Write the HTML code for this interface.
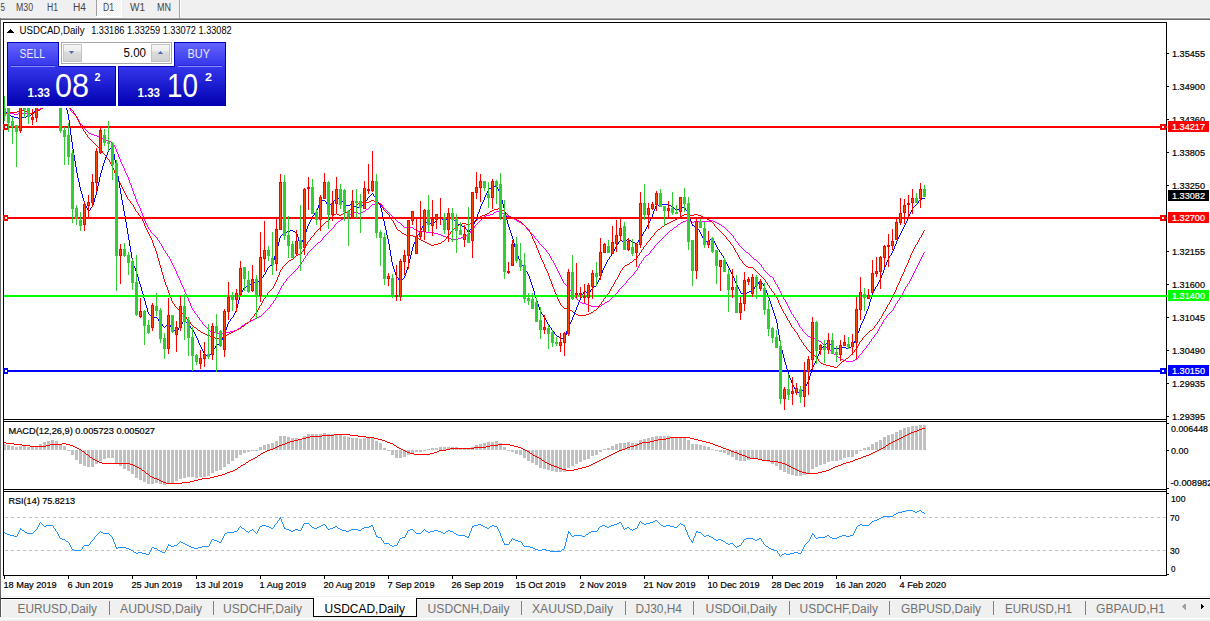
<!DOCTYPE html>
<html><head><meta charset="utf-8"><style>
html,body{margin:0;padding:0}
body{width:1210px;height:621px;overflow:hidden;background:#fff;position:relative;font-family:"Liberation Sans",sans-serif}
svg{position:absolute;left:0;top:0}
svg text{font-family:"Liberation Sans",sans-serif}
.btn{position:absolute;background:linear-gradient(#5a5aff,#2828e6);box-sizing:border-box;border:1px solid #1a1ad0}
.pbox{position:absolute;background:linear-gradient(#2a2ae6,#0000b4);box-sizing:border-box;border:1px solid #0000a8}
.spin{position:absolute;background:linear-gradient(#f4f4f4 0%,#ececec 45%,#dcdcdc 55%,#d4d4d4 100%);box-sizing:border-box;border:1px solid #c4c4c4}
</style></head><body>
<svg width="1210" height="621" shape-rendering="crispEdges">
<defs>
<pattern id="chk" x="0" y="0" width="2" height="2" patternUnits="userSpaceOnUse"><rect width="2" height="2" fill="#f0f0f0"/><rect width="1" height="1" fill="#fff"/><rect x="1" y="1" width="1" height="1" fill="#fff"/></pattern>
<clipPath id="cmain"><rect x="4" y="23" width="1163" height="396"/></clipPath>
<clipPath id="cmacd"><rect x="4" y="422" width="1162" height="67"/></clipPath>
<clipPath id="crsi"><rect x="4" y="492" width="1162" height="83"/></clipPath>
</defs>
<rect x="0" y="0" width="1210" height="17" fill="#f0f0f0"/>
<rect x="0" y="17" width="1210" height="1" fill="#f7f7f7"/>
<rect x="0" y="18" width="1210" height="1" fill="#a0a0a0"/>
<rect x="0" y="19" width="1210" height="1" fill="#696969"/>
<rect x="97" y="0" width="24" height="16" fill="url(#chk)"/>
<rect x="96" y="0" width="1" height="16" fill="#a0a0a0"/>
<rect x="121" y="0" width="1" height="17" fill="#ffffff"/>
<rect x="96" y="16" width="26" height="1" fill="#ffffff"/>
<rect x="179" y="0" width="1" height="18" fill="#a0a0a0"/>
<rect x="180" y="0" width="1" height="17" fill="#ffffff"/>
<text x="0.5" y="10.5" font-size="10" fill="#444" textLength="4.5" lengthAdjust="spacingAndGlyphs" >5</text>
<text x="16" y="10.5" font-size="10" fill="#444" textLength="17" lengthAdjust="spacingAndGlyphs" >M30</text>
<text x="47" y="10.5" font-size="10" fill="#444" textLength="11" lengthAdjust="spacingAndGlyphs" >H1</text>
<text x="73" y="10.5" font-size="10" fill="#444" textLength="13" lengthAdjust="spacingAndGlyphs" >H4</text>
<text x="103" y="10.5" font-size="10" fill="#444" textLength="11" lengthAdjust="spacingAndGlyphs" >D1</text>
<text x="130" y="10.5" font-size="10" fill="#444" textLength="15" lengthAdjust="spacingAndGlyphs" >W1</text>
<text x="157" y="10.5" font-size="10" fill="#444" textLength="14" lengthAdjust="spacingAndGlyphs" >MN</text>
<rect x="0" y="18" width="1" height="578" fill="#696969"/>
<rect x="3" y="22" width="1164" height="1" fill="#000"/>
<rect x="3" y="22" width="1" height="554" fill="#000"/>
<rect x="1166" y="22" width="1" height="554" fill="#000"/>
<rect x="3" y="419" width="1164" height="1" fill="#000"/>
<rect x="3" y="421" width="1164" height="1" fill="#000"/>
<rect x="3" y="489" width="1164" height="1" fill="#000"/>
<rect x="3" y="491" width="1164" height="1" fill="#000"/>
<rect x="3" y="575" width="1164" height="1" fill="#000"/>
<g clip-path="url(#cmain)">
<path d="M0 112h1v1h-1zM1 112h1v1h-1zM2 111h1v1h-1zM3 111h1v1h-1zM4 111h1v1h-1zM5 111h1v1h-1zM6 112h1v1h-1zM7 112h1v1h-1zM8 112h1v1h-1zM9 112h1v1h-1zM10 113h1v1h-1zM11 113h1v1h-1zM12 113h1v1h-1zM13 113h1v1h-1zM14 114h1v1h-1zM15 114h1v1h-1zM16 114h1v1h-1zM17 114h1v1h-1zM18 113h1v1h-1zM19 113h1v1h-1zM20 113h1v1h-1zM21 113h1v1h-1zM22 113h1v1h-1zM23 113h1v1h-1zM24 113h1v1h-1zM25 113h1v1h-1zM26 113h1v1h-1zM27 113h1v1h-1zM28 113h1v1h-1zM29 113h1v1h-1zM30 113h1v1h-1zM31 113h1v1h-1zM32 113h1v1h-1zM33 112h1v1h-1zM34 112h1v1h-1zM35 111h1v1h-1zM36 111h1v1h-1zM37 110h1v1h-1zM38 109h1v1h-1zM39 109h1v1h-1zM40 108h1v1h-1zM41 107h1v1h-1zM42 107h1v1h-1zM43 106h1v1h-1zM44 106h1v1h-1zM45 106h1v1h-1zM46 105h1v1h-1zM47 105h1v1h-1zM48 105h1v1h-1zM49 104h1v1h-1zM50 104h1v1h-1zM51 103h1v1h-1zM52 103h1v1h-1zM53 103h1v1h-1zM54 102h1v1h-1zM55 102h1v1h-1zM56 102h1v1h-1zM57 103h1v1h-1zM58 103h1v1h-1zM59 104h1v1h-1zM60 104h1v1h-1zM61 104h1v1h-1zM62 105h1v1h-1zM63 105h1v1h-1zM64 105h1v1h-1zM65 106h1v1h-1zM66 106h1v1h-1zM67 107h1v1h-1zM68 107h1v1h-1zM69 108h1v1h-1zM70 109h1v2h-1zM71 111h1v1h-1zM72 112h1v1h-1zM73 113h1v1h-1zM74 114h1v1h-1zM75 115h1v1h-1zM76 116h1v1h-1zM77 117h1v2h-1zM78 119h1v2h-1zM79 121h1v2h-1zM80 123h1v1h-1zM81 124h1v1h-1zM82 125h1v2h-1zM83 127h1v1h-1zM84 128h1v1h-1zM85 129h1v1h-1zM86 130h1v1h-1zM87 131h1v1h-1zM88 132h1v1h-1zM89 133h1v1h-1zM90 133h1v1h-1zM91 134h1v1h-1zM92 134h1v1h-1zM93 134h1v1h-1zM94 135h1v1h-1zM95 135h1v1h-1zM96 135h1v1h-1zM97 136h1v1h-1zM98 136h1v1h-1zM99 137h1v1h-1zM100 137h1v1h-1zM101 138h1v1h-1zM102 138h1v1h-1zM103 139h1v1h-1zM104 139h1v1h-1zM105 139h1v1h-1zM106 140h1v1h-1zM107 140h1v1h-1zM108 140h1v1h-1zM109 141h1v1h-1zM110 141h1v1h-1zM111 142h1v1h-1zM112 142h1v1h-1zM113 143h1v2h-1zM114 145h1v2h-1zM115 147h1v2h-1zM116 149h1v3h-1zM117 152h1v2h-1zM118 154h1v3h-1zM119 157h1v2h-1zM120 159h1v3h-1zM121 162h1v2h-1zM122 164h1v2h-1zM123 166h1v2h-1zM124 168h1v3h-1zM125 171h1v2h-1zM126 173h1v2h-1zM127 175h1v2h-1zM128 177h1v3h-1zM129 180h1v3h-1zM130 183h1v2h-1zM131 185h1v3h-1zM132 188h1v3h-1zM133 191h1v3h-1zM134 194h1v2h-1zM135 196h1v3h-1zM136 199h1v3h-1zM137 202h1v2h-1zM138 204h1v2h-1zM139 206h1v2h-1zM140 208h1v3h-1zM141 211h1v2h-1zM142 213h1v3h-1zM143 216h1v2h-1zM144 218h1v3h-1zM145 221h1v2h-1zM146 223h1v2h-1zM147 225h1v2h-1zM148 227h1v2h-1zM149 229h1v1h-1zM150 230h1v2h-1zM151 232h1v1h-1zM152 233h1v1h-1zM153 234h1v1h-1zM154 235h1v1h-1zM155 236h1v1h-1zM156 237h1v1h-1zM157 238h1v2h-1zM158 240h1v1h-1zM159 241h1v2h-1zM160 243h1v1h-1zM161 244h1v2h-1zM162 246h1v2h-1zM163 248h1v2h-1zM164 250h1v1h-1zM165 251h1v2h-1zM166 253h1v1h-1zM167 254h1v2h-1zM168 256h1v1h-1zM169 257h1v2h-1zM170 259h1v2h-1zM171 261h1v2h-1zM172 263h1v2h-1zM173 265h1v2h-1zM174 267h1v2h-1zM175 269h1v2h-1zM176 271h1v3h-1zM177 274h1v2h-1zM178 276h1v2h-1zM179 278h1v2h-1zM180 280h1v3h-1zM181 283h1v2h-1zM182 285h1v2h-1zM183 287h1v2h-1zM184 289h1v3h-1zM185 292h1v2h-1zM186 294h1v2h-1zM187 296h1v2h-1zM188 298h1v3h-1zM189 301h1v2h-1zM190 303h1v3h-1zM191 306h1v2h-1zM192 308h1v2h-1zM193 310h1v1h-1zM194 311h1v2h-1zM195 313h1v1h-1zM196 314h1v1h-1zM197 315h1v2h-1zM198 317h1v1h-1zM199 318h1v2h-1zM200 320h1v1h-1zM201 321h1v1h-1zM202 322h1v2h-1zM203 324h1v1h-1zM204 325h1v1h-1zM205 326h1v1h-1zM206 327h1v1h-1zM207 328h1v1h-1zM208 329h1v1h-1zM209 330h1v1h-1zM210 331h1v1h-1zM211 331h1v1h-1zM212 332h1v1h-1zM213 332h1v1h-1zM214 332h1v1h-1zM215 332h1v1h-1zM216 332h1v1h-1zM217 333h1v1h-1zM218 333h1v1h-1zM219 334h1v1h-1zM220 334h1v1h-1zM221 334h1v1h-1zM222 333h1v1h-1zM223 333h1v1h-1zM224 333h1v1h-1zM225 333h1v1h-1zM226 332h1v1h-1zM227 332h1v1h-1zM228 332h1v1h-1zM229 332h1v1h-1zM230 331h1v1h-1zM231 331h1v1h-1zM232 331h1v1h-1zM233 331h1v1h-1zM234 330h1v1h-1zM235 330h1v1h-1zM236 330h1v1h-1zM237 329h1v1h-1zM238 328h1v1h-1zM239 328h1v1h-1zM240 327h1v1h-1zM241 326h1v1h-1zM242 325h1v1h-1zM243 325h1v1h-1zM244 324h1v1h-1zM245 323h1v1h-1zM246 323h1v1h-1zM247 322h1v1h-1zM248 322h1v1h-1zM249 321h1v1h-1zM250 321h1v1h-1zM251 320h1v1h-1zM252 320h1v1h-1zM253 319h1v1h-1zM254 319h1v1h-1zM255 318h1v1h-1zM256 318h1v1h-1zM257 317h1v1h-1zM258 317h1v1h-1zM259 316h1v1h-1zM260 316h1v1h-1zM261 315h1v1h-1zM262 314h1v1h-1zM263 313h1v1h-1zM264 312h1v1h-1zM265 311h1v1h-1zM266 310h1v1h-1zM267 309h1v1h-1zM268 308h1v1h-1zM269 307h1v1h-1zM270 305h1v2h-1zM271 304h1v1h-1zM272 303h1v1h-1zM273 301h1v2h-1zM274 300h1v1h-1zM275 298h1v2h-1zM276 296h1v2h-1zM277 294h1v2h-1zM278 292h1v2h-1zM279 290h1v2h-1zM280 288h1v2h-1zM281 286h1v2h-1zM282 285h1v1h-1zM283 283h1v2h-1zM284 282h1v1h-1zM285 281h1v1h-1zM286 279h1v2h-1zM287 278h1v1h-1zM288 277h1v1h-1zM289 276h1v1h-1zM290 275h1v1h-1zM291 274h1v1h-1zM292 273h1v1h-1zM293 272h1v1h-1zM294 271h1v1h-1zM295 270h1v1h-1zM296 269h1v1h-1zM297 268h1v1h-1zM298 266h1v2h-1zM299 265h1v1h-1zM300 264h1v1h-1zM301 262h1v2h-1zM302 261h1v1h-1zM303 259h1v2h-1zM304 258h1v1h-1zM305 256h1v2h-1zM306 255h1v1h-1zM307 253h1v2h-1zM308 252h1v1h-1zM309 251h1v1h-1zM310 250h1v1h-1zM311 249h1v1h-1zM312 248h1v1h-1zM313 247h1v1h-1zM314 246h1v1h-1zM315 245h1v1h-1zM316 244h1v1h-1zM317 243h1v1h-1zM318 242h1v1h-1zM319 242h1v1h-1zM320 241h1v1h-1zM321 240h1v1h-1zM322 238h1v2h-1zM323 237h1v1h-1zM324 236h1v1h-1zM325 235h1v1h-1zM326 234h1v1h-1zM327 233h1v1h-1zM328 232h1v1h-1zM329 231h1v1h-1zM330 230h1v1h-1zM331 229h1v1h-1zM332 228h1v1h-1zM333 227h1v1h-1zM334 225h1v2h-1zM335 224h1v1h-1zM336 223h1v1h-1zM337 222h1v1h-1zM338 221h1v1h-1zM339 221h1v1h-1zM340 220h1v1h-1zM341 219h1v1h-1zM342 219h1v1h-1zM343 218h1v1h-1zM344 218h1v1h-1zM345 217h1v1h-1zM346 217h1v1h-1zM347 216h1v1h-1zM348 216h1v1h-1zM349 215h1v1h-1zM350 214h1v1h-1zM351 214h1v1h-1zM352 213h1v1h-1zM353 213h1v1h-1zM354 212h1v1h-1zM355 212h1v1h-1zM356 212h1v1h-1zM357 212h1v1h-1zM358 213h1v1h-1zM359 213h1v1h-1zM360 213h1v1h-1zM361 212h1v1h-1zM362 212h1v1h-1zM363 211h1v1h-1zM364 211h1v1h-1zM365 210h1v1h-1zM366 209h1v1h-1zM367 209h1v1h-1zM368 208h1v1h-1zM369 207h1v1h-1zM370 206h1v1h-1zM371 205h1v1h-1zM372 204h1v1h-1zM373 204h1v1h-1zM374 204h1v1h-1zM375 204h1v1h-1zM376 204h1v1h-1zM377 204h1v1h-1zM378 203h1v1h-1zM379 203h1v1h-1zM380 203h1v1h-1zM381 204h1v1h-1zM382 205h1v2h-1zM383 207h1v1h-1zM384 208h1v1h-1zM385 209h1v1h-1zM386 210h1v1h-1zM387 211h1v1h-1zM388 212h1v1h-1zM389 213h1v1h-1zM390 214h1v1h-1zM391 215h1v1h-1zM392 216h1v1h-1zM393 217h1v1h-1zM394 218h1v1h-1zM395 219h1v1h-1zM396 220h1v1h-1zM397 221h1v1h-1zM398 222h1v1h-1zM399 222h1v1h-1zM400 223h1v1h-1zM401 224h1v1h-1zM402 225h1v1h-1zM403 226h1v1h-1zM404 227h1v1h-1zM405 227h1v1h-1zM406 227h1v1h-1zM407 227h1v1h-1zM408 227h1v1h-1zM409 227h1v1h-1zM410 227h1v1h-1zM411 227h1v1h-1zM412 227h1v1h-1zM413 228h1v1h-1zM414 229h1v1h-1zM415 229h1v1h-1zM416 230h1v1h-1zM417 230h1v1h-1zM418 231h1v1h-1zM419 231h1v1h-1zM420 231h1v1h-1zM421 231h1v1h-1zM422 231h1v1h-1zM423 231h1v1h-1zM424 231h1v1h-1zM425 231h1v1h-1zM426 232h1v1h-1zM427 232h1v1h-1zM428 232h1v1h-1zM429 232h1v1h-1zM430 232h1v1h-1zM431 232h1v1h-1zM432 232h1v1h-1zM433 232h1v1h-1zM434 233h1v1h-1zM435 233h1v1h-1zM436 233h1v1h-1zM437 233h1v1h-1zM438 234h1v1h-1zM439 234h1v1h-1zM440 234h1v1h-1zM441 235h1v1h-1zM442 235h1v1h-1zM443 236h1v1h-1zM444 236h1v1h-1zM445 236h1v1h-1zM446 237h1v1h-1zM447 237h1v1h-1zM448 237h1v1h-1zM449 238h1v1h-1zM450 238h1v1h-1zM451 239h1v1h-1zM452 239h1v1h-1zM453 239h1v1h-1zM454 239h1v1h-1zM455 239h1v1h-1zM456 239h1v1h-1zM457 239h1v1h-1zM458 238h1v1h-1zM459 238h1v1h-1zM460 238h1v1h-1zM461 237h1v1h-1zM462 237h1v1h-1zM463 236h1v1h-1zM464 236h1v1h-1zM465 235h1v1h-1zM466 235h1v1h-1zM467 234h1v1h-1zM468 234h1v1h-1zM469 233h1v1h-1zM470 231h1v2h-1zM471 230h1v1h-1zM472 229h1v1h-1zM473 228h1v1h-1zM474 226h1v2h-1zM475 225h1v1h-1zM476 224h1v1h-1zM477 223h1v1h-1zM478 222h1v1h-1zM479 221h1v1h-1zM480 220h1v1h-1zM481 219h1v1h-1zM482 218h1v1h-1zM483 217h1v1h-1zM484 216h1v1h-1zM485 216h1v1h-1zM486 215h1v1h-1zM487 215h1v1h-1zM488 215h1v1h-1zM489 215h1v1h-1zM490 214h1v1h-1zM491 214h1v1h-1zM492 214h1v1h-1zM493 213h1v1h-1zM494 212h1v1h-1zM495 212h1v1h-1zM496 211h1v1h-1zM497 211h1v1h-1zM498 211h1v1h-1zM499 211h1v1h-1zM500 211h1v1h-1zM501 212h1v1h-1zM502 213h1v1h-1zM503 213h1v1h-1zM504 214h1v1h-1zM505 215h1v1h-1zM506 215h1v1h-1zM507 216h1v1h-1zM508 216h1v1h-1zM509 216h1v1h-1zM510 217h1v1h-1zM511 217h1v1h-1zM512 217h1v1h-1zM513 218h1v1h-1zM514 219h1v1h-1zM515 219h1v1h-1zM516 220h1v1h-1zM517 221h1v1h-1zM518 221h1v1h-1zM519 222h1v1h-1zM520 222h1v1h-1zM521 223h1v1h-1zM522 224h1v1h-1zM523 224h1v1h-1zM524 225h1v1h-1zM525 226h1v1h-1zM526 227h1v2h-1zM527 229h1v1h-1zM528 230h1v1h-1zM529 231h1v1h-1zM530 232h1v1h-1zM531 233h1v1h-1zM532 234h1v1h-1zM533 235h1v1h-1zM534 236h1v2h-1zM535 238h1v1h-1zM536 239h1v1h-1zM537 240h1v1h-1zM538 241h1v2h-1zM539 243h1v1h-1zM540 244h1v1h-1zM541 245h1v1h-1zM542 246h1v1h-1zM543 247h1v1h-1zM544 248h1v1h-1zM545 249h1v1h-1zM546 250h1v2h-1zM547 252h1v1h-1zM548 253h1v1h-1zM549 254h1v2h-1zM550 256h1v2h-1zM551 258h1v2h-1zM552 260h1v1h-1zM553 261h1v2h-1zM554 263h1v2h-1zM555 265h1v2h-1zM556 267h1v2h-1zM557 269h1v2h-1zM558 271h1v2h-1zM559 273h1v2h-1zM560 275h1v2h-1zM561 277h1v2h-1zM562 279h1v2h-1zM563 281h1v2h-1zM564 283h1v1h-1zM565 284h1v1h-1zM566 285h1v1h-1zM567 286h1v1h-1zM568 287h1v1h-1zM569 288h1v2h-1zM570 290h1v1h-1zM571 291h1v2h-1zM572 293h1v1h-1zM573 294h1v1h-1zM574 295h1v2h-1zM575 297h1v1h-1zM576 298h1v1h-1zM577 299h1v1h-1zM578 300h1v1h-1zM579 301h1v1h-1zM580 302h1v1h-1zM581 302h1v1h-1zM582 303h1v1h-1zM583 303h1v1h-1zM584 303h1v1h-1zM585 303h1v1h-1zM586 304h1v1h-1zM587 304h1v1h-1zM588 304h1v1h-1zM589 305h1v1h-1zM590 305h1v1h-1zM591 306h1v1h-1zM592 306h1v1h-1zM593 306h1v1h-1zM594 306h1v1h-1zM595 306h1v1h-1zM596 306h1v1h-1zM597 306h1v1h-1zM598 306h1v1h-1zM599 306h1v1h-1zM600 306h1v1h-1zM601 305h1v1h-1zM602 304h1v1h-1zM603 304h1v1h-1zM604 303h1v1h-1zM605 302h1v1h-1zM606 302h1v1h-1zM607 301h1v1h-1zM608 301h1v1h-1zM609 300h1v1h-1zM610 299h1v1h-1zM611 298h1v1h-1zM612 297h1v1h-1zM613 296h1v1h-1zM614 295h1v1h-1zM615 294h1v1h-1zM616 293h1v1h-1zM617 292h1v1h-1zM618 290h1v2h-1zM619 289h1v1h-1zM620 288h1v1h-1zM621 287h1v1h-1zM622 286h1v1h-1zM623 285h1v1h-1zM624 284h1v1h-1zM625 283h1v1h-1zM626 281h1v2h-1zM627 280h1v1h-1zM628 279h1v1h-1zM629 278h1v1h-1zM630 277h1v1h-1zM631 276h1v1h-1zM632 275h1v1h-1zM633 274h1v1h-1zM634 272h1v2h-1zM635 271h1v1h-1zM636 270h1v1h-1zM637 268h1v2h-1zM638 266h1v2h-1zM639 264h1v2h-1zM640 263h1v1h-1zM641 261h1v2h-1zM642 260h1v1h-1zM643 258h1v2h-1zM644 257h1v1h-1zM645 256h1v1h-1zM646 255h1v1h-1zM647 255h1v1h-1zM648 254h1v1h-1zM649 253h1v1h-1zM650 251h1v2h-1zM651 250h1v1h-1zM652 249h1v1h-1zM653 248h1v1h-1zM654 246h1v2h-1zM655 245h1v1h-1zM656 244h1v1h-1zM657 243h1v1h-1zM658 242h1v1h-1zM659 241h1v1h-1zM660 240h1v1h-1zM661 239h1v1h-1zM662 238h1v1h-1zM663 237h1v1h-1zM664 236h1v1h-1zM665 235h1v1h-1zM666 234h1v1h-1zM667 233h1v1h-1zM668 232h1v1h-1zM669 231h1v1h-1zM670 230h1v1h-1zM671 230h1v1h-1zM672 229h1v1h-1zM673 228h1v1h-1zM674 227h1v1h-1zM675 227h1v1h-1zM676 226h1v1h-1zM677 225h1v1h-1zM678 224h1v1h-1zM679 224h1v1h-1zM680 223h1v1h-1zM681 222h1v1h-1zM682 222h1v1h-1zM683 221h1v1h-1zM684 221h1v1h-1zM685 221h1v1h-1zM686 220h1v1h-1zM687 220h1v1h-1zM688 220h1v1h-1zM689 221h1v1h-1zM690 221h1v1h-1zM691 222h1v1h-1zM692 222h1v1h-1zM693 222h1v1h-1zM694 221h1v1h-1zM695 221h1v1h-1zM696 221h1v1h-1zM697 221h1v1h-1zM698 221h1v1h-1zM699 221h1v1h-1zM700 221h1v1h-1zM701 221h1v1h-1zM702 221h1v1h-1zM703 221h1v1h-1zM704 221h1v1h-1zM705 221h1v1h-1zM706 221h1v1h-1zM707 221h1v1h-1zM708 221h1v1h-1zM709 221h1v1h-1zM710 220h1v1h-1zM711 220h1v1h-1zM712 220h1v1h-1zM713 221h1v1h-1zM714 221h1v1h-1zM715 222h1v1h-1zM716 222h1v1h-1zM717 223h1v1h-1zM718 223h1v1h-1zM719 224h1v1h-1zM720 224h1v1h-1zM721 225h1v1h-1zM722 226h1v1h-1zM723 226h1v1h-1zM724 227h1v1h-1zM725 228h1v1h-1zM726 229h1v1h-1zM727 230h1v1h-1zM728 231h1v1h-1zM729 232h1v1h-1zM730 233h1v1h-1zM731 234h1v1h-1zM732 235h1v1h-1zM733 236h1v2h-1zM734 238h1v1h-1zM735 239h1v2h-1zM736 241h1v1h-1zM737 242h1v1h-1zM738 243h1v2h-1zM739 245h1v1h-1zM740 246h1v1h-1zM741 247h1v1h-1zM742 248h1v1h-1zM743 249h1v1h-1zM744 250h1v1h-1zM745 251h1v1h-1zM746 252h1v1h-1zM747 252h1v1h-1zM748 253h1v1h-1zM749 254h1v1h-1zM750 255h1v1h-1zM751 256h1v1h-1zM752 257h1v1h-1zM753 258h1v1h-1zM754 259h1v1h-1zM755 259h1v1h-1zM756 260h1v1h-1zM757 261h1v1h-1zM758 262h1v1h-1zM759 263h1v1h-1zM760 264h1v1h-1zM761 265h1v2h-1zM762 267h1v1h-1zM763 268h1v2h-1zM764 270h1v1h-1zM765 271h1v1h-1zM766 272h1v1h-1zM767 273h1v1h-1zM768 274h1v1h-1zM769 275h1v1h-1zM770 276h1v1h-1zM771 276h1v1h-1zM772 277h1v1h-1zM773 278h1v2h-1zM774 280h1v2h-1zM775 282h1v2h-1zM776 284h1v1h-1zM777 285h1v2h-1zM778 287h1v2h-1zM779 289h1v2h-1zM780 291h1v2h-1zM781 293h1v2h-1zM782 295h1v2h-1zM783 297h1v2h-1zM784 299h1v1h-1zM785 300h1v2h-1zM786 302h1v2h-1zM787 304h1v2h-1zM788 306h1v2h-1zM789 308h1v2h-1zM790 310h1v2h-1zM791 312h1v2h-1zM792 314h1v1h-1zM793 315h1v2h-1zM794 317h1v1h-1zM795 318h1v2h-1zM796 320h1v1h-1zM797 321h1v2h-1zM798 323h1v2h-1zM799 325h1v2h-1zM800 327h1v1h-1zM801 328h1v1h-1zM802 329h1v2h-1zM803 331h1v1h-1zM804 332h1v1h-1zM805 333h1v1h-1zM806 334h1v1h-1zM807 335h1v1h-1zM808 336h1v1h-1zM809 336h1v1h-1zM810 337h1v1h-1zM811 337h1v1h-1zM812 337h1v1h-1zM813 338h1v1h-1zM814 338h1v1h-1zM815 339h1v1h-1zM816 339h1v1h-1zM817 340h1v1h-1zM818 340h1v1h-1zM819 341h1v1h-1zM820 341h1v1h-1zM821 342h1v1h-1zM822 343h1v1h-1zM823 344h1v1h-1zM824 345h1v1h-1zM825 346h1v1h-1zM826 347h1v1h-1zM827 347h1v1h-1zM828 348h1v1h-1zM829 349h1v1h-1zM830 350h1v1h-1zM831 351h1v1h-1zM832 352h1v1h-1zM833 353h1v1h-1zM834 354h1v1h-1zM835 354h1v1h-1zM836 355h1v1h-1zM837 356h1v1h-1zM838 357h1v1h-1zM839 357h1v1h-1zM840 358h1v1h-1zM841 359h1v1h-1zM842 359h1v1h-1zM843 360h1v1h-1zM844 360h1v1h-1zM845 360h1v1h-1zM846 361h1v1h-1zM847 361h1v1h-1zM848 361h1v1h-1zM849 361h1v1h-1zM850 361h1v1h-1zM851 361h1v1h-1zM852 361h1v1h-1zM853 360h1v1h-1zM854 360h1v1h-1zM855 359h1v1h-1zM856 359h1v1h-1zM857 358h1v1h-1zM858 356h1v2h-1zM859 355h1v1h-1zM860 354h1v1h-1zM861 353h1v1h-1zM862 351h1v2h-1zM863 350h1v1h-1zM864 349h1v1h-1zM865 348h1v1h-1zM866 346h1v2h-1zM867 345h1v1h-1zM868 344h1v1h-1zM869 342h1v2h-1zM870 341h1v1h-1zM871 339h1v2h-1zM872 338h1v1h-1zM873 337h1v1h-1zM874 335h1v2h-1zM875 334h1v1h-1zM876 333h1v1h-1zM877 331h1v2h-1zM878 329h1v2h-1zM879 327h1v2h-1zM880 326h1v1h-1zM881 324h1v2h-1zM882 322h1v2h-1zM883 320h1v2h-1zM884 319h1v1h-1zM885 318h1v1h-1zM886 316h1v2h-1zM887 315h1v1h-1zM888 314h1v1h-1zM889 313h1v1h-1zM890 312h1v1h-1zM891 311h1v1h-1zM892 310h1v1h-1zM893 308h1v2h-1zM894 306h1v2h-1zM895 304h1v2h-1zM896 303h1v1h-1zM897 301h1v2h-1zM898 300h1v1h-1zM899 298h1v2h-1zM900 297h1v1h-1zM901 295h1v2h-1zM902 293h1v2h-1zM903 291h1v2h-1zM904 289h1v2h-1zM905 287h1v2h-1zM906 286h1v1h-1zM907 284h1v2h-1zM908 283h1v1h-1zM909 281h1v2h-1zM910 279h1v2h-1zM911 277h1v2h-1zM912 275h1v2h-1zM913 273h1v2h-1zM914 271h1v2h-1zM915 269h1v2h-1zM916 267h1v2h-1zM917 265h1v2h-1zM918 263h1v2h-1zM919 261h1v2h-1zM920 259h1v2h-1zM921 257h1v2h-1zM922 255h1v2h-1zM923 253h1v2h-1zM924 252h1v1h-1z" fill="#ff00ff"/>
<path d="M0 112h1v1h-1zM1 112h1v1h-1zM2 112h1v1h-1zM3 112h1v1h-1zM4 112h1v1h-1zM5 112h1v1h-1zM6 113h1v1h-1zM7 113h1v1h-1zM8 113h1v1h-1zM9 113h1v1h-1zM10 112h1v1h-1zM11 112h1v1h-1zM12 112h1v1h-1zM13 112h1v1h-1zM14 112h1v1h-1zM15 112h1v1h-1zM16 112h1v1h-1zM17 111h1v1h-1zM18 111h1v1h-1zM19 110h1v1h-1zM20 110h1v1h-1zM21 110h1v1h-1zM22 110h1v1h-1zM23 110h1v1h-1zM24 110h1v1h-1zM25 111h1v1h-1zM26 111h1v1h-1zM27 112h1v1h-1zM28 112h1v1h-1zM29 112h1v1h-1zM30 113h1v1h-1zM31 113h1v1h-1zM32 113h1v1h-1zM33 113h1v1h-1zM34 112h1v1h-1zM35 112h1v1h-1zM36 112h1v1h-1zM37 111h1v1h-1zM38 110h1v1h-1zM39 110h1v1h-1zM40 109h1v1h-1zM41 108h1v1h-1zM42 108h1v1h-1zM43 107h1v1h-1zM44 107h1v1h-1zM45 106h1v1h-1zM46 105h1v1h-1zM47 105h1v1h-1zM48 104h1v1h-1zM49 103h1v1h-1zM50 102h1v1h-1zM51 102h1v1h-1zM52 101h1v1h-1zM53 100h1v1h-1zM54 100h1v1h-1zM55 99h1v1h-1zM56 99h1v1h-1zM57 100h1v1h-1zM58 100h1v1h-1zM59 101h1v1h-1zM60 101h1v1h-1zM61 102h1v1h-1zM62 102h1v1h-1zM63 103h1v1h-1zM64 103h1v1h-1zM65 104h1v1h-1zM66 104h1v1h-1zM67 105h1v1h-1zM68 105h1v1h-1zM69 106h1v1h-1zM70 107h1v2h-1zM71 109h1v1h-1zM72 110h1v1h-1zM73 111h1v2h-1zM74 113h1v1h-1zM75 114h1v2h-1zM76 116h1v2h-1zM77 118h1v2h-1zM78 120h1v2h-1zM79 122h1v2h-1zM80 124h1v2h-1zM81 126h1v2h-1zM82 128h1v1h-1zM83 129h1v2h-1zM84 131h1v1h-1zM85 132h1v2h-1zM86 134h1v1h-1zM87 135h1v2h-1zM88 137h1v1h-1zM89 138h1v1h-1zM90 139h1v1h-1zM91 140h1v1h-1zM92 141h1v1h-1zM93 142h1v1h-1zM94 143h1v1h-1zM95 144h1v1h-1zM96 145h1v1h-1zM97 146h1v1h-1zM98 147h1v1h-1zM99 148h1v1h-1zM100 149h1v1h-1zM101 150h1v1h-1zM102 151h1v2h-1zM103 153h1v1h-1zM104 154h1v1h-1zM105 155h1v1h-1zM106 156h1v2h-1zM107 158h1v1h-1zM108 159h1v1h-1zM109 160h1v2h-1zM110 162h1v2h-1zM111 164h1v2h-1zM112 166h1v2h-1zM113 168h1v2h-1zM114 170h1v3h-1zM115 173h1v2h-1zM116 175h1v2h-1zM117 177h1v2h-1zM118 179h1v2h-1zM119 181h1v2h-1zM120 183h1v2h-1zM121 185h1v2h-1zM122 187h1v2h-1zM123 189h1v2h-1zM124 191h1v2h-1zM125 193h1v2h-1zM126 195h1v2h-1zM127 197h1v2h-1zM128 199h1v1h-1zM129 200h1v1h-1zM130 201h1v2h-1zM131 203h1v1h-1zM132 204h1v1h-1zM133 205h1v2h-1zM134 207h1v2h-1zM135 209h1v2h-1zM136 211h1v1h-1zM137 212h1v1h-1zM138 213h1v2h-1zM139 215h1v1h-1zM140 216h1v1h-1zM141 217h1v2h-1zM142 219h1v2h-1zM143 221h1v2h-1zM144 223h1v3h-1zM145 226h1v2h-1zM146 228h1v2h-1zM147 230h1v2h-1zM148 232h1v2h-1zM149 234h1v2h-1zM150 236h1v2h-1zM151 238h1v2h-1zM152 240h1v3h-1zM153 243h1v3h-1zM154 246h1v2h-1zM155 248h1v3h-1zM156 251h1v3h-1zM157 254h1v4h-1zM158 258h1v3h-1zM159 261h1v4h-1zM160 265h1v3h-1zM161 268h1v4h-1zM162 272h1v3h-1zM163 275h1v4h-1zM164 279h1v3h-1zM165 282h1v3h-1zM166 285h1v2h-1zM167 287h1v3h-1zM168 290h1v3h-1zM169 293h1v3h-1zM170 296h1v2h-1zM171 298h1v3h-1zM172 301h1v2h-1zM173 303h1v1h-1zM174 304h1v2h-1zM175 306h1v1h-1zM176 307h1v1h-1zM177 308h1v1h-1zM178 309h1v1h-1zM179 310h1v1h-1zM180 311h1v1h-1zM181 312h1v1h-1zM182 313h1v1h-1zM183 314h1v1h-1zM184 315h1v1h-1zM185 316h1v1h-1zM186 317h1v2h-1zM187 319h1v1h-1zM188 320h1v1h-1zM189 321h1v1h-1zM190 322h1v2h-1zM191 324h1v1h-1zM192 325h1v1h-1zM193 326h1v1h-1zM194 327h1v1h-1zM195 327h1v1h-1zM196 328h1v1h-1zM197 329h1v1h-1zM198 330h1v1h-1zM199 330h1v1h-1zM200 331h1v1h-1zM201 332h1v1h-1zM202 332h1v1h-1zM203 333h1v1h-1zM204 333h1v1h-1zM205 334h1v1h-1zM206 334h1v1h-1zM207 335h1v1h-1zM208 335h1v1h-1zM209 335h1v1h-1zM210 336h1v1h-1zM211 336h1v1h-1zM212 336h1v1h-1zM213 337h1v1h-1zM214 337h1v1h-1zM215 338h1v1h-1zM216 338h1v1h-1zM217 338h1v1h-1zM218 338h1v1h-1zM219 338h1v1h-1zM220 338h1v1h-1zM221 337h1v1h-1zM222 337h1v1h-1zM223 336h1v1h-1zM224 336h1v1h-1zM225 335h1v1h-1zM226 335h1v1h-1zM227 334h1v1h-1zM228 334h1v1h-1zM229 333h1v1h-1zM230 333h1v1h-1zM231 332h1v1h-1zM232 332h1v1h-1zM233 331h1v1h-1zM234 331h1v1h-1zM235 330h1v1h-1zM236 330h1v1h-1zM237 329h1v1h-1zM238 329h1v1h-1zM239 328h1v1h-1zM240 328h1v1h-1zM241 327h1v1h-1zM242 326h1v1h-1zM243 326h1v1h-1zM244 325h1v1h-1zM245 324h1v1h-1zM246 323h1v1h-1zM247 323h1v1h-1zM248 322h1v1h-1zM249 321h1v1h-1zM250 319h1v2h-1zM251 318h1v1h-1zM252 317h1v1h-1zM253 316h1v1h-1zM254 314h1v2h-1zM255 313h1v1h-1zM256 312h1v1h-1zM257 310h1v2h-1zM258 308h1v2h-1zM259 306h1v2h-1zM260 305h1v1h-1zM261 303h1v2h-1zM262 301h1v2h-1zM263 299h1v2h-1zM264 298h1v1h-1zM265 296h1v2h-1zM266 295h1v1h-1zM267 293h1v2h-1zM268 292h1v1h-1zM269 291h1v1h-1zM270 290h1v1h-1zM271 289h1v1h-1zM272 288h1v1h-1zM273 286h1v2h-1zM274 284h1v2h-1zM275 282h1v2h-1zM276 280h1v2h-1zM277 277h1v3h-1zM278 275h1v2h-1zM279 272h1v3h-1zM280 270h1v2h-1zM281 269h1v1h-1zM282 267h1v2h-1zM283 266h1v1h-1zM284 265h1v1h-1zM285 264h1v1h-1zM286 263h1v1h-1zM287 262h1v1h-1zM288 261h1v1h-1zM289 260h1v1h-1zM290 260h1v1h-1zM291 259h1v1h-1zM292 259h1v1h-1zM293 258h1v1h-1zM294 257h1v1h-1zM295 256h1v1h-1zM296 255h1v1h-1zM297 255h1v1h-1zM298 254h1v1h-1zM299 254h1v1h-1zM300 254h1v1h-1zM301 252h1v2h-1zM302 251h1v1h-1zM303 249h1v2h-1zM304 248h1v1h-1zM305 246h1v2h-1zM306 244h1v2h-1zM307 242h1v2h-1zM308 241h1v1h-1zM309 240h1v1h-1zM310 238h1v2h-1zM311 237h1v1h-1zM312 236h1v1h-1zM313 235h1v1h-1zM314 233h1v2h-1zM315 232h1v1h-1zM316 231h1v1h-1zM317 230h1v1h-1zM318 229h1v1h-1zM319 228h1v1h-1zM320 227h1v1h-1zM321 226h1v1h-1zM322 225h1v1h-1zM323 224h1v1h-1zM324 223h1v1h-1zM325 222h1v1h-1zM326 221h1v1h-1zM327 221h1v1h-1zM328 220h1v1h-1zM329 219h1v1h-1zM330 218h1v1h-1zM331 217h1v1h-1zM332 216h1v1h-1zM333 215h1v1h-1zM334 214h1v1h-1zM335 214h1v1h-1zM336 213h1v1h-1zM337 214h1v1h-1zM338 214h1v1h-1zM339 215h1v1h-1zM340 215h1v1h-1zM341 214h1v1h-1zM342 214h1v1h-1zM343 213h1v1h-1zM344 213h1v1h-1zM345 212h1v1h-1zM346 212h1v1h-1zM347 211h1v1h-1zM348 211h1v1h-1zM349 210h1v1h-1zM350 209h1v1h-1zM351 209h1v1h-1zM352 208h1v1h-1zM353 207h1v1h-1zM354 206h1v1h-1zM355 206h1v1h-1zM356 205h1v1h-1zM357 204h1v1h-1zM358 203h1v1h-1zM359 203h1v1h-1zM360 202h1v1h-1zM361 202h1v1h-1zM362 202h1v1h-1zM363 202h1v1h-1zM364 202h1v1h-1zM365 202h1v1h-1zM366 202h1v1h-1zM367 202h1v1h-1zM368 202h1v1h-1zM369 201h1v1h-1zM370 201h1v1h-1zM371 200h1v1h-1zM372 200h1v1h-1zM373 200h1v1h-1zM374 201h1v1h-1zM375 201h1v1h-1zM376 201h1v1h-1zM377 202h1v1h-1zM378 203h1v1h-1zM379 203h1v1h-1zM380 204h1v1h-1zM381 205h1v2h-1zM382 207h1v1h-1zM383 208h1v2h-1zM384 210h1v1h-1zM385 211h1v1h-1zM386 212h1v1h-1zM387 213h1v1h-1zM388 214h1v1h-1zM389 215h1v2h-1zM390 217h1v1h-1zM391 218h1v2h-1zM392 220h1v1h-1zM393 221h1v2h-1zM394 223h1v2h-1zM395 225h1v2h-1zM396 227h1v2h-1zM397 229h1v1h-1zM398 230h1v1h-1zM399 230h1v1h-1zM400 231h1v1h-1zM401 232h1v1h-1zM402 233h1v1h-1zM403 233h1v1h-1zM404 234h1v1h-1zM405 234h1v1h-1zM406 235h1v1h-1zM407 235h1v1h-1zM408 235h1v1h-1zM409 235h1v1h-1zM410 235h1v1h-1zM411 235h1v1h-1zM412 235h1v1h-1zM413 236h1v1h-1zM414 236h1v1h-1zM415 237h1v1h-1zM416 237h1v1h-1zM417 238h1v1h-1zM418 238h1v1h-1zM419 239h1v1h-1zM420 239h1v1h-1zM421 240h1v1h-1zM422 240h1v1h-1zM423 241h1v1h-1zM424 241h1v1h-1zM425 242h1v1h-1zM426 242h1v1h-1zM427 243h1v1h-1zM428 243h1v1h-1zM429 244h1v1h-1zM430 244h1v1h-1zM431 245h1v1h-1zM432 245h1v1h-1zM433 245h1v1h-1zM434 244h1v1h-1zM435 244h1v1h-1zM436 244h1v1h-1zM437 244h1v1h-1zM438 243h1v1h-1zM439 243h1v1h-1zM440 243h1v1h-1zM441 242h1v1h-1zM442 241h1v1h-1zM443 241h1v1h-1zM444 240h1v1h-1zM445 239h1v1h-1zM446 237h1v2h-1zM447 236h1v1h-1zM448 235h1v1h-1zM449 234h1v1h-1zM450 232h1v2h-1zM451 231h1v1h-1zM452 230h1v1h-1zM453 229h1v1h-1zM454 228h1v1h-1zM455 227h1v1h-1zM456 226h1v1h-1zM457 225h1v1h-1zM458 225h1v1h-1zM459 224h1v1h-1zM460 224h1v1h-1zM461 224h1v1h-1zM462 223h1v1h-1zM463 223h1v1h-1zM464 223h1v1h-1zM465 223h1v1h-1zM466 224h1v1h-1zM467 224h1v1h-1zM468 224h1v1h-1zM469 224h1v1h-1zM470 223h1v1h-1zM471 223h1v1h-1zM472 223h1v1h-1zM473 222h1v1h-1zM474 221h1v1h-1zM475 221h1v1h-1zM476 220h1v1h-1zM477 219h1v1h-1zM478 218h1v1h-1zM479 217h1v1h-1zM480 216h1v1h-1zM481 216h1v1h-1zM482 215h1v1h-1zM483 215h1v1h-1zM484 215h1v1h-1zM485 214h1v1h-1zM486 214h1v1h-1zM487 213h1v1h-1zM488 213h1v1h-1zM489 212h1v1h-1zM490 211h1v1h-1zM491 211h1v1h-1zM492 210h1v1h-1zM493 210h1v1h-1zM494 209h1v1h-1zM495 209h1v1h-1zM496 209h1v1h-1zM497 209h1v1h-1zM498 208h1v1h-1zM499 208h1v1h-1zM500 208h1v1h-1zM501 209h1v1h-1zM502 210h1v1h-1zM503 210h1v1h-1zM504 211h1v1h-1zM505 212h1v1h-1zM506 213h1v1h-1zM507 214h1v1h-1zM508 215h1v1h-1zM509 216h1v1h-1zM510 216h1v1h-1zM511 217h1v1h-1zM512 217h1v1h-1zM513 218h1v1h-1zM514 218h1v1h-1zM515 219h1v1h-1zM516 219h1v1h-1zM517 220h1v1h-1zM518 220h1v1h-1zM519 221h1v1h-1zM520 221h1v1h-1zM521 222h1v1h-1zM522 223h1v1h-1zM523 224h1v1h-1zM524 225h1v1h-1zM525 226h1v1h-1zM526 227h1v1h-1zM527 228h1v1h-1zM528 229h1v1h-1zM529 230h1v2h-1zM530 232h1v2h-1zM531 234h1v2h-1zM532 236h1v3h-1zM533 239h1v2h-1zM534 241h1v2h-1zM535 243h1v2h-1zM536 245h1v3h-1zM537 248h1v2h-1zM538 250h1v3h-1zM539 253h1v2h-1zM540 255h1v3h-1zM541 258h1v2h-1zM542 260h1v2h-1zM543 262h1v2h-1zM544 264h1v3h-1zM545 267h1v2h-1zM546 269h1v2h-1zM547 271h1v2h-1zM548 273h1v3h-1zM549 276h1v3h-1zM550 279h1v2h-1zM551 281h1v3h-1zM552 284h1v3h-1zM553 287h1v2h-1zM554 289h1v3h-1zM555 292h1v2h-1zM556 294h1v3h-1zM557 297h1v2h-1zM558 299h1v2h-1zM559 301h1v2h-1zM560 303h1v2h-1zM561 305h1v1h-1zM562 306h1v1h-1zM563 307h1v1h-1zM564 308h1v1h-1zM565 308h1v1h-1zM566 308h1v1h-1zM567 308h1v1h-1zM568 308h1v1h-1zM569 309h1v1h-1zM570 310h1v1h-1zM571 310h1v1h-1zM572 311h1v1h-1zM573 312h1v1h-1zM574 313h1v1h-1zM575 313h1v1h-1zM576 314h1v1h-1zM577 314h1v1h-1zM578 315h1v1h-1zM579 315h1v1h-1zM580 315h1v1h-1zM581 315h1v1h-1zM582 315h1v1h-1zM583 315h1v1h-1zM584 315h1v1h-1zM585 315h1v1h-1zM586 314h1v1h-1zM587 314h1v1h-1zM588 314h1v1h-1zM589 313h1v1h-1zM590 313h1v1h-1zM591 312h1v1h-1zM592 312h1v1h-1zM593 311h1v1h-1zM594 310h1v1h-1zM595 310h1v1h-1zM596 309h1v1h-1zM597 308h1v1h-1zM598 306h1v2h-1zM599 305h1v1h-1zM600 304h1v1h-1zM601 302h1v2h-1zM602 301h1v1h-1zM603 299h1v2h-1zM604 298h1v1h-1zM605 297h1v1h-1zM606 295h1v2h-1zM607 294h1v1h-1zM608 293h1v1h-1zM609 291h1v2h-1zM610 289h1v2h-1zM611 287h1v2h-1zM612 286h1v1h-1zM613 284h1v2h-1zM614 282h1v2h-1zM615 280h1v2h-1zM616 279h1v1h-1zM617 277h1v2h-1zM618 275h1v2h-1zM619 273h1v2h-1zM620 271h1v2h-1zM621 270h1v1h-1zM622 268h1v2h-1zM623 267h1v1h-1zM624 266h1v1h-1zM625 265h1v1h-1zM626 265h1v1h-1zM627 264h1v1h-1zM628 264h1v1h-1zM629 263h1v1h-1zM630 262h1v1h-1zM631 262h1v1h-1zM632 261h1v1h-1zM633 260h1v1h-1zM634 259h1v1h-1zM635 259h1v1h-1zM636 258h1v1h-1zM637 256h1v2h-1zM638 255h1v1h-1zM639 253h1v2h-1zM640 252h1v1h-1zM641 250h1v2h-1zM642 249h1v1h-1zM643 247h1v2h-1zM644 246h1v1h-1zM645 245h1v1h-1zM646 243h1v2h-1zM647 242h1v1h-1zM648 241h1v1h-1zM649 240h1v1h-1zM650 238h1v2h-1zM651 237h1v1h-1zM652 236h1v1h-1zM653 235h1v1h-1zM654 233h1v2h-1zM655 232h1v1h-1zM656 231h1v1h-1zM657 230h1v1h-1zM658 229h1v1h-1zM659 229h1v1h-1zM660 228h1v1h-1zM661 227h1v1h-1zM662 226h1v1h-1zM663 226h1v1h-1zM664 225h1v1h-1zM665 224h1v1h-1zM666 224h1v1h-1zM667 223h1v1h-1zM668 223h1v1h-1zM669 222h1v1h-1zM670 222h1v1h-1zM671 221h1v1h-1zM672 221h1v1h-1zM673 220h1v1h-1zM674 220h1v1h-1zM675 219h1v1h-1zM676 219h1v1h-1zM677 218h1v1h-1zM678 218h1v1h-1zM679 217h1v1h-1zM680 217h1v1h-1zM681 216h1v1h-1zM682 215h1v1h-1zM683 215h1v1h-1zM684 214h1v1h-1zM685 214h1v1h-1zM686 214h1v1h-1zM687 214h1v1h-1zM688 214h1v1h-1zM689 214h1v1h-1zM690 215h1v1h-1zM691 215h1v1h-1zM692 215h1v1h-1zM693 215h1v1h-1zM694 214h1v1h-1zM695 214h1v1h-1zM696 214h1v1h-1zM697 214h1v1h-1zM698 215h1v1h-1zM699 215h1v1h-1zM700 215h1v1h-1zM701 216h1v1h-1zM702 216h1v1h-1zM703 217h1v1h-1zM704 217h1v1h-1zM705 218h1v1h-1zM706 218h1v1h-1zM707 219h1v1h-1zM708 219h1v1h-1zM709 220h1v1h-1zM710 221h1v1h-1zM711 221h1v1h-1zM712 222h1v1h-1zM713 223h1v1h-1zM714 224h1v2h-1zM715 226h1v1h-1zM716 227h1v1h-1zM717 228h1v1h-1zM718 229h1v1h-1zM719 230h1v1h-1zM720 231h1v1h-1zM721 232h1v1h-1zM722 233h1v1h-1zM723 234h1v1h-1zM724 235h1v1h-1zM725 236h1v1h-1zM726 237h1v2h-1zM727 239h1v1h-1zM728 240h1v1h-1zM729 241h1v1h-1zM730 242h1v2h-1zM731 244h1v1h-1zM732 245h1v1h-1zM733 246h1v2h-1zM734 248h1v2h-1zM735 250h1v2h-1zM736 252h1v1h-1zM737 253h1v2h-1zM738 255h1v2h-1zM739 257h1v2h-1zM740 259h1v1h-1zM741 260h1v1h-1zM742 261h1v2h-1zM743 263h1v1h-1zM744 264h1v1h-1zM745 265h1v1h-1zM746 266h1v1h-1zM747 266h1v1h-1zM748 267h1v1h-1zM749 267h1v1h-1zM750 267h1v1h-1zM751 267h1v1h-1zM752 267h1v1h-1zM753 268h1v1h-1zM754 269h1v1h-1zM755 270h1v1h-1zM756 271h1v1h-1zM757 272h1v1h-1zM758 273h1v1h-1zM759 274h1v1h-1zM760 275h1v1h-1zM761 276h1v1h-1zM762 277h1v1h-1zM763 278h1v1h-1zM764 279h1v1h-1zM765 280h1v2h-1zM766 282h1v1h-1zM767 283h1v2h-1zM768 285h1v1h-1zM769 286h1v2h-1zM770 288h1v1h-1zM771 289h1v2h-1zM772 291h1v1h-1zM773 292h1v1h-1zM774 293h1v2h-1zM775 295h1v1h-1zM776 296h1v2h-1zM777 298h1v2h-1zM778 300h1v3h-1zM779 303h1v2h-1zM780 305h1v2h-1zM781 307h1v2h-1zM782 309h1v2h-1zM783 311h1v2h-1zM784 313h1v1h-1zM785 314h1v2h-1zM786 316h1v2h-1zM787 318h1v2h-1zM788 320h1v1h-1zM789 321h1v2h-1zM790 323h1v2h-1zM791 325h1v2h-1zM792 327h1v1h-1zM793 328h1v1h-1zM794 329h1v2h-1zM795 331h1v1h-1zM796 332h1v1h-1zM797 333h1v2h-1zM798 335h1v2h-1zM799 337h1v2h-1zM800 339h1v1h-1zM801 340h1v2h-1zM802 342h1v1h-1zM803 343h1v2h-1zM804 345h1v1h-1zM805 346h1v1h-1zM806 347h1v2h-1zM807 349h1v1h-1zM808 350h1v1h-1zM809 351h1v1h-1zM810 352h1v1h-1zM811 352h1v1h-1zM812 353h1v1h-1zM813 354h1v1h-1zM814 355h1v1h-1zM815 356h1v1h-1zM816 357h1v1h-1zM817 358h1v1h-1zM818 359h1v2h-1zM819 361h1v1h-1zM820 362h1v1h-1zM821 363h1v1h-1zM822 363h1v1h-1zM823 364h1v1h-1zM824 364h1v1h-1zM825 364h1v1h-1zM826 365h1v1h-1zM827 365h1v1h-1zM828 365h1v1h-1zM829 365h1v1h-1zM830 366h1v1h-1zM831 366h1v1h-1zM832 366h1v1h-1zM833 366h1v1h-1zM834 367h1v1h-1zM835 367h1v1h-1zM836 367h1v1h-1zM837 366h1v1h-1zM838 365h1v1h-1zM839 364h1v1h-1zM840 363h1v1h-1zM841 362h1v1h-1zM842 361h1v1h-1zM843 361h1v1h-1zM844 360h1v1h-1zM845 359h1v1h-1zM846 358h1v1h-1zM847 358h1v1h-1zM848 357h1v1h-1zM849 356h1v1h-1zM850 355h1v1h-1zM851 354h1v1h-1zM852 353h1v1h-1zM853 352h1v1h-1zM854 350h1v2h-1zM855 349h1v1h-1zM856 348h1v1h-1zM857 346h1v2h-1zM858 344h1v2h-1zM859 342h1v2h-1zM860 341h1v1h-1zM861 340h1v1h-1zM862 338h1v2h-1zM863 337h1v1h-1zM864 336h1v1h-1zM865 335h1v1h-1zM866 334h1v1h-1zM867 333h1v1h-1zM868 332h1v1h-1zM869 331h1v1h-1zM870 330h1v1h-1zM871 330h1v1h-1zM872 329h1v1h-1zM873 328h1v1h-1zM874 326h1v2h-1zM875 325h1v1h-1zM876 324h1v1h-1zM877 322h1v2h-1zM878 321h1v1h-1zM879 319h1v2h-1zM880 318h1v1h-1zM881 316h1v2h-1zM882 314h1v2h-1zM883 312h1v2h-1zM884 311h1v1h-1zM885 309h1v2h-1zM886 307h1v2h-1zM887 305h1v2h-1zM888 304h1v1h-1zM889 302h1v2h-1zM890 300h1v2h-1zM891 298h1v2h-1zM892 296h1v2h-1zM893 294h1v2h-1zM894 292h1v2h-1zM895 290h1v2h-1zM896 287h1v3h-1zM897 285h1v2h-1zM898 283h1v2h-1zM899 281h1v2h-1zM900 278h1v3h-1zM901 276h1v2h-1zM902 274h1v2h-1zM903 272h1v2h-1zM904 269h1v3h-1zM905 267h1v2h-1zM906 265h1v2h-1zM907 263h1v2h-1zM908 260h1v3h-1zM909 258h1v2h-1zM910 255h1v3h-1zM911 253h1v2h-1zM912 251h1v2h-1zM913 249h1v2h-1zM914 247h1v2h-1zM915 245h1v2h-1zM916 244h1v1h-1zM917 242h1v2h-1zM918 240h1v2h-1zM919 238h1v2h-1zM920 237h1v1h-1zM921 235h1v2h-1zM922 233h1v2h-1zM923 231h1v2h-1zM924 230h1v1h-1z" fill="#ff0000"/>
<path d="M0 110h1v1h-1zM1 110h1v1h-1zM2 110h1v1h-1zM3 110h1v1h-1zM4 110h1v1h-1zM5 111h1v1h-1zM6 112h1v1h-1zM7 113h1v1h-1zM8 114h1v1h-1zM9 115h1v1h-1zM10 115h1v1h-1zM11 116h1v1h-1zM12 116h1v1h-1zM13 116h1v1h-1zM14 117h1v1h-1zM15 117h1v1h-1zM16 117h1v1h-1zM17 117h1v1h-1zM18 118h1v1h-1zM19 118h1v1h-1zM20 118h1v1h-1zM21 118h1v1h-1zM22 117h1v1h-1zM23 117h1v1h-1zM24 117h1v1h-1zM25 117h1v1h-1zM26 116h1v1h-1zM27 116h1v1h-1zM28 116h1v1h-1zM29 115h1v1h-1zM30 115h1v1h-1zM31 114h1v1h-1zM32 114h1v1h-1zM33 112h1v2h-1zM34 111h1v1h-1zM35 109h1v2h-1zM36 108h1v1h-1zM37 106h1v2h-1zM38 104h1v2h-1zM39 102h1v2h-1zM40 100h1v2h-1zM41 98h1v2h-1zM42 96h1v2h-1zM43 94h1v2h-1zM44 92h1v2h-1zM45 90h1v2h-1zM46 88h1v2h-1zM47 86h1v2h-1zM48 83h1v3h-1zM49 80h1v3h-1zM50 78h1v2h-1zM51 75h1v3h-1zM52 73h1v2h-1zM53 73h1v1h-1zM54 72h1v1h-1zM55 72h1v1h-1zM56 72h1v2h-1zM57 74h1v4h-1zM58 78h1v3h-1zM59 81h1v4h-1zM60 85h1v3h-1zM61 88h1v3h-1zM62 91h1v3h-1zM63 94h1v3h-1zM64 97h1v4h-1zM65 101h1v4h-1zM66 105h1v5h-1zM67 110h1v4h-1zM68 114h1v6h-1zM69 120h1v7h-1zM70 127h1v8h-1zM71 135h1v7h-1zM72 142h1v7h-1zM73 149h1v6h-1zM74 155h1v6h-1zM75 161h1v6h-1zM76 167h1v6h-1zM77 173h1v5h-1zM78 178h1v4h-1zM79 182h1v5h-1zM80 187h1v4h-1zM81 191h1v3h-1zM82 194h1v4h-1zM83 198h1v3h-1zM84 201h1v3h-1zM85 204h1v2h-1zM86 206h1v2h-1zM87 208h1v2h-1zM88 210h1v2h-1zM89 210h1v1h-1zM90 208h1v2h-1zM91 207h1v1h-1zM92 205h1v2h-1zM93 202h1v3h-1zM94 198h1v4h-1zM95 195h1v3h-1zM96 191h1v4h-1zM97 186h1v5h-1zM98 182h1v4h-1zM99 177h1v5h-1zM100 173h1v4h-1zM101 170h1v3h-1zM102 166h1v4h-1zM103 163h1v3h-1zM104 160h1v3h-1zM105 157h1v3h-1zM106 155h1v2h-1zM107 152h1v3h-1zM108 150h1v2h-1zM109 149h1v1h-1zM110 148h1v1h-1zM111 147h1v1h-1zM112 146h1v3h-1zM113 149h1v5h-1zM114 154h1v6h-1zM115 160h1v5h-1zM116 165h1v5h-1zM117 170h1v6h-1zM118 176h1v6h-1zM119 182h1v6h-1zM120 188h1v6h-1zM121 194h1v6h-1zM122 200h1v5h-1zM123 205h1v6h-1zM124 211h1v5h-1zM125 216h1v6h-1zM126 222h1v6h-1zM127 228h1v6h-1zM128 234h1v6h-1zM129 240h1v6h-1zM130 246h1v6h-1zM131 252h1v6h-1zM132 258h1v5h-1zM133 263h1v3h-1zM134 266h1v2h-1zM135 268h1v3h-1zM136 271h1v3h-1zM137 274h1v3h-1zM138 277h1v4h-1zM139 281h1v3h-1zM140 284h1v3h-1zM141 287h1v4h-1zM142 291h1v3h-1zM143 294h1v4h-1zM144 298h1v3h-1zM145 301h1v4h-1zM146 305h1v3h-1zM147 308h1v4h-1zM148 312h1v2h-1zM149 314h1v1h-1zM150 315h1v1h-1zM151 316h1v1h-1zM152 317h1v1h-1zM153 317h1v1h-1zM154 317h1v1h-1zM155 317h1v1h-1zM156 317h1v1h-1zM157 318h1v1h-1zM158 319h1v2h-1zM159 321h1v1h-1zM160 322h1v1h-1zM161 323h1v1h-1zM162 324h1v2h-1zM163 326h1v1h-1zM164 327h1v1h-1zM165 326h1v1h-1zM166 325h1v1h-1zM167 324h1v1h-1zM168 323h1v1h-1zM169 324h1v1h-1zM170 325h1v2h-1zM171 327h1v1h-1zM172 328h1v1h-1zM173 329h1v1h-1zM174 330h1v1h-1zM175 331h1v1h-1zM176 332h1v1h-1zM177 330h1v2h-1zM178 328h1v2h-1zM179 326h1v2h-1zM180 325h1v1h-1zM181 324h1v1h-1zM182 322h1v2h-1zM183 321h1v1h-1zM184 320h1v1h-1zM185 321h1v1h-1zM186 322h1v1h-1zM187 323h1v1h-1zM188 324h1v1h-1zM189 325h1v1h-1zM190 326h1v2h-1zM191 328h1v1h-1zM192 329h1v1h-1zM193 330h1v2h-1zM194 332h1v2h-1zM195 334h1v2h-1zM196 336h1v2h-1zM197 338h1v2h-1zM198 340h1v3h-1zM199 343h1v2h-1zM200 345h1v2h-1zM201 347h1v2h-1zM202 349h1v2h-1zM203 351h1v2h-1zM204 353h1v1h-1zM205 354h1v1h-1zM206 355h1v1h-1zM207 356h1v1h-1zM208 357h1v1h-1zM209 355h1v2h-1zM210 354h1v1h-1zM211 352h1v2h-1zM212 351h1v1h-1zM213 349h1v2h-1zM214 348h1v1h-1zM215 346h1v2h-1zM216 345h1v1h-1zM217 344h1v1h-1zM218 344h1v1h-1zM219 343h1v1h-1zM220 342h1v2h-1zM221 340h1v2h-1zM222 338h1v2h-1zM223 336h1v2h-1zM224 333h1v3h-1zM225 330h1v3h-1zM226 327h1v3h-1zM227 324h1v3h-1zM228 322h1v2h-1zM229 321h1v1h-1zM230 319h1v2h-1zM231 318h1v1h-1zM232 317h1v1h-1zM233 315h1v2h-1zM234 313h1v2h-1zM235 311h1v2h-1zM236 308h1v3h-1zM237 304h1v4h-1zM238 300h1v4h-1zM239 296h1v4h-1zM240 294h1v2h-1zM241 292h1v2h-1zM242 290h1v2h-1zM243 288h1v2h-1zM244 287h1v1h-1zM245 287h1v1h-1zM246 286h1v1h-1zM247 286h1v1h-1zM248 286h1v1h-1zM249 285h1v1h-1zM250 284h1v1h-1zM251 283h1v1h-1zM252 282h1v1h-1zM253 282h1v1h-1zM254 282h1v1h-1zM255 282h1v1h-1zM256 282h1v1h-1zM257 281h1v1h-1zM258 281h1v1h-1zM259 280h1v1h-1zM260 280h1v1h-1zM261 278h1v2h-1zM262 277h1v1h-1zM263 275h1v2h-1zM264 274h1v1h-1zM265 272h1v2h-1zM266 270h1v2h-1zM267 268h1v2h-1zM268 267h1v1h-1zM269 266h1v1h-1zM270 265h1v1h-1zM271 265h1v1h-1zM272 263h1v2h-1zM273 260h1v3h-1zM274 256h1v4h-1zM275 253h1v3h-1zM276 250h1v3h-1zM277 246h1v4h-1zM278 242h1v4h-1zM279 238h1v4h-1zM280 236h1v2h-1zM281 235h1v1h-1zM282 234h1v1h-1zM283 234h1v1h-1zM284 233h1v1h-1zM285 232h1v1h-1zM286 232h1v1h-1zM287 231h1v1h-1zM288 231h1v1h-1zM289 231h1v1h-1zM290 230h1v1h-1zM291 230h1v1h-1zM292 230h1v1h-1zM293 231h1v1h-1zM294 231h1v1h-1zM295 232h1v1h-1zM296 232h1v2h-1zM297 234h1v3h-1zM298 237h1v4h-1zM299 241h1v3h-1zM300 244h1v2h-1zM301 242h1v2h-1zM302 240h1v2h-1zM303 238h1v2h-1zM304 235h1v3h-1zM305 232h1v3h-1zM306 229h1v3h-1zM307 226h1v3h-1zM308 224h1v2h-1zM309 222h1v2h-1zM310 220h1v2h-1zM311 218h1v2h-1zM312 216h1v2h-1zM313 215h1v1h-1zM314 213h1v2h-1zM315 212h1v1h-1zM316 210h1v2h-1zM317 208h1v2h-1zM318 205h1v3h-1zM319 203h1v2h-1zM320 201h1v2h-1zM321 201h1v1h-1zM322 200h1v1h-1zM323 200h1v1h-1zM324 200h1v1h-1zM325 201h1v1h-1zM326 202h1v2h-1zM327 204h1v1h-1zM328 205h1v1h-1zM329 204h1v1h-1zM330 204h1v1h-1zM331 203h1v1h-1zM332 203h1v1h-1zM333 201h1v2h-1zM334 200h1v1h-1zM335 198h1v2h-1zM336 197h1v1h-1zM337 197h1v1h-1zM338 198h1v1h-1zM339 198h1v1h-1zM340 198h1v1h-1zM341 199h1v2h-1zM342 201h1v1h-1zM343 202h1v2h-1zM344 204h1v1h-1zM345 204h1v1h-1zM346 205h1v1h-1zM347 205h1v1h-1zM348 205h1v1h-1zM349 205h1v1h-1zM350 204h1v1h-1zM351 204h1v1h-1zM352 204h1v1h-1zM353 205h1v1h-1zM354 206h1v1h-1zM355 206h1v1h-1zM356 207h1v1h-1zM357 207h1v1h-1zM358 207h1v1h-1zM359 207h1v1h-1zM360 207h1v1h-1zM361 206h1v1h-1zM362 205h1v1h-1zM363 204h1v1h-1zM364 203h1v1h-1zM365 201h1v2h-1zM366 200h1v1h-1zM367 198h1v2h-1zM368 197h1v1h-1zM369 196h1v1h-1zM370 195h1v1h-1zM371 194h1v1h-1zM372 193h1v1h-1zM373 194h1v2h-1zM374 196h1v1h-1zM375 197h1v2h-1zM376 199h1v1h-1zM377 200h1v2h-1zM378 202h1v1h-1zM379 203h1v2h-1zM380 205h1v3h-1zM381 208h1v4h-1zM382 212h1v5h-1zM383 217h1v4h-1zM384 221h1v5h-1zM385 226h1v4h-1zM386 230h1v5h-1zM387 235h1v4h-1zM388 239h1v5h-1zM389 244h1v6h-1zM390 250h1v6h-1zM391 256h1v6h-1zM392 262h1v4h-1zM393 266h1v3h-1zM394 269h1v3h-1zM395 272h1v3h-1zM396 275h1v2h-1zM397 277h1v1h-1zM398 278h1v2h-1zM399 280h1v1h-1zM400 281h1v1h-1zM401 280h1v1h-1zM402 279h1v1h-1zM403 278h1v1h-1zM404 276h1v2h-1zM405 273h1v3h-1zM406 270h1v3h-1zM407 267h1v3h-1zM408 263h1v4h-1zM409 259h1v4h-1zM410 255h1v4h-1zM411 251h1v4h-1zM412 247h1v4h-1zM413 244h1v3h-1zM414 242h1v2h-1zM415 239h1v3h-1zM416 237h1v2h-1zM417 235h1v2h-1zM418 234h1v1h-1zM419 232h1v2h-1zM420 230h1v2h-1zM421 228h1v2h-1zM422 226h1v2h-1zM423 224h1v2h-1zM424 222h1v2h-1zM425 222h1v1h-1zM426 222h1v1h-1zM427 222h1v1h-1zM428 222h1v1h-1zM429 223h1v1h-1zM430 223h1v1h-1zM431 224h1v1h-1zM432 224h1v1h-1zM433 223h1v1h-1zM434 222h1v1h-1zM435 221h1v1h-1zM436 220h1v1h-1zM437 219h1v1h-1zM438 218h1v1h-1zM439 218h1v1h-1zM440 217h1v1h-1zM441 218h1v1h-1zM442 219h1v1h-1zM443 220h1v1h-1zM444 221h1v1h-1zM445 220h1v1h-1zM446 219h1v1h-1zM447 219h1v1h-1zM448 218h1v1h-1zM449 218h1v1h-1zM450 218h1v1h-1zM451 218h1v1h-1zM452 218h1v1h-1zM453 219h1v1h-1zM454 220h1v1h-1zM455 221h1v1h-1zM456 222h1v1h-1zM457 223h1v1h-1zM458 224h1v1h-1zM459 224h1v1h-1zM460 225h1v1h-1zM461 225h1v1h-1zM462 226h1v1h-1zM463 226h1v1h-1zM464 226h1v1h-1zM465 227h1v2h-1zM466 229h1v1h-1zM467 230h1v2h-1zM468 232h1v1h-1zM469 230h1v2h-1zM470 229h1v1h-1zM471 227h1v2h-1zM472 226h1v1h-1zM473 224h1v2h-1zM474 222h1v2h-1zM475 220h1v2h-1zM476 217h1v3h-1zM477 214h1v3h-1zM478 212h1v2h-1zM479 209h1v3h-1zM480 206h1v3h-1zM481 204h1v2h-1zM482 202h1v2h-1zM483 200h1v2h-1zM484 197h1v3h-1zM485 195h1v2h-1zM486 193h1v2h-1zM487 191h1v2h-1zM488 189h1v2h-1zM489 188h1v1h-1zM490 188h1v1h-1zM491 187h1v1h-1zM492 187h1v1h-1zM493 187h1v1h-1zM494 186h1v1h-1zM495 186h1v1h-1zM496 186h1v1h-1zM497 187h1v2h-1zM498 189h1v2h-1zM499 191h1v2h-1zM500 193h1v3h-1zM501 196h1v4h-1zM502 200h1v4h-1zM503 204h1v4h-1zM504 208h1v4h-1zM505 212h1v4h-1zM506 216h1v4h-1zM507 220h1v4h-1zM508 224h1v3h-1zM509 227h1v3h-1zM510 230h1v3h-1zM511 233h1v3h-1zM512 236h1v3h-1zM513 239h1v4h-1zM514 243h1v4h-1zM515 247h1v4h-1zM516 251h1v3h-1zM517 254h1v2h-1zM518 256h1v3h-1zM519 259h1v2h-1zM520 261h1v2h-1zM521 263h1v2h-1zM522 265h1v1h-1zM523 266h1v2h-1zM524 268h1v1h-1zM525 269h1v2h-1zM526 271h1v1h-1zM527 272h1v2h-1zM528 274h1v2h-1zM529 276h1v3h-1zM530 279h1v3h-1zM531 282h1v3h-1zM532 285h1v3h-1zM533 288h1v3h-1zM534 291h1v4h-1zM535 295h1v3h-1zM536 298h1v3h-1zM537 301h1v3h-1zM538 304h1v3h-1zM539 307h1v3h-1zM540 310h1v2h-1zM541 312h1v2h-1zM542 314h1v1h-1zM543 315h1v2h-1zM544 317h1v1h-1zM545 318h1v2h-1zM546 320h1v2h-1zM547 322h1v2h-1zM548 324h1v1h-1zM549 325h1v2h-1zM550 327h1v1h-1zM551 328h1v2h-1zM552 330h1v1h-1zM553 331h1v1h-1zM554 332h1v2h-1zM555 334h1v1h-1zM556 335h1v1h-1zM557 336h1v1h-1zM558 336h1v1h-1zM559 337h1v1h-1zM560 337h1v1h-1zM561 338h1v1h-1zM562 338h1v1h-1zM563 339h1v1h-1zM564 338h1v2h-1zM565 335h1v3h-1zM566 331h1v4h-1zM567 328h1v3h-1zM568 326h1v2h-1zM569 324h1v2h-1zM570 322h1v2h-1zM571 320h1v2h-1zM572 317h1v3h-1zM573 315h1v2h-1zM574 312h1v3h-1zM575 310h1v2h-1zM576 307h1v3h-1zM577 305h1v2h-1zM578 302h1v3h-1zM579 300h1v2h-1zM580 298h1v2h-1zM581 296h1v2h-1zM582 294h1v2h-1zM583 292h1v2h-1zM584 290h1v2h-1zM585 291h1v1h-1zM586 292h1v1h-1zM587 292h1v1h-1zM588 293h1v1h-1zM589 292h1v1h-1zM590 290h1v2h-1zM591 289h1v1h-1zM592 288h1v1h-1zM593 287h1v1h-1zM594 286h1v1h-1zM595 286h1v1h-1zM596 284h1v2h-1zM597 282h1v2h-1zM598 280h1v2h-1zM599 278h1v2h-1zM600 275h1v3h-1zM601 273h1v2h-1zM602 270h1v3h-1zM603 268h1v2h-1zM604 266h1v2h-1zM605 264h1v2h-1zM606 262h1v2h-1zM607 260h1v2h-1zM608 259h1v1h-1zM609 257h1v2h-1zM610 256h1v1h-1zM611 254h1v2h-1zM612 253h1v1h-1zM613 251h1v2h-1zM614 249h1v2h-1zM615 247h1v2h-1zM616 245h1v2h-1zM617 244h1v1h-1zM618 242h1v2h-1zM619 241h1v1h-1zM620 240h1v1h-1zM621 240h1v1h-1zM622 241h1v1h-1zM623 241h1v1h-1zM624 241h1v1h-1zM625 240h1v1h-1zM626 240h1v1h-1zM627 239h1v1h-1zM628 239h1v1h-1zM629 240h1v1h-1zM630 240h1v1h-1zM631 241h1v1h-1zM632 241h1v1h-1zM633 242h1v1h-1zM634 242h1v1h-1zM635 243h1v1h-1zM636 243h1v1h-1zM637 242h1v1h-1zM638 240h1v2h-1zM639 239h1v1h-1zM640 238h1v1h-1zM641 236h1v2h-1zM642 234h1v2h-1zM643 232h1v2h-1zM644 231h1v1h-1zM645 229h1v2h-1zM646 227h1v2h-1zM647 225h1v2h-1zM648 223h1v2h-1zM649 221h1v2h-1zM650 219h1v2h-1zM651 217h1v2h-1zM652 214h1v3h-1zM653 211h1v3h-1zM654 209h1v2h-1zM655 206h1v3h-1zM656 204h1v2h-1zM657 204h1v1h-1zM658 205h1v1h-1zM659 205h1v1h-1zM660 205h1v1h-1zM661 205h1v1h-1zM662 204h1v1h-1zM663 204h1v1h-1zM664 204h1v1h-1zM665 204h1v1h-1zM666 204h1v1h-1zM667 204h1v1h-1zM668 204h1v1h-1zM669 205h1v1h-1zM670 205h1v1h-1zM671 206h1v1h-1zM672 206h1v1h-1zM673 207h1v1h-1zM674 208h1v1h-1zM675 209h1v1h-1zM676 210h1v1h-1zM677 209h1v1h-1zM678 209h1v1h-1zM679 208h1v1h-1zM680 208h1v1h-1zM681 208h1v1h-1zM682 207h1v1h-1zM683 207h1v1h-1zM684 207h1v1h-1zM685 208h1v2h-1zM686 210h1v1h-1zM687 211h1v2h-1zM688 213h1v2h-1zM689 215h1v3h-1zM690 218h1v3h-1zM691 221h1v3h-1zM692 224h1v2h-1zM693 225h1v1h-1zM694 226h1v1h-1zM695 226h1v1h-1zM696 226h1v1h-1zM697 227h1v2h-1zM698 229h1v1h-1zM699 230h1v2h-1zM700 232h1v2h-1zM701 234h1v2h-1zM702 236h1v2h-1zM703 238h1v2h-1zM704 240h1v2h-1zM705 241h1v1h-1zM706 241h1v1h-1zM707 241h1v1h-1zM708 241h1v1h-1zM709 240h1v1h-1zM710 239h1v1h-1zM711 238h1v1h-1zM712 237h1v2h-1zM713 239h1v2h-1zM714 241h1v2h-1zM715 243h1v2h-1zM716 245h1v2h-1zM717 247h1v2h-1zM718 249h1v1h-1zM719 250h1v2h-1zM720 252h1v1h-1zM721 253h1v2h-1zM722 255h1v1h-1zM723 256h1v2h-1zM724 258h1v2h-1zM725 260h1v2h-1zM726 262h1v2h-1zM727 264h1v2h-1zM728 266h1v2h-1zM729 268h1v2h-1zM730 270h1v2h-1zM731 272h1v2h-1zM732 274h1v2h-1zM733 276h1v2h-1zM734 278h1v3h-1zM735 281h1v2h-1zM736 283h1v2h-1zM737 285h1v2h-1zM738 287h1v2h-1zM739 289h1v2h-1zM740 291h1v2h-1zM741 293h1v1h-1zM742 293h1v1h-1zM743 294h1v1h-1zM744 294h1v1h-1zM745 293h1v1h-1zM746 293h1v1h-1zM747 292h1v1h-1zM748 292h1v1h-1zM749 291h1v1h-1zM750 291h1v1h-1zM751 290h1v1h-1zM752 290h1v1h-1zM753 289h1v1h-1zM754 287h1v2h-1zM755 286h1v1h-1zM756 285h1v1h-1zM757 284h1v1h-1zM758 282h1v2h-1zM759 281h1v1h-1zM760 280h1v1h-1zM761 281h1v2h-1zM762 283h1v1h-1zM763 284h1v2h-1zM764 286h1v2h-1zM765 288h1v2h-1zM766 290h1v3h-1zM767 293h1v2h-1zM768 295h1v3h-1zM769 298h1v3h-1zM770 301h1v3h-1zM771 304h1v3h-1zM772 307h1v3h-1zM773 310h1v3h-1zM774 313h1v3h-1zM775 316h1v3h-1zM776 319h1v4h-1zM777 323h1v6h-1zM778 329h1v6h-1zM779 335h1v6h-1zM780 341h1v5h-1zM781 346h1v4h-1zM782 350h1v4h-1zM783 354h1v4h-1zM784 358h1v4h-1zM785 362h1v3h-1zM786 365h1v4h-1zM787 369h1v3h-1zM788 372h1v3h-1zM789 375h1v3h-1zM790 378h1v2h-1zM791 380h1v3h-1zM792 383h1v2h-1zM793 385h1v2h-1zM794 387h1v2h-1zM795 389h1v2h-1zM796 391h1v2h-1zM797 392h1v1h-1zM798 392h1v1h-1zM799 392h1v1h-1zM800 392h1v1h-1zM801 391h1v1h-1zM802 390h1v1h-1zM803 389h1v1h-1zM804 388h1v1h-1zM805 386h1v2h-1zM806 384h1v2h-1zM807 382h1v2h-1zM808 380h1v2h-1zM809 376h1v4h-1zM810 373h1v3h-1zM811 369h1v4h-1zM812 367h1v2h-1zM813 365h1v2h-1zM814 363h1v2h-1zM815 361h1v2h-1zM816 359h1v2h-1zM817 356h1v3h-1zM818 354h1v2h-1zM819 351h1v3h-1zM820 349h1v2h-1zM821 348h1v1h-1zM822 347h1v1h-1zM823 346h1v1h-1zM824 345h1v1h-1zM825 344h1v1h-1zM826 343h1v1h-1zM827 342h1v1h-1zM828 341h1v1h-1zM829 342h1v2h-1zM830 344h1v1h-1zM831 345h1v2h-1zM832 347h1v1h-1zM833 347h1v1h-1zM834 348h1v1h-1zM835 348h1v1h-1zM836 348h1v1h-1zM837 348h1v1h-1zM838 348h1v1h-1zM839 348h1v1h-1zM840 348h1v1h-1zM841 348h1v1h-1zM842 347h1v1h-1zM843 347h1v1h-1zM844 347h1v1h-1zM845 347h1v1h-1zM846 348h1v1h-1zM847 348h1v1h-1zM848 348h1v1h-1zM849 347h1v1h-1zM850 347h1v1h-1zM851 346h1v1h-1zM852 345h1v2h-1zM853 343h1v2h-1zM854 341h1v2h-1zM855 339h1v2h-1zM856 336h1v3h-1zM857 333h1v3h-1zM858 331h1v2h-1zM859 328h1v3h-1zM860 325h1v3h-1zM861 323h1v2h-1zM862 321h1v2h-1zM863 319h1v2h-1zM864 316h1v3h-1zM865 314h1v2h-1zM866 311h1v3h-1zM867 309h1v2h-1zM868 306h1v3h-1zM869 302h1v4h-1zM870 299h1v3h-1zM871 295h1v4h-1zM872 293h1v2h-1zM873 291h1v2h-1zM874 289h1v2h-1zM875 287h1v2h-1zM876 286h1v1h-1zM877 284h1v2h-1zM878 282h1v2h-1zM879 280h1v2h-1zM880 278h1v2h-1zM881 275h1v3h-1zM882 273h1v2h-1zM883 270h1v3h-1zM884 267h1v3h-1zM885 265h1v2h-1zM886 262h1v3h-1zM887 260h1v2h-1zM888 258h1v2h-1zM889 256h1v2h-1zM890 255h1v1h-1zM891 253h1v2h-1zM892 251h1v2h-1zM893 249h1v2h-1zM894 246h1v3h-1zM895 244h1v2h-1zM896 241h1v3h-1zM897 239h1v2h-1zM898 237h1v2h-1zM899 235h1v2h-1zM900 233h1v2h-1zM901 231h1v2h-1zM902 229h1v2h-1zM903 227h1v2h-1zM904 225h1v2h-1zM905 223h1v2h-1zM906 221h1v2h-1zM907 219h1v2h-1zM908 216h1v3h-1zM909 214h1v2h-1zM910 212h1v2h-1zM911 210h1v2h-1zM912 208h1v2h-1zM913 207h1v1h-1zM914 206h1v1h-1zM915 205h1v1h-1zM916 204h1v1h-1zM917 203h1v1h-1zM918 201h1v2h-1zM919 200h1v1h-1zM920 199h1v1h-1zM921 199h1v1h-1zM922 198h1v1h-1zM923 198h1v1h-1zM924 198h1v1h-1z" fill="#0000ff"/>
<rect x="4" y="126" width="1163" height="2" fill="#ff0000"/>
<rect x="4" y="217" width="1163" height="2" fill="#ff0000"/>
<rect x="4" y="295" width="1163" height="2" fill="#00ff00"/>
<rect x="4" y="370" width="1163" height="2" fill="#0000ff"/>
<rect x="4" y="96" width="1" height="25" fill="#32cd32"/>
<rect x="3" y="100" width="3" height="16" fill="#32cd32"/>
<rect x="8" y="98" width="1" height="34" fill="#32cd32"/>
<rect x="7" y="102" width="3" height="21" fill="#32cd32"/>
<rect x="12" y="117" width="1" height="27" fill="#32cd32"/>
<rect x="11" y="121" width="3" height="6" fill="#32cd32"/>
<rect x="16" y="125" width="1" height="42" fill="#32cd32"/>
<rect x="15" y="125" width="3" height="7" fill="#32cd32"/>
<rect x="20" y="100" width="1" height="33" fill="#ff0000"/>
<rect x="19" y="104" width="3" height="27" fill="#ff0000"/>
<rect x="20" y="105" width="1" height="25" fill="#ff4500"/>
<rect x="24" y="100" width="1" height="18" fill="#32cd32"/>
<rect x="23" y="104" width="3" height="6" fill="#32cd32"/>
<rect x="28" y="100" width="1" height="24" fill="#32cd32"/>
<rect x="27" y="104" width="3" height="13" fill="#32cd32"/>
<rect x="32" y="109" width="1" height="16" fill="#ff0000"/>
<rect x="31" y="117" width="3" height="3" fill="#ff0000"/>
<rect x="32" y="118" width="1" height="1" fill="#ff4500"/>
<rect x="36" y="100" width="1" height="22" fill="#ff0000"/>
<rect x="35" y="104" width="3" height="14" fill="#ff0000"/>
<rect x="36" y="105" width="1" height="12" fill="#ff4500"/>
<rect x="40" y="50" width="1" height="55" fill="#ff0000"/>
<rect x="39" y="55" width="3" height="41" fill="#ff0000"/>
<rect x="40" y="56" width="1" height="39" fill="#ff4500"/>
<rect x="44" y="76" width="1" height="25" fill="#ff0000"/>
<rect x="43" y="80" width="3" height="13" fill="#ff0000"/>
<rect x="44" y="81" width="1" height="11" fill="#ff4500"/>
<rect x="48" y="70" width="1" height="21" fill="#ff0000"/>
<rect x="47" y="74" width="3" height="11" fill="#ff0000"/>
<rect x="48" y="75" width="1" height="9" fill="#ff4500"/>
<rect x="52" y="72" width="1" height="23" fill="#32cd32"/>
<rect x="51" y="76" width="3" height="13" fill="#32cd32"/>
<rect x="56" y="80" width="1" height="25" fill="#32cd32"/>
<rect x="55" y="86" width="3" height="13" fill="#32cd32"/>
<rect x="60" y="92" width="1" height="41" fill="#32cd32"/>
<rect x="59" y="98" width="3" height="33" fill="#32cd32"/>
<rect x="64" y="127" width="1" height="38" fill="#32cd32"/>
<rect x="63" y="130" width="3" height="7" fill="#32cd32"/>
<rect x="68" y="123" width="1" height="42" fill="#32cd32"/>
<rect x="67" y="135" width="3" height="22" fill="#32cd32"/>
<rect x="72" y="150" width="1" height="73" fill="#32cd32"/>
<rect x="71" y="153" width="3" height="56" fill="#32cd32"/>
<rect x="76" y="205" width="1" height="20" fill="#32cd32"/>
<rect x="75" y="208" width="3" height="11" fill="#32cd32"/>
<rect x="80" y="212" width="1" height="19" fill="#32cd32"/>
<rect x="79" y="220" width="3" height="6" fill="#32cd32"/>
<rect x="84" y="202" width="1" height="29" fill="#ff0000"/>
<rect x="83" y="204" width="3" height="21" fill="#ff0000"/>
<rect x="84" y="205" width="1" height="19" fill="#ff4500"/>
<rect x="88" y="195" width="1" height="23" fill="#ff0000"/>
<rect x="87" y="202" width="3" height="4" fill="#ff0000"/>
<rect x="88" y="203" width="1" height="2" fill="#ff4500"/>
<rect x="92" y="174" width="1" height="33" fill="#ff0000"/>
<rect x="91" y="182" width="3" height="21" fill="#ff0000"/>
<rect x="92" y="183" width="1" height="19" fill="#ff4500"/>
<rect x="96" y="148" width="1" height="44" fill="#ff0000"/>
<rect x="95" y="151" width="3" height="32" fill="#ff0000"/>
<rect x="96" y="152" width="1" height="30" fill="#ff4500"/>
<rect x="100" y="127" width="1" height="27" fill="#ff0000"/>
<rect x="99" y="130" width="3" height="23" fill="#ff0000"/>
<rect x="100" y="131" width="1" height="21" fill="#ff4500"/>
<rect x="104" y="129" width="1" height="17" fill="#32cd32"/>
<rect x="103" y="135" width="3" height="8" fill="#32cd32"/>
<rect x="108" y="121" width="1" height="30" fill="#32cd32"/>
<rect x="107" y="142" width="3" height="2" fill="#32cd32"/>
<rect x="112" y="142" width="1" height="38" fill="#32cd32"/>
<rect x="111" y="143" width="3" height="22" fill="#32cd32"/>
<rect x="116" y="160" width="1" height="131" fill="#32cd32"/>
<rect x="115" y="163" width="3" height="93" fill="#32cd32"/>
<rect x="120" y="244" width="1" height="40" fill="#ff0000"/>
<rect x="119" y="249" width="3" height="7" fill="#ff0000"/>
<rect x="120" y="250" width="1" height="5" fill="#ff4500"/>
<rect x="124" y="243" width="1" height="14" fill="#32cd32"/>
<rect x="123" y="249" width="3" height="7" fill="#32cd32"/>
<rect x="128" y="252" width="1" height="23" fill="#32cd32"/>
<rect x="127" y="255" width="3" height="8" fill="#32cd32"/>
<rect x="132" y="259" width="1" height="31" fill="#32cd32"/>
<rect x="131" y="261" width="3" height="22" fill="#32cd32"/>
<rect x="136" y="255" width="1" height="61" fill="#32cd32"/>
<rect x="135" y="282" width="3" height="33" fill="#32cd32"/>
<rect x="140" y="298" width="1" height="20" fill="#ff0000"/>
<rect x="139" y="311" width="3" height="6" fill="#ff0000"/>
<rect x="140" y="312" width="1" height="4" fill="#ff4500"/>
<rect x="144" y="310" width="1" height="35" fill="#32cd32"/>
<rect x="143" y="311" width="3" height="15" fill="#32cd32"/>
<rect x="148" y="320" width="1" height="14" fill="#32cd32"/>
<rect x="147" y="325" width="3" height="8" fill="#32cd32"/>
<rect x="152" y="303" width="1" height="28" fill="#ff0000"/>
<rect x="151" y="305" width="3" height="23" fill="#ff0000"/>
<rect x="152" y="306" width="1" height="21" fill="#ff4500"/>
<rect x="156" y="293" width="1" height="23" fill="#32cd32"/>
<rect x="155" y="306" width="3" height="5" fill="#32cd32"/>
<rect x="160" y="308" width="1" height="35" fill="#32cd32"/>
<rect x="159" y="310" width="3" height="29" fill="#32cd32"/>
<rect x="164" y="333" width="1" height="26" fill="#32cd32"/>
<rect x="163" y="338" width="3" height="11" fill="#32cd32"/>
<rect x="168" y="298" width="1" height="56" fill="#ff0000"/>
<rect x="167" y="315" width="3" height="34" fill="#ff0000"/>
<rect x="168" y="316" width="1" height="32" fill="#ff4500"/>
<rect x="172" y="315" width="1" height="18" fill="#32cd32"/>
<rect x="171" y="315" width="3" height="17" fill="#32cd32"/>
<rect x="176" y="321" width="1" height="31" fill="#ff0000"/>
<rect x="175" y="327" width="3" height="8" fill="#ff0000"/>
<rect x="176" y="328" width="1" height="6" fill="#ff4500"/>
<rect x="180" y="296" width="1" height="35" fill="#ff0000"/>
<rect x="179" y="306" width="3" height="22" fill="#ff0000"/>
<rect x="180" y="307" width="1" height="20" fill="#ff4500"/>
<rect x="184" y="294" width="1" height="46" fill="#32cd32"/>
<rect x="183" y="306" width="3" height="16" fill="#32cd32"/>
<rect x="188" y="317" width="1" height="39" fill="#32cd32"/>
<rect x="187" y="320" width="3" height="18" fill="#32cd32"/>
<rect x="192" y="327" width="1" height="44" fill="#32cd32"/>
<rect x="191" y="337" width="3" height="19" fill="#32cd32"/>
<rect x="196" y="354" width="1" height="11" fill="#32cd32"/>
<rect x="195" y="355" width="3" height="7" fill="#32cd32"/>
<rect x="200" y="350" width="1" height="19" fill="#ff0000"/>
<rect x="199" y="358" width="3" height="6" fill="#ff0000"/>
<rect x="200" y="359" width="1" height="4" fill="#ff4500"/>
<rect x="204" y="342" width="1" height="25" fill="#ff0000"/>
<rect x="203" y="354" width="3" height="5" fill="#ff0000"/>
<rect x="204" y="355" width="1" height="3" fill="#ff4500"/>
<rect x="208" y="324" width="1" height="35" fill="#32cd32"/>
<rect x="207" y="354" width="3" height="3" fill="#32cd32"/>
<rect x="212" y="323" width="1" height="37" fill="#ff0000"/>
<rect x="211" y="326" width="3" height="29" fill="#ff0000"/>
<rect x="212" y="327" width="1" height="27" fill="#ff4500"/>
<rect x="216" y="314" width="1" height="58" fill="#32cd32"/>
<rect x="215" y="326" width="3" height="7" fill="#32cd32"/>
<rect x="220" y="330" width="1" height="17" fill="#32cd32"/>
<rect x="219" y="331" width="3" height="15" fill="#32cd32"/>
<rect x="224" y="309" width="1" height="48" fill="#ff0000"/>
<rect x="223" y="311" width="3" height="39" fill="#ff0000"/>
<rect x="224" y="312" width="1" height="37" fill="#ff4500"/>
<rect x="228" y="282" width="1" height="38" fill="#ff0000"/>
<rect x="227" y="297" width="3" height="15" fill="#ff0000"/>
<rect x="228" y="298" width="1" height="13" fill="#ff4500"/>
<rect x="232" y="292" width="1" height="19" fill="#32cd32"/>
<rect x="231" y="295" width="3" height="5" fill="#32cd32"/>
<rect x="236" y="289" width="1" height="23" fill="#ff0000"/>
<rect x="235" y="293" width="3" height="7" fill="#ff0000"/>
<rect x="236" y="294" width="1" height="5" fill="#ff4500"/>
<rect x="240" y="261" width="1" height="35" fill="#ff0000"/>
<rect x="239" y="268" width="3" height="27" fill="#ff0000"/>
<rect x="240" y="269" width="1" height="25" fill="#ff4500"/>
<rect x="244" y="267" width="1" height="24" fill="#32cd32"/>
<rect x="243" y="267" width="3" height="12" fill="#32cd32"/>
<rect x="248" y="271" width="1" height="22" fill="#32cd32"/>
<rect x="247" y="280" width="3" height="12" fill="#32cd32"/>
<rect x="252" y="265" width="1" height="27" fill="#ff0000"/>
<rect x="251" y="279" width="3" height="12" fill="#ff0000"/>
<rect x="252" y="280" width="1" height="10" fill="#ff4500"/>
<rect x="256" y="275" width="1" height="44" fill="#32cd32"/>
<rect x="255" y="279" width="3" height="17" fill="#32cd32"/>
<rect x="260" y="232" width="1" height="70" fill="#ff0000"/>
<rect x="259" y="257" width="3" height="39" fill="#ff0000"/>
<rect x="260" y="258" width="1" height="37" fill="#ff4500"/>
<rect x="264" y="221" width="1" height="51" fill="#ff0000"/>
<rect x="263" y="250" width="3" height="9" fill="#ff0000"/>
<rect x="264" y="251" width="1" height="7" fill="#ff4500"/>
<rect x="268" y="246" width="1" height="15" fill="#32cd32"/>
<rect x="267" y="250" width="3" height="6" fill="#32cd32"/>
<rect x="272" y="232" width="1" height="43" fill="#32cd32"/>
<rect x="271" y="258" width="3" height="7" fill="#32cd32"/>
<rect x="276" y="219" width="1" height="52" fill="#ff0000"/>
<rect x="275" y="229" width="3" height="35" fill="#ff0000"/>
<rect x="276" y="230" width="1" height="33" fill="#ff4500"/>
<rect x="280" y="174" width="1" height="56" fill="#ff0000"/>
<rect x="279" y="182" width="3" height="48" fill="#ff0000"/>
<rect x="280" y="183" width="1" height="46" fill="#ff4500"/>
<rect x="284" y="175" width="1" height="65" fill="#32cd32"/>
<rect x="283" y="182" width="3" height="54" fill="#32cd32"/>
<rect x="288" y="216" width="1" height="42" fill="#32cd32"/>
<rect x="287" y="235" width="3" height="11" fill="#32cd32"/>
<rect x="292" y="241" width="1" height="17" fill="#32cd32"/>
<rect x="291" y="244" width="3" height="14" fill="#32cd32"/>
<rect x="296" y="230" width="1" height="25" fill="#ff0000"/>
<rect x="295" y="241" width="3" height="13" fill="#ff0000"/>
<rect x="296" y="242" width="1" height="11" fill="#ff4500"/>
<rect x="300" y="205" width="1" height="66" fill="#32cd32"/>
<rect x="299" y="240" width="3" height="9" fill="#32cd32"/>
<rect x="304" y="188" width="1" height="67" fill="#ff0000"/>
<rect x="303" y="189" width="3" height="59" fill="#ff0000"/>
<rect x="304" y="190" width="1" height="57" fill="#ff4500"/>
<rect x="308" y="177" width="1" height="33" fill="#ff0000"/>
<rect x="307" y="187" width="3" height="2" fill="#ff0000"/>
<rect x="312" y="179" width="1" height="35" fill="#32cd32"/>
<rect x="311" y="187" width="3" height="27" fill="#32cd32"/>
<rect x="316" y="209" width="1" height="16" fill="#32cd32"/>
<rect x="315" y="212" width="3" height="8" fill="#32cd32"/>
<rect x="320" y="195" width="1" height="36" fill="#ff0000"/>
<rect x="319" y="197" width="3" height="23" fill="#ff0000"/>
<rect x="320" y="198" width="1" height="21" fill="#ff4500"/>
<rect x="324" y="173" width="1" height="26" fill="#ff0000"/>
<rect x="323" y="182" width="3" height="17" fill="#ff0000"/>
<rect x="324" y="183" width="1" height="15" fill="#ff4500"/>
<rect x="328" y="181" width="1" height="48" fill="#32cd32"/>
<rect x="327" y="182" width="3" height="33" fill="#32cd32"/>
<rect x="332" y="191" width="1" height="30" fill="#ff0000"/>
<rect x="331" y="203" width="3" height="12" fill="#ff0000"/>
<rect x="332" y="204" width="1" height="10" fill="#ff4500"/>
<rect x="336" y="177" width="1" height="37" fill="#ff0000"/>
<rect x="335" y="189" width="3" height="15" fill="#ff0000"/>
<rect x="336" y="190" width="1" height="13" fill="#ff4500"/>
<rect x="340" y="184" width="1" height="25" fill="#32cd32"/>
<rect x="339" y="189" width="3" height="16" fill="#32cd32"/>
<rect x="344" y="189" width="1" height="32" fill="#32cd32"/>
<rect x="343" y="190" width="3" height="22" fill="#32cd32"/>
<rect x="348" y="210" width="1" height="36" fill="#32cd32"/>
<rect x="347" y="211" width="3" height="6" fill="#32cd32"/>
<rect x="352" y="190" width="1" height="28" fill="#ff0000"/>
<rect x="351" y="201" width="3" height="17" fill="#ff0000"/>
<rect x="352" y="202" width="1" height="15" fill="#ff4500"/>
<rect x="356" y="189" width="1" height="29" fill="#32cd32"/>
<rect x="355" y="201" width="3" height="2" fill="#32cd32"/>
<rect x="360" y="194" width="1" height="39" fill="#32cd32"/>
<rect x="359" y="201" width="3" height="7" fill="#32cd32"/>
<rect x="364" y="181" width="1" height="28" fill="#ff0000"/>
<rect x="363" y="188" width="3" height="21" fill="#ff0000"/>
<rect x="364" y="189" width="1" height="19" fill="#ff4500"/>
<rect x="368" y="164" width="1" height="30" fill="#ff0000"/>
<rect x="367" y="189" width="3" height="2" fill="#ff0000"/>
<rect x="372" y="151" width="1" height="41" fill="#ff0000"/>
<rect x="371" y="181" width="3" height="10" fill="#ff0000"/>
<rect x="372" y="182" width="1" height="8" fill="#ff4500"/>
<rect x="376" y="174" width="1" height="64" fill="#32cd32"/>
<rect x="375" y="181" width="3" height="52" fill="#32cd32"/>
<rect x="380" y="230" width="1" height="36" fill="#32cd32"/>
<rect x="379" y="232" width="3" height="6" fill="#32cd32"/>
<rect x="384" y="233" width="1" height="52" fill="#32cd32"/>
<rect x="383" y="237" width="3" height="42" fill="#32cd32"/>
<rect x="388" y="273" width="1" height="13" fill="#ff0000"/>
<rect x="387" y="276" width="3" height="3" fill="#ff0000"/>
<rect x="388" y="277" width="1" height="1" fill="#ff4500"/>
<rect x="392" y="274" width="1" height="24" fill="#32cd32"/>
<rect x="391" y="278" width="3" height="19" fill="#32cd32"/>
<rect x="396" y="265" width="1" height="36" fill="#ff0000"/>
<rect x="395" y="295" width="3" height="2" fill="#ff0000"/>
<rect x="400" y="259" width="1" height="42" fill="#ff0000"/>
<rect x="399" y="261" width="3" height="36" fill="#ff0000"/>
<rect x="400" y="262" width="1" height="34" fill="#ff4500"/>
<rect x="404" y="250" width="1" height="25" fill="#ff0000"/>
<rect x="403" y="255" width="3" height="7" fill="#ff0000"/>
<rect x="404" y="256" width="1" height="5" fill="#ff4500"/>
<rect x="408" y="220" width="1" height="49" fill="#ff0000"/>
<rect x="407" y="220" width="3" height="36" fill="#ff0000"/>
<rect x="408" y="221" width="1" height="34" fill="#ff4500"/>
<rect x="412" y="211" width="1" height="14" fill="#ff0000"/>
<rect x="411" y="211" width="3" height="10" fill="#ff0000"/>
<rect x="412" y="212" width="1" height="8" fill="#ff4500"/>
<rect x="416" y="219" width="1" height="35" fill="#ff0000"/>
<rect x="415" y="236" width="3" height="18" fill="#ff0000"/>
<rect x="416" y="237" width="1" height="16" fill="#ff4500"/>
<rect x="420" y="201" width="1" height="39" fill="#ff0000"/>
<rect x="419" y="231" width="3" height="6" fill="#ff0000"/>
<rect x="420" y="232" width="1" height="4" fill="#ff4500"/>
<rect x="424" y="209" width="1" height="31" fill="#ff0000"/>
<rect x="423" y="210" width="3" height="22" fill="#ff0000"/>
<rect x="424" y="211" width="1" height="20" fill="#ff4500"/>
<rect x="428" y="195" width="1" height="37" fill="#32cd32"/>
<rect x="427" y="210" width="3" height="15" fill="#32cd32"/>
<rect x="432" y="200" width="1" height="36" fill="#ff0000"/>
<rect x="431" y="219" width="3" height="7" fill="#ff0000"/>
<rect x="432" y="220" width="1" height="5" fill="#ff4500"/>
<rect x="436" y="214" width="1" height="15" fill="#ff0000"/>
<rect x="435" y="214" width="3" height="6" fill="#ff0000"/>
<rect x="436" y="215" width="1" height="4" fill="#ff4500"/>
<rect x="440" y="198" width="1" height="27" fill="#ff0000"/>
<rect x="439" y="217" width="3" height="2" fill="#ff0000"/>
<rect x="444" y="213" width="1" height="21" fill="#32cd32"/>
<rect x="443" y="217" width="3" height="13" fill="#32cd32"/>
<rect x="448" y="208" width="1" height="34" fill="#ff0000"/>
<rect x="447" y="213" width="3" height="17" fill="#ff0000"/>
<rect x="448" y="214" width="1" height="15" fill="#ff4500"/>
<rect x="452" y="208" width="1" height="34" fill="#32cd32"/>
<rect x="451" y="213" width="3" height="7" fill="#32cd32"/>
<rect x="456" y="214" width="1" height="39" fill="#32cd32"/>
<rect x="455" y="218" width="3" height="13" fill="#32cd32"/>
<rect x="460" y="222" width="1" height="13" fill="#32cd32"/>
<rect x="459" y="230" width="3" height="5" fill="#32cd32"/>
<rect x="464" y="225" width="1" height="22" fill="#ff0000"/>
<rect x="463" y="234" width="3" height="6" fill="#ff0000"/>
<rect x="464" y="235" width="1" height="4" fill="#ff4500"/>
<rect x="468" y="207" width="1" height="36" fill="#32cd32"/>
<rect x="467" y="234" width="3" height="9" fill="#32cd32"/>
<rect x="472" y="192" width="1" height="66" fill="#ff0000"/>
<rect x="471" y="192" width="3" height="49" fill="#ff0000"/>
<rect x="472" y="193" width="1" height="47" fill="#ff4500"/>
<rect x="476" y="172" width="1" height="27" fill="#ff0000"/>
<rect x="475" y="187" width="3" height="6" fill="#ff0000"/>
<rect x="476" y="188" width="1" height="4" fill="#ff4500"/>
<rect x="480" y="174" width="1" height="28" fill="#ff0000"/>
<rect x="479" y="181" width="3" height="7" fill="#ff0000"/>
<rect x="480" y="182" width="1" height="5" fill="#ff4500"/>
<rect x="484" y="181" width="1" height="10" fill="#32cd32"/>
<rect x="483" y="181" width="3" height="7" fill="#32cd32"/>
<rect x="488" y="182" width="1" height="26" fill="#32cd32"/>
<rect x="487" y="194" width="3" height="4" fill="#32cd32"/>
<rect x="492" y="179" width="1" height="30" fill="#ff0000"/>
<rect x="491" y="181" width="3" height="17" fill="#ff0000"/>
<rect x="492" y="182" width="1" height="15" fill="#ff4500"/>
<rect x="496" y="180" width="1" height="24" fill="#32cd32"/>
<rect x="495" y="181" width="3" height="5" fill="#32cd32"/>
<rect x="500" y="173" width="1" height="47" fill="#32cd32"/>
<rect x="499" y="184" width="3" height="33" fill="#32cd32"/>
<rect x="504" y="200" width="1" height="79" fill="#32cd32"/>
<rect x="503" y="215" width="3" height="57" fill="#32cd32"/>
<rect x="508" y="262" width="1" height="12" fill="#ff0000"/>
<rect x="507" y="271" width="3" height="2" fill="#ff0000"/>
<rect x="512" y="240" width="1" height="26" fill="#ff0000"/>
<rect x="511" y="244" width="3" height="22" fill="#ff0000"/>
<rect x="512" y="245" width="1" height="20" fill="#ff4500"/>
<rect x="516" y="237" width="1" height="26" fill="#32cd32"/>
<rect x="515" y="244" width="3" height="17" fill="#32cd32"/>
<rect x="520" y="243" width="1" height="28" fill="#32cd32"/>
<rect x="519" y="260" width="3" height="7" fill="#32cd32"/>
<rect x="524" y="253" width="1" height="50" fill="#32cd32"/>
<rect x="523" y="265" width="3" height="34" fill="#32cd32"/>
<rect x="528" y="293" width="1" height="12" fill="#32cd32"/>
<rect x="527" y="298" width="3" height="3" fill="#32cd32"/>
<rect x="532" y="293" width="1" height="16" fill="#32cd32"/>
<rect x="531" y="299" width="3" height="10" fill="#32cd32"/>
<rect x="536" y="298" width="1" height="24" fill="#32cd32"/>
<rect x="535" y="302" width="3" height="20" fill="#32cd32"/>
<rect x="540" y="307" width="1" height="32" fill="#32cd32"/>
<rect x="539" y="320" width="3" height="10" fill="#32cd32"/>
<rect x="544" y="315" width="1" height="19" fill="#ff0000"/>
<rect x="543" y="327" width="3" height="3" fill="#ff0000"/>
<rect x="544" y="328" width="1" height="1" fill="#ff4500"/>
<rect x="548" y="325" width="1" height="24" fill="#32cd32"/>
<rect x="547" y="328" width="3" height="6" fill="#32cd32"/>
<rect x="552" y="330" width="1" height="17" fill="#32cd32"/>
<rect x="551" y="332" width="3" height="11" fill="#32cd32"/>
<rect x="556" y="337" width="1" height="9" fill="#32cd32"/>
<rect x="555" y="342" width="3" height="2" fill="#32cd32"/>
<rect x="560" y="333" width="1" height="19" fill="#ff0000"/>
<rect x="559" y="342" width="3" height="4" fill="#ff0000"/>
<rect x="560" y="343" width="1" height="2" fill="#ff4500"/>
<rect x="564" y="332" width="1" height="24" fill="#ff0000"/>
<rect x="563" y="333" width="3" height="10" fill="#ff0000"/>
<rect x="564" y="334" width="1" height="8" fill="#ff4500"/>
<rect x="568" y="269" width="1" height="67" fill="#ff0000"/>
<rect x="567" y="272" width="3" height="62" fill="#ff0000"/>
<rect x="568" y="273" width="1" height="60" fill="#ff4500"/>
<rect x="572" y="255" width="1" height="45" fill="#32cd32"/>
<rect x="571" y="272" width="3" height="27" fill="#32cd32"/>
<rect x="576" y="263" width="1" height="35" fill="#ff0000"/>
<rect x="575" y="293" width="3" height="2" fill="#ff0000"/>
<rect x="580" y="287" width="1" height="11" fill="#ff0000"/>
<rect x="579" y="293" width="3" height="2" fill="#ff0000"/>
<rect x="584" y="284" width="1" height="19" fill="#ff0000"/>
<rect x="583" y="296" width="3" height="2" fill="#ff0000"/>
<rect x="588" y="283" width="1" height="29" fill="#ff0000"/>
<rect x="587" y="285" width="3" height="13" fill="#ff0000"/>
<rect x="588" y="286" width="1" height="11" fill="#ff4500"/>
<rect x="592" y="270" width="1" height="29" fill="#ff0000"/>
<rect x="591" y="273" width="3" height="14" fill="#ff0000"/>
<rect x="592" y="274" width="1" height="12" fill="#ff4500"/>
<rect x="596" y="262" width="1" height="24" fill="#32cd32"/>
<rect x="595" y="273" width="3" height="4" fill="#32cd32"/>
<rect x="600" y="238" width="1" height="42" fill="#ff0000"/>
<rect x="599" y="252" width="3" height="24" fill="#ff0000"/>
<rect x="600" y="253" width="1" height="22" fill="#ff4500"/>
<rect x="604" y="243" width="1" height="10" fill="#ff0000"/>
<rect x="603" y="244" width="3" height="9" fill="#ff0000"/>
<rect x="604" y="245" width="1" height="7" fill="#ff4500"/>
<rect x="608" y="240" width="1" height="13" fill="#32cd32"/>
<rect x="607" y="246" width="3" height="7" fill="#32cd32"/>
<rect x="612" y="226" width="1" height="28" fill="#ff0000"/>
<rect x="611" y="242" width="3" height="12" fill="#ff0000"/>
<rect x="612" y="243" width="1" height="10" fill="#ff4500"/>
<rect x="616" y="220" width="1" height="32" fill="#ff0000"/>
<rect x="615" y="235" width="3" height="9" fill="#ff0000"/>
<rect x="616" y="236" width="1" height="7" fill="#ff4500"/>
<rect x="620" y="219" width="1" height="22" fill="#ff0000"/>
<rect x="619" y="228" width="3" height="8" fill="#ff0000"/>
<rect x="620" y="229" width="1" height="6" fill="#ff4500"/>
<rect x="624" y="222" width="1" height="28" fill="#32cd32"/>
<rect x="623" y="226" width="3" height="24" fill="#32cd32"/>
<rect x="628" y="238" width="1" height="13" fill="#ff0000"/>
<rect x="627" y="241" width="3" height="9" fill="#ff0000"/>
<rect x="628" y="242" width="1" height="7" fill="#ff4500"/>
<rect x="632" y="239" width="1" height="17" fill="#32cd32"/>
<rect x="631" y="247" width="3" height="7" fill="#32cd32"/>
<rect x="636" y="243" width="1" height="24" fill="#ff0000"/>
<rect x="635" y="244" width="3" height="9" fill="#ff0000"/>
<rect x="636" y="245" width="1" height="7" fill="#ff4500"/>
<rect x="640" y="192" width="1" height="56" fill="#ff0000"/>
<rect x="639" y="203" width="3" height="42" fill="#ff0000"/>
<rect x="640" y="204" width="1" height="40" fill="#ff4500"/>
<rect x="644" y="184" width="1" height="36" fill="#32cd32"/>
<rect x="643" y="203" width="3" height="12" fill="#32cd32"/>
<rect x="648" y="203" width="1" height="26" fill="#ff0000"/>
<rect x="647" y="208" width="3" height="7" fill="#ff0000"/>
<rect x="648" y="209" width="1" height="5" fill="#ff4500"/>
<rect x="652" y="202" width="1" height="8" fill="#ff0000"/>
<rect x="651" y="204" width="3" height="5" fill="#ff0000"/>
<rect x="652" y="205" width="1" height="3" fill="#ff4500"/>
<rect x="656" y="191" width="1" height="20" fill="#ff0000"/>
<rect x="655" y="193" width="3" height="12" fill="#ff0000"/>
<rect x="656" y="194" width="1" height="10" fill="#ff4500"/>
<rect x="660" y="189" width="1" height="18" fill="#32cd32"/>
<rect x="659" y="193" width="3" height="14" fill="#32cd32"/>
<rect x="664" y="206" width="1" height="20" fill="#32cd32"/>
<rect x="663" y="206" width="3" height="5" fill="#32cd32"/>
<rect x="668" y="201" width="1" height="17" fill="#ff0000"/>
<rect x="667" y="208" width="3" height="3" fill="#ff0000"/>
<rect x="668" y="209" width="1" height="1" fill="#ff4500"/>
<rect x="672" y="192" width="1" height="23" fill="#32cd32"/>
<rect x="671" y="208" width="3" height="5" fill="#32cd32"/>
<rect x="676" y="205" width="1" height="9" fill="#32cd32"/>
<rect x="675" y="212" width="3" height="2" fill="#32cd32"/>
<rect x="680" y="197" width="1" height="20" fill="#ff0000"/>
<rect x="679" y="197" width="3" height="15" fill="#ff0000"/>
<rect x="680" y="198" width="1" height="13" fill="#ff4500"/>
<rect x="684" y="188" width="1" height="24" fill="#32cd32"/>
<rect x="683" y="197" width="3" height="7" fill="#32cd32"/>
<rect x="688" y="197" width="1" height="53" fill="#32cd32"/>
<rect x="687" y="203" width="3" height="39" fill="#32cd32"/>
<rect x="692" y="240" width="1" height="46" fill="#32cd32"/>
<rect x="691" y="240" width="3" height="31" fill="#32cd32"/>
<rect x="696" y="219" width="1" height="60" fill="#ff0000"/>
<rect x="695" y="221" width="3" height="50" fill="#ff0000"/>
<rect x="696" y="222" width="1" height="48" fill="#ff4500"/>
<rect x="700" y="219" width="1" height="9" fill="#32cd32"/>
<rect x="699" y="221" width="3" height="7" fill="#32cd32"/>
<rect x="704" y="222" width="1" height="26" fill="#32cd32"/>
<rect x="703" y="228" width="3" height="17" fill="#32cd32"/>
<rect x="708" y="231" width="1" height="17" fill="#ff0000"/>
<rect x="707" y="241" width="3" height="4" fill="#ff0000"/>
<rect x="708" y="242" width="1" height="2" fill="#ff4500"/>
<rect x="712" y="237" width="1" height="16" fill="#32cd32"/>
<rect x="711" y="238" width="3" height="14" fill="#32cd32"/>
<rect x="716" y="250" width="1" height="34" fill="#32cd32"/>
<rect x="715" y="250" width="3" height="16" fill="#32cd32"/>
<rect x="720" y="260" width="1" height="31" fill="#ff0000"/>
<rect x="719" y="260" width="3" height="7" fill="#ff0000"/>
<rect x="720" y="261" width="1" height="5" fill="#ff4500"/>
<rect x="724" y="258" width="1" height="14" fill="#32cd32"/>
<rect x="723" y="260" width="3" height="12" fill="#32cd32"/>
<rect x="728" y="269" width="1" height="43" fill="#32cd32"/>
<rect x="727" y="274" width="3" height="16" fill="#32cd32"/>
<rect x="732" y="269" width="1" height="29" fill="#ff0000"/>
<rect x="731" y="287" width="3" height="3" fill="#ff0000"/>
<rect x="732" y="288" width="1" height="1" fill="#ff4500"/>
<rect x="736" y="275" width="1" height="38" fill="#32cd32"/>
<rect x="735" y="287" width="3" height="26" fill="#32cd32"/>
<rect x="740" y="297" width="1" height="23" fill="#ff0000"/>
<rect x="739" y="303" width="3" height="10" fill="#ff0000"/>
<rect x="740" y="304" width="1" height="8" fill="#ff4500"/>
<rect x="744" y="272" width="1" height="39" fill="#ff0000"/>
<rect x="743" y="280" width="3" height="24" fill="#ff0000"/>
<rect x="744" y="281" width="1" height="22" fill="#ff4500"/>
<rect x="748" y="277" width="1" height="8" fill="#ff0000"/>
<rect x="747" y="279" width="3" height="3" fill="#ff0000"/>
<rect x="748" y="280" width="1" height="1" fill="#ff4500"/>
<rect x="752" y="274" width="1" height="23" fill="#ff0000"/>
<rect x="751" y="277" width="3" height="17" fill="#ff0000"/>
<rect x="752" y="278" width="1" height="15" fill="#ff4500"/>
<rect x="756" y="275" width="1" height="24" fill="#32cd32"/>
<rect x="755" y="277" width="3" height="9" fill="#32cd32"/>
<rect x="760" y="279" width="1" height="12" fill="#ff0000"/>
<rect x="759" y="281" width="3" height="8" fill="#ff0000"/>
<rect x="760" y="282" width="1" height="6" fill="#ff4500"/>
<rect x="764" y="283" width="1" height="32" fill="#32cd32"/>
<rect x="763" y="288" width="3" height="22" fill="#32cd32"/>
<rect x="768" y="300" width="1" height="36" fill="#32cd32"/>
<rect x="767" y="309" width="3" height="20" fill="#32cd32"/>
<rect x="772" y="327" width="1" height="16" fill="#32cd32"/>
<rect x="771" y="328" width="3" height="10" fill="#32cd32"/>
<rect x="776" y="330" width="1" height="18" fill="#32cd32"/>
<rect x="775" y="337" width="3" height="11" fill="#32cd32"/>
<rect x="780" y="340" width="1" height="64" fill="#32cd32"/>
<rect x="779" y="346" width="3" height="53" fill="#32cd32"/>
<rect x="784" y="387" width="1" height="23" fill="#ff0000"/>
<rect x="783" y="389" width="3" height="10" fill="#ff0000"/>
<rect x="784" y="390" width="1" height="8" fill="#ff4500"/>
<rect x="788" y="374" width="1" height="26" fill="#32cd32"/>
<rect x="787" y="389" width="3" height="6" fill="#32cd32"/>
<rect x="792" y="377" width="1" height="28" fill="#ff0000"/>
<rect x="791" y="391" width="3" height="3" fill="#ff0000"/>
<rect x="792" y="392" width="1" height="1" fill="#ff4500"/>
<rect x="796" y="383" width="1" height="12" fill="#ff0000"/>
<rect x="795" y="388" width="3" height="5" fill="#ff0000"/>
<rect x="796" y="389" width="1" height="3" fill="#ff4500"/>
<rect x="800" y="386" width="1" height="17" fill="#32cd32"/>
<rect x="799" y="389" width="3" height="8" fill="#32cd32"/>
<rect x="804" y="362" width="1" height="45" fill="#ff0000"/>
<rect x="803" y="371" width="3" height="26" fill="#ff0000"/>
<rect x="804" y="372" width="1" height="24" fill="#ff4500"/>
<rect x="808" y="356" width="1" height="39" fill="#ff0000"/>
<rect x="807" y="359" width="3" height="13" fill="#ff0000"/>
<rect x="808" y="360" width="1" height="11" fill="#ff4500"/>
<rect x="812" y="317" width="1" height="53" fill="#ff0000"/>
<rect x="811" y="322" width="3" height="38" fill="#ff0000"/>
<rect x="812" y="323" width="1" height="36" fill="#ff4500"/>
<rect x="816" y="321" width="1" height="43" fill="#32cd32"/>
<rect x="815" y="322" width="3" height="29" fill="#32cd32"/>
<rect x="820" y="344" width="1" height="11" fill="#ff0000"/>
<rect x="819" y="345" width="3" height="5" fill="#ff0000"/>
<rect x="820" y="346" width="1" height="3" fill="#ff4500"/>
<rect x="824" y="340" width="1" height="23" fill="#32cd32"/>
<rect x="823" y="347" width="3" height="3" fill="#32cd32"/>
<rect x="828" y="333" width="1" height="21" fill="#ff0000"/>
<rect x="827" y="340" width="3" height="10" fill="#ff0000"/>
<rect x="828" y="341" width="1" height="8" fill="#ff4500"/>
<rect x="832" y="333" width="1" height="21" fill="#32cd32"/>
<rect x="831" y="340" width="3" height="14" fill="#32cd32"/>
<rect x="836" y="346" width="1" height="16" fill="#32cd32"/>
<rect x="835" y="352" width="3" height="3" fill="#32cd32"/>
<rect x="840" y="340" width="1" height="21" fill="#ff0000"/>
<rect x="839" y="345" width="3" height="10" fill="#ff0000"/>
<rect x="840" y="346" width="1" height="8" fill="#ff4500"/>
<rect x="844" y="335" width="1" height="11" fill="#ff0000"/>
<rect x="843" y="342" width="3" height="4" fill="#ff0000"/>
<rect x="844" y="343" width="1" height="2" fill="#ff4500"/>
<rect x="848" y="337" width="1" height="12" fill="#32cd32"/>
<rect x="847" y="344" width="3" height="3" fill="#32cd32"/>
<rect x="852" y="334" width="1" height="21" fill="#ff0000"/>
<rect x="851" y="342" width="3" height="5" fill="#ff0000"/>
<rect x="852" y="343" width="1" height="3" fill="#ff4500"/>
<rect x="856" y="297" width="1" height="62" fill="#ff0000"/>
<rect x="855" y="309" width="3" height="34" fill="#ff0000"/>
<rect x="856" y="310" width="1" height="32" fill="#ff4500"/>
<rect x="860" y="277" width="1" height="43" fill="#ff0000"/>
<rect x="859" y="292" width="3" height="18" fill="#ff0000"/>
<rect x="860" y="293" width="1" height="16" fill="#ff4500"/>
<rect x="864" y="288" width="1" height="23" fill="#32cd32"/>
<rect x="863" y="294" width="3" height="4" fill="#32cd32"/>
<rect x="868" y="289" width="1" height="10" fill="#ff0000"/>
<rect x="867" y="295" width="3" height="4" fill="#ff0000"/>
<rect x="868" y="296" width="1" height="2" fill="#ff4500"/>
<rect x="872" y="260" width="1" height="33" fill="#ff0000"/>
<rect x="871" y="273" width="3" height="20" fill="#ff0000"/>
<rect x="872" y="274" width="1" height="18" fill="#ff4500"/>
<rect x="876" y="257" width="1" height="20" fill="#ff0000"/>
<rect x="875" y="271" width="3" height="3" fill="#ff0000"/>
<rect x="876" y="272" width="1" height="1" fill="#ff4500"/>
<rect x="880" y="256" width="1" height="33" fill="#ff0000"/>
<rect x="879" y="257" width="3" height="15" fill="#ff0000"/>
<rect x="880" y="258" width="1" height="13" fill="#ff4500"/>
<rect x="884" y="245" width="1" height="22" fill="#ff0000"/>
<rect x="883" y="246" width="3" height="12" fill="#ff0000"/>
<rect x="884" y="247" width="1" height="10" fill="#ff4500"/>
<rect x="888" y="234" width="1" height="33" fill="#ff0000"/>
<rect x="887" y="245" width="3" height="2" fill="#ff0000"/>
<rect x="892" y="229" width="1" height="21" fill="#ff0000"/>
<rect x="891" y="241" width="3" height="5" fill="#ff0000"/>
<rect x="892" y="242" width="1" height="3" fill="#ff4500"/>
<rect x="896" y="219" width="1" height="21" fill="#ff0000"/>
<rect x="895" y="222" width="3" height="18" fill="#ff0000"/>
<rect x="896" y="223" width="1" height="16" fill="#ff4500"/>
<rect x="900" y="198" width="1" height="27" fill="#ff0000"/>
<rect x="899" y="213" width="3" height="10" fill="#ff0000"/>
<rect x="900" y="214" width="1" height="8" fill="#ff4500"/>
<rect x="904" y="199" width="1" height="25" fill="#ff0000"/>
<rect x="903" y="205" width="3" height="8" fill="#ff0000"/>
<rect x="904" y="206" width="1" height="6" fill="#ff4500"/>
<rect x="908" y="195" width="1" height="23" fill="#ff0000"/>
<rect x="907" y="203" width="3" height="2" fill="#ff0000"/>
<rect x="912" y="189" width="1" height="25" fill="#ff0000"/>
<rect x="911" y="198" width="3" height="5" fill="#ff0000"/>
<rect x="912" y="199" width="1" height="3" fill="#ff4500"/>
<rect x="916" y="193" width="1" height="10" fill="#32cd32"/>
<rect x="915" y="198" width="3" height="5" fill="#32cd32"/>
<rect x="920" y="183" width="1" height="25" fill="#ff0000"/>
<rect x="919" y="189" width="3" height="10" fill="#ff0000"/>
<rect x="920" y="190" width="1" height="8" fill="#ff4500"/>
<rect x="924" y="185" width="1" height="12" fill="#32cd32"/>
<rect x="923" y="189" width="3" height="8" fill="#32cd32"/>
</g>
<rect x="3" y="124" width="5" height="6" fill="#ff0000"/>
<rect x="5" y="126" width="2" height="2" fill="#fff"/>
<rect x="1160" y="124" width="6" height="6" fill="#ff0000"/>
<rect x="1162" y="126" width="2" height="2" fill="#fff"/>
<rect x="3" y="215" width="5" height="6" fill="#ff0000"/>
<rect x="5" y="217" width="2" height="2" fill="#fff"/>
<rect x="1160" y="215" width="6" height="6" fill="#ff0000"/>
<rect x="1162" y="217" width="2" height="2" fill="#fff"/>
<rect x="3" y="368" width="5" height="6" fill="#0000ff"/>
<rect x="5" y="370" width="2" height="2" fill="#fff"/>
<rect x="1160" y="368" width="6" height="6" fill="#0000ff"/>
<rect x="1162" y="370" width="2" height="2" fill="#fff"/>
<g clip-path="url(#cmacd)">
<rect x="3" y="444" width="3" height="6" fill="#c0c0c0"/>
<rect x="7" y="445" width="3" height="5" fill="#c0c0c0"/>
<rect x="11" y="446" width="3" height="4" fill="#c0c0c0"/>
<rect x="15" y="447" width="3" height="3" fill="#c0c0c0"/>
<rect x="19" y="446" width="3" height="4" fill="#c0c0c0"/>
<rect x="23" y="446" width="3" height="4" fill="#c0c0c0"/>
<rect x="27" y="447" width="3" height="3" fill="#c0c0c0"/>
<rect x="31" y="447" width="3" height="3" fill="#c0c0c0"/>
<rect x="35" y="446" width="3" height="4" fill="#c0c0c0"/>
<rect x="39" y="444" width="3" height="6" fill="#c0c0c0"/>
<rect x="43" y="442" width="3" height="8" fill="#c0c0c0"/>
<rect x="47" y="441" width="3" height="9" fill="#c0c0c0"/>
<rect x="51" y="440" width="3" height="10" fill="#c0c0c0"/>
<rect x="55" y="441" width="3" height="9" fill="#c0c0c0"/>
<rect x="59" y="444" width="3" height="6" fill="#c0c0c0"/>
<rect x="63" y="446" width="3" height="4" fill="#c0c0c0"/>
<rect x="67" y="450" width="3" height="1" fill="#c0c0c0"/>
<rect x="71" y="450" width="3" height="5" fill="#c0c0c0"/>
<rect x="75" y="450" width="3" height="10" fill="#c0c0c0"/>
<rect x="79" y="450" width="3" height="14" fill="#c0c0c0"/>
<rect x="83" y="450" width="3" height="16" fill="#c0c0c0"/>
<rect x="87" y="450" width="3" height="17" fill="#c0c0c0"/>
<rect x="91" y="450" width="3" height="17" fill="#c0c0c0"/>
<rect x="95" y="450" width="3" height="14" fill="#c0c0c0"/>
<rect x="99" y="450" width="3" height="11" fill="#c0c0c0"/>
<rect x="103" y="450" width="3" height="9" fill="#c0c0c0"/>
<rect x="107" y="450" width="3" height="8" fill="#c0c0c0"/>
<rect x="111" y="450" width="3" height="8" fill="#c0c0c0"/>
<rect x="115" y="450" width="3" height="13" fill="#c0c0c0"/>
<rect x="119" y="450" width="3" height="16" fill="#c0c0c0"/>
<rect x="123" y="450" width="3" height="19" fill="#c0c0c0"/>
<rect x="127" y="450" width="3" height="21" fill="#c0c0c0"/>
<rect x="131" y="450" width="3" height="24" fill="#c0c0c0"/>
<rect x="135" y="450" width="3" height="28" fill="#c0c0c0"/>
<rect x="139" y="450" width="3" height="30" fill="#c0c0c0"/>
<rect x="143" y="450" width="3" height="32" fill="#c0c0c0"/>
<rect x="147" y="450" width="3" height="34" fill="#c0c0c0"/>
<rect x="151" y="450" width="3" height="34" fill="#c0c0c0"/>
<rect x="155" y="450" width="3" height="33" fill="#c0c0c0"/>
<rect x="159" y="450" width="3" height="34" fill="#c0c0c0"/>
<rect x="163" y="450" width="3" height="35" fill="#c0c0c0"/>
<rect x="167" y="450" width="3" height="33" fill="#c0c0c0"/>
<rect x="171" y="450" width="3" height="33" fill="#c0c0c0"/>
<rect x="175" y="450" width="3" height="31" fill="#c0c0c0"/>
<rect x="179" y="450" width="3" height="29" fill="#c0c0c0"/>
<rect x="183" y="450" width="3" height="28" fill="#c0c0c0"/>
<rect x="187" y="450" width="3" height="27" fill="#c0c0c0"/>
<rect x="191" y="450" width="3" height="27" fill="#c0c0c0"/>
<rect x="195" y="450" width="3" height="28" fill="#c0c0c0"/>
<rect x="199" y="450" width="3" height="27" fill="#c0c0c0"/>
<rect x="203" y="450" width="3" height="27" fill="#c0c0c0"/>
<rect x="207" y="450" width="3" height="26" fill="#c0c0c0"/>
<rect x="211" y="450" width="3" height="23" fill="#c0c0c0"/>
<rect x="215" y="450" width="3" height="21" fill="#c0c0c0"/>
<rect x="219" y="450" width="3" height="20" fill="#c0c0c0"/>
<rect x="223" y="450" width="3" height="17" fill="#c0c0c0"/>
<rect x="227" y="450" width="3" height="14" fill="#c0c0c0"/>
<rect x="231" y="450" width="3" height="11" fill="#c0c0c0"/>
<rect x="235" y="450" width="3" height="8" fill="#c0c0c0"/>
<rect x="239" y="450" width="3" height="5" fill="#c0c0c0"/>
<rect x="243" y="450" width="3" height="3" fill="#c0c0c0"/>
<rect x="247" y="450" width="3" height="2" fill="#c0c0c0"/>
<rect x="251" y="450" width="3" height="1" fill="#c0c0c0"/>
<rect x="255" y="450" width="3" height="1" fill="#c0c0c0"/>
<rect x="259" y="447" width="3" height="3" fill="#c0c0c0"/>
<rect x="263" y="445" width="3" height="5" fill="#c0c0c0"/>
<rect x="267" y="444" width="3" height="6" fill="#c0c0c0"/>
<rect x="271" y="443" width="3" height="7" fill="#c0c0c0"/>
<rect x="275" y="441" width="3" height="9" fill="#c0c0c0"/>
<rect x="279" y="436" width="3" height="14" fill="#c0c0c0"/>
<rect x="283" y="436" width="3" height="14" fill="#c0c0c0"/>
<rect x="287" y="437" width="3" height="13" fill="#c0c0c0"/>
<rect x="291" y="438" width="3" height="12" fill="#c0c0c0"/>
<rect x="295" y="438" width="3" height="12" fill="#c0c0c0"/>
<rect x="299" y="439" width="3" height="11" fill="#c0c0c0"/>
<rect x="303" y="436" width="3" height="14" fill="#c0c0c0"/>
<rect x="307" y="434" width="3" height="16" fill="#c0c0c0"/>
<rect x="311" y="434" width="3" height="16" fill="#c0c0c0"/>
<rect x="315" y="434" width="3" height="16" fill="#c0c0c0"/>
<rect x="319" y="434" width="3" height="16" fill="#c0c0c0"/>
<rect x="323" y="433" width="3" height="17" fill="#c0c0c0"/>
<rect x="327" y="434" width="3" height="16" fill="#c0c0c0"/>
<rect x="331" y="434" width="3" height="16" fill="#c0c0c0"/>
<rect x="335" y="434" width="3" height="16" fill="#c0c0c0"/>
<rect x="339" y="435" width="3" height="15" fill="#c0c0c0"/>
<rect x="343" y="436" width="3" height="14" fill="#c0c0c0"/>
<rect x="347" y="437" width="3" height="13" fill="#c0c0c0"/>
<rect x="351" y="438" width="3" height="12" fill="#c0c0c0"/>
<rect x="355" y="438" width="3" height="12" fill="#c0c0c0"/>
<rect x="359" y="439" width="3" height="11" fill="#c0c0c0"/>
<rect x="363" y="438" width="3" height="12" fill="#c0c0c0"/>
<rect x="367" y="438" width="3" height="12" fill="#c0c0c0"/>
<rect x="371" y="438" width="3" height="12" fill="#c0c0c0"/>
<rect x="375" y="441" width="3" height="9" fill="#c0c0c0"/>
<rect x="379" y="443" width="3" height="7" fill="#c0c0c0"/>
<rect x="383" y="448" width="3" height="2" fill="#c0c0c0"/>
<rect x="387" y="450" width="3" height="1" fill="#c0c0c0"/>
<rect x="391" y="450" width="3" height="5" fill="#c0c0c0"/>
<rect x="395" y="450" width="3" height="8" fill="#c0c0c0"/>
<rect x="399" y="450" width="3" height="8" fill="#c0c0c0"/>
<rect x="403" y="450" width="3" height="7" fill="#c0c0c0"/>
<rect x="407" y="450" width="3" height="5" fill="#c0c0c0"/>
<rect x="411" y="450" width="3" height="3" fill="#c0c0c0"/>
<rect x="415" y="450" width="3" height="2" fill="#c0c0c0"/>
<rect x="419" y="450" width="3" height="2" fill="#c0c0c0"/>
<rect x="423" y="450" width="3" height="1" fill="#c0c0c0"/>
<rect x="427" y="449" width="3" height="1" fill="#c0c0c0"/>
<rect x="431" y="448" width="3" height="2" fill="#c0c0c0"/>
<rect x="435" y="448" width="3" height="2" fill="#c0c0c0"/>
<rect x="439" y="447" width="3" height="3" fill="#c0c0c0"/>
<rect x="443" y="447" width="3" height="3" fill="#c0c0c0"/>
<rect x="447" y="447" width="3" height="3" fill="#c0c0c0"/>
<rect x="451" y="447" width="3" height="3" fill="#c0c0c0"/>
<rect x="455" y="447" width="3" height="3" fill="#c0c0c0"/>
<rect x="459" y="448" width="3" height="2" fill="#c0c0c0"/>
<rect x="463" y="449" width="3" height="1" fill="#c0c0c0"/>
<rect x="467" y="449" width="3" height="1" fill="#c0c0c0"/>
<rect x="471" y="447" width="3" height="3" fill="#c0c0c0"/>
<rect x="475" y="445" width="3" height="5" fill="#c0c0c0"/>
<rect x="479" y="444" width="3" height="6" fill="#c0c0c0"/>
<rect x="483" y="443" width="3" height="7" fill="#c0c0c0"/>
<rect x="487" y="442" width="3" height="8" fill="#c0c0c0"/>
<rect x="491" y="442" width="3" height="8" fill="#c0c0c0"/>
<rect x="495" y="441" width="3" height="9" fill="#c0c0c0"/>
<rect x="499" y="443" width="3" height="7" fill="#c0c0c0"/>
<rect x="503" y="447" width="3" height="3" fill="#c0c0c0"/>
<rect x="507" y="450" width="3" height="1" fill="#c0c0c0"/>
<rect x="511" y="450" width="3" height="2" fill="#c0c0c0"/>
<rect x="515" y="450" width="3" height="4" fill="#c0c0c0"/>
<rect x="519" y="450" width="3" height="5" fill="#c0c0c0"/>
<rect x="523" y="450" width="3" height="8" fill="#c0c0c0"/>
<rect x="527" y="450" width="3" height="11" fill="#c0c0c0"/>
<rect x="531" y="450" width="3" height="13" fill="#c0c0c0"/>
<rect x="535" y="450" width="3" height="15" fill="#c0c0c0"/>
<rect x="539" y="450" width="3" height="18" fill="#c0c0c0"/>
<rect x="543" y="450" width="3" height="19" fill="#c0c0c0"/>
<rect x="547" y="450" width="3" height="20" fill="#c0c0c0"/>
<rect x="551" y="450" width="3" height="21" fill="#c0c0c0"/>
<rect x="555" y="450" width="3" height="22" fill="#c0c0c0"/>
<rect x="559" y="450" width="3" height="22" fill="#c0c0c0"/>
<rect x="563" y="450" width="3" height="22" fill="#c0c0c0"/>
<rect x="567" y="450" width="3" height="18" fill="#c0c0c0"/>
<rect x="571" y="450" width="3" height="16" fill="#c0c0c0"/>
<rect x="575" y="450" width="3" height="14" fill="#c0c0c0"/>
<rect x="579" y="450" width="3" height="12" fill="#c0c0c0"/>
<rect x="583" y="450" width="3" height="10" fill="#c0c0c0"/>
<rect x="587" y="450" width="3" height="9" fill="#c0c0c0"/>
<rect x="591" y="450" width="3" height="6" fill="#c0c0c0"/>
<rect x="595" y="450" width="3" height="5" fill="#c0c0c0"/>
<rect x="599" y="450" width="3" height="2" fill="#c0c0c0"/>
<rect x="603" y="449" width="3" height="1" fill="#c0c0c0"/>
<rect x="607" y="448" width="3" height="2" fill="#c0c0c0"/>
<rect x="611" y="446" width="3" height="4" fill="#c0c0c0"/>
<rect x="615" y="444" width="3" height="6" fill="#c0c0c0"/>
<rect x="619" y="443" width="3" height="7" fill="#c0c0c0"/>
<rect x="623" y="443" width="3" height="7" fill="#c0c0c0"/>
<rect x="627" y="442" width="3" height="8" fill="#c0c0c0"/>
<rect x="631" y="443" width="3" height="7" fill="#c0c0c0"/>
<rect x="635" y="443" width="3" height="7" fill="#c0c0c0"/>
<rect x="639" y="440" width="3" height="10" fill="#c0c0c0"/>
<rect x="643" y="439" width="3" height="11" fill="#c0c0c0"/>
<rect x="647" y="438" width="3" height="12" fill="#c0c0c0"/>
<rect x="651" y="437" width="3" height="13" fill="#c0c0c0"/>
<rect x="655" y="436" width="3" height="14" fill="#c0c0c0"/>
<rect x="659" y="436" width="3" height="14" fill="#c0c0c0"/>
<rect x="663" y="436" width="3" height="14" fill="#c0c0c0"/>
<rect x="667" y="436" width="3" height="14" fill="#c0c0c0"/>
<rect x="671" y="437" width="3" height="13" fill="#c0c0c0"/>
<rect x="675" y="438" width="3" height="12" fill="#c0c0c0"/>
<rect x="679" y="437" width="3" height="13" fill="#c0c0c0"/>
<rect x="683" y="438" width="3" height="12" fill="#c0c0c0"/>
<rect x="687" y="440" width="3" height="10" fill="#c0c0c0"/>
<rect x="691" y="444" width="3" height="6" fill="#c0c0c0"/>
<rect x="695" y="444" width="3" height="6" fill="#c0c0c0"/>
<rect x="699" y="445" width="3" height="5" fill="#c0c0c0"/>
<rect x="703" y="446" width="3" height="4" fill="#c0c0c0"/>
<rect x="707" y="447" width="3" height="3" fill="#c0c0c0"/>
<rect x="711" y="449" width="3" height="1" fill="#c0c0c0"/>
<rect x="715" y="450" width="3" height="1" fill="#c0c0c0"/>
<rect x="719" y="450" width="3" height="2" fill="#c0c0c0"/>
<rect x="723" y="450" width="3" height="3" fill="#c0c0c0"/>
<rect x="727" y="450" width="3" height="5" fill="#c0c0c0"/>
<rect x="731" y="450" width="3" height="7" fill="#c0c0c0"/>
<rect x="735" y="450" width="3" height="10" fill="#c0c0c0"/>
<rect x="739" y="450" width="3" height="11" fill="#c0c0c0"/>
<rect x="743" y="450" width="3" height="11" fill="#c0c0c0"/>
<rect x="747" y="450" width="3" height="10" fill="#c0c0c0"/>
<rect x="751" y="450" width="3" height="9" fill="#c0c0c0"/>
<rect x="755" y="450" width="3" height="9" fill="#c0c0c0"/>
<rect x="759" y="450" width="3" height="9" fill="#c0c0c0"/>
<rect x="763" y="450" width="3" height="10" fill="#c0c0c0"/>
<rect x="767" y="450" width="3" height="12" fill="#c0c0c0"/>
<rect x="771" y="450" width="3" height="14" fill="#c0c0c0"/>
<rect x="775" y="450" width="3" height="16" fill="#c0c0c0"/>
<rect x="779" y="450" width="3" height="20" fill="#c0c0c0"/>
<rect x="783" y="450" width="3" height="22" fill="#c0c0c0"/>
<rect x="787" y="450" width="3" height="24" fill="#c0c0c0"/>
<rect x="791" y="450" width="3" height="25" fill="#c0c0c0"/>
<rect x="795" y="450" width="3" height="26" fill="#c0c0c0"/>
<rect x="799" y="450" width="3" height="26" fill="#c0c0c0"/>
<rect x="803" y="450" width="3" height="25" fill="#c0c0c0"/>
<rect x="807" y="450" width="3" height="23" fill="#c0c0c0"/>
<rect x="811" y="450" width="3" height="19" fill="#c0c0c0"/>
<rect x="815" y="450" width="3" height="17" fill="#c0c0c0"/>
<rect x="819" y="450" width="3" height="15" fill="#c0c0c0"/>
<rect x="823" y="450" width="3" height="14" fill="#c0c0c0"/>
<rect x="827" y="450" width="3" height="12" fill="#c0c0c0"/>
<rect x="831" y="450" width="3" height="11" fill="#c0c0c0"/>
<rect x="835" y="450" width="3" height="11" fill="#c0c0c0"/>
<rect x="839" y="450" width="3" height="10" fill="#c0c0c0"/>
<rect x="843" y="450" width="3" height="8" fill="#c0c0c0"/>
<rect x="847" y="450" width="3" height="7" fill="#c0c0c0"/>
<rect x="851" y="450" width="3" height="7" fill="#c0c0c0"/>
<rect x="855" y="450" width="3" height="4" fill="#c0c0c0"/>
<rect x="859" y="450" width="3" height="1" fill="#c0c0c0"/>
<rect x="863" y="448" width="3" height="2" fill="#c0c0c0"/>
<rect x="867" y="447" width="3" height="3" fill="#c0c0c0"/>
<rect x="871" y="444" width="3" height="6" fill="#c0c0c0"/>
<rect x="875" y="442" width="3" height="8" fill="#c0c0c0"/>
<rect x="879" y="440" width="3" height="10" fill="#c0c0c0"/>
<rect x="883" y="437" width="3" height="13" fill="#c0c0c0"/>
<rect x="887" y="435" width="3" height="15" fill="#c0c0c0"/>
<rect x="891" y="434" width="3" height="16" fill="#c0c0c0"/>
<rect x="895" y="432" width="3" height="18" fill="#c0c0c0"/>
<rect x="899" y="430" width="3" height="20" fill="#c0c0c0"/>
<rect x="903" y="428" width="3" height="22" fill="#c0c0c0"/>
<rect x="907" y="427" width="3" height="23" fill="#c0c0c0"/>
<rect x="911" y="426" width="3" height="24" fill="#c0c0c0"/>
<rect x="915" y="426" width="3" height="24" fill="#c0c0c0"/>
<rect x="919" y="425" width="3" height="25" fill="#c0c0c0"/>
<rect x="923" y="425" width="3" height="25" fill="#c0c0c0"/>
<path d="M0 442h1v1h-1zM1 442h1v1h-1zM2 442h1v1h-1zM3 442h1v1h-1zM4 442h1v1h-1zM5 442h1v1h-1zM6 443h1v1h-1zM7 443h1v1h-1zM8 443h1v1h-1zM9 443h1v1h-1zM10 443h1v1h-1zM11 443h1v1h-1zM12 443h1v1h-1zM13 443h1v1h-1zM14 444h1v1h-1zM15 444h1v1h-1zM16 444h1v1h-1zM17 444h1v1h-1zM18 444h1v1h-1zM19 444h1v1h-1zM20 444h1v1h-1zM21 444h1v1h-1zM22 445h1v1h-1zM23 445h1v1h-1zM24 445h1v1h-1zM25 445h1v1h-1zM26 445h1v1h-1zM27 445h1v1h-1zM28 445h1v1h-1zM29 445h1v1h-1zM30 446h1v1h-1zM31 446h1v1h-1zM32 446h1v1h-1zM33 446h1v1h-1zM34 446h1v1h-1zM35 446h1v1h-1zM36 446h1v1h-1zM37 446h1v1h-1zM38 446h1v1h-1zM39 446h1v1h-1zM40 446h1v1h-1zM41 446h1v1h-1zM42 446h1v1h-1zM43 446h1v1h-1zM44 446h1v1h-1zM45 446h1v1h-1zM46 445h1v1h-1zM47 445h1v1h-1zM48 445h1v1h-1zM49 445h1v1h-1zM50 444h1v1h-1zM51 444h1v1h-1zM52 444h1v1h-1zM53 444h1v1h-1zM54 444h1v1h-1zM55 444h1v1h-1zM56 444h1v1h-1zM57 444h1v1h-1zM58 444h1v1h-1zM59 444h1v1h-1zM60 444h1v1h-1zM61 444h1v1h-1zM62 443h1v1h-1zM63 443h1v1h-1zM64 443h1v1h-1zM65 443h1v1h-1zM66 444h1v1h-1zM67 444h1v1h-1zM68 444h1v1h-1zM69 444h1v1h-1zM70 445h1v1h-1zM71 445h1v1h-1zM72 445h1v1h-1zM73 446h1v1h-1zM74 446h1v1h-1zM75 447h1v1h-1zM76 447h1v1h-1zM77 448h1v1h-1zM78 448h1v1h-1zM79 449h1v1h-1zM80 449h1v1h-1zM81 450h1v1h-1zM82 451h1v1h-1zM83 451h1v1h-1zM84 452h1v1h-1zM85 453h1v1h-1zM86 454h1v1h-1zM87 454h1v1h-1zM88 455h1v1h-1zM89 456h1v1h-1zM90 457h1v1h-1zM91 457h1v1h-1zM92 458h1v1h-1zM93 459h1v1h-1zM94 459h1v1h-1zM95 460h1v1h-1zM96 460h1v1h-1zM97 461h1v1h-1zM98 461h1v1h-1zM99 462h1v1h-1zM100 462h1v1h-1zM101 462h1v1h-1zM102 463h1v1h-1zM103 463h1v1h-1zM104 463h1v1h-1zM105 463h1v1h-1zM106 463h1v1h-1zM107 463h1v1h-1zM108 463h1v1h-1zM109 463h1v1h-1zM110 463h1v1h-1zM111 463h1v1h-1zM112 463h1v1h-1zM113 463h1v1h-1zM114 463h1v1h-1zM115 463h1v1h-1zM116 463h1v1h-1zM117 463h1v1h-1zM118 463h1v1h-1zM119 463h1v1h-1zM120 463h1v1h-1zM121 463h1v1h-1zM122 463h1v1h-1zM123 463h1v1h-1zM124 463h1v1h-1zM125 463h1v1h-1zM126 463h1v1h-1zM127 463h1v1h-1zM128 463h1v1h-1zM129 463h1v1h-1zM130 464h1v1h-1zM131 464h1v1h-1zM132 464h1v1h-1zM133 465h1v1h-1zM134 465h1v1h-1zM135 466h1v1h-1zM136 466h1v1h-1zM137 467h1v1h-1zM138 467h1v1h-1zM139 468h1v1h-1zM140 468h1v1h-1zM141 469h1v1h-1zM142 470h1v1h-1zM143 470h1v1h-1zM144 471h1v1h-1zM145 472h1v1h-1zM146 473h1v1h-1zM147 473h1v1h-1zM148 474h1v1h-1zM149 475h1v1h-1zM150 476h1v1h-1zM151 476h1v1h-1zM152 477h1v1h-1zM153 477h1v1h-1zM154 478h1v1h-1zM155 478h1v1h-1zM156 478h1v1h-1zM157 479h1v1h-1zM158 479h1v1h-1zM159 480h1v1h-1zM160 480h1v1h-1zM161 481h1v1h-1zM162 481h1v1h-1zM163 482h1v1h-1zM164 482h1v1h-1zM165 482h1v1h-1zM166 483h1v1h-1zM167 483h1v1h-1zM168 483h1v1h-1zM169 483h1v1h-1zM170 483h1v1h-1zM171 483h1v1h-1zM172 483h1v1h-1zM173 483h1v1h-1zM174 483h1v1h-1zM175 483h1v1h-1zM176 483h1v1h-1zM177 483h1v1h-1zM178 483h1v1h-1zM179 483h1v1h-1zM180 483h1v1h-1zM181 483h1v1h-1zM182 482h1v1h-1zM183 482h1v1h-1zM184 482h1v1h-1zM185 482h1v1h-1zM186 482h1v1h-1zM187 482h1v1h-1zM188 482h1v1h-1zM189 482h1v1h-1zM190 481h1v1h-1zM191 481h1v1h-1zM192 481h1v1h-1zM193 481h1v1h-1zM194 480h1v1h-1zM195 480h1v1h-1zM196 480h1v1h-1zM197 480h1v1h-1zM198 479h1v1h-1zM199 479h1v1h-1zM200 479h1v1h-1zM201 479h1v1h-1zM202 478h1v1h-1zM203 478h1v1h-1zM204 478h1v1h-1zM205 478h1v1h-1zM206 478h1v1h-1zM207 478h1v1h-1zM208 478h1v1h-1zM209 478h1v1h-1zM210 477h1v1h-1zM211 477h1v1h-1zM212 477h1v1h-1zM213 477h1v1h-1zM214 476h1v1h-1zM215 476h1v1h-1zM216 476h1v1h-1zM217 476h1v1h-1zM218 475h1v1h-1zM219 475h1v1h-1zM220 475h1v1h-1zM221 475h1v1h-1zM222 474h1v1h-1zM223 474h1v1h-1zM224 474h1v1h-1zM225 473h1v1h-1zM226 473h1v1h-1zM227 472h1v1h-1zM228 472h1v1h-1zM229 472h1v1h-1zM230 471h1v1h-1zM231 471h1v1h-1zM232 471h1v1h-1zM233 470h1v1h-1zM234 470h1v1h-1zM235 469h1v1h-1zM236 469h1v1h-1zM237 468h1v1h-1zM238 467h1v1h-1zM239 467h1v1h-1zM240 466h1v1h-1zM241 465h1v1h-1zM242 465h1v1h-1zM243 464h1v1h-1zM244 464h1v1h-1zM245 463h1v1h-1zM246 462h1v1h-1zM247 462h1v1h-1zM248 461h1v1h-1zM249 460h1v1h-1zM250 460h1v1h-1zM251 459h1v1h-1zM252 459h1v1h-1zM253 458h1v1h-1zM254 458h1v1h-1zM255 457h1v1h-1zM256 457h1v1h-1zM257 456h1v1h-1zM258 455h1v1h-1zM259 455h1v1h-1zM260 454h1v1h-1zM261 453h1v1h-1zM262 453h1v1h-1zM263 452h1v1h-1zM264 452h1v1h-1zM265 451h1v1h-1zM266 451h1v1h-1zM267 450h1v1h-1zM268 450h1v1h-1zM269 450h1v1h-1zM270 449h1v1h-1zM271 449h1v1h-1zM272 449h1v1h-1zM273 448h1v1h-1zM274 448h1v1h-1zM275 447h1v1h-1zM276 447h1v1h-1zM277 446h1v1h-1zM278 446h1v1h-1zM279 445h1v1h-1zM280 445h1v1h-1zM281 445h1v1h-1zM282 444h1v1h-1zM283 444h1v1h-1zM284 444h1v1h-1zM285 443h1v1h-1zM286 443h1v1h-1zM287 442h1v1h-1zM288 442h1v1h-1zM289 442h1v1h-1zM290 441h1v1h-1zM291 441h1v1h-1zM292 441h1v1h-1zM293 441h1v1h-1zM294 440h1v1h-1zM295 440h1v1h-1zM296 440h1v1h-1zM297 440h1v1h-1zM298 439h1v1h-1zM299 439h1v1h-1zM300 439h1v1h-1zM301 439h1v1h-1zM302 438h1v1h-1zM303 438h1v1h-1zM304 438h1v1h-1zM305 438h1v1h-1zM306 437h1v1h-1zM307 437h1v1h-1zM308 437h1v1h-1zM309 437h1v1h-1zM310 436h1v1h-1zM311 436h1v1h-1zM312 436h1v1h-1zM313 436h1v1h-1zM314 436h1v1h-1zM315 436h1v1h-1zM316 436h1v1h-1zM317 436h1v1h-1zM318 436h1v1h-1zM319 436h1v1h-1zM320 436h1v1h-1zM321 436h1v1h-1zM322 435h1v1h-1zM323 435h1v1h-1zM324 435h1v1h-1zM325 435h1v1h-1zM326 435h1v1h-1zM327 435h1v1h-1zM328 435h1v1h-1zM329 435h1v1h-1zM330 435h1v1h-1zM331 435h1v1h-1zM332 435h1v1h-1zM333 435h1v1h-1zM334 434h1v1h-1zM335 434h1v1h-1zM336 434h1v1h-1zM337 434h1v1h-1zM338 434h1v1h-1zM339 434h1v1h-1zM340 434h1v1h-1zM341 434h1v1h-1zM342 434h1v1h-1zM343 434h1v1h-1zM344 434h1v1h-1zM345 434h1v1h-1zM346 434h1v1h-1zM347 434h1v1h-1zM348 434h1v1h-1zM349 434h1v1h-1zM350 435h1v1h-1zM351 435h1v1h-1zM352 435h1v1h-1zM353 435h1v1h-1zM354 435h1v1h-1zM355 435h1v1h-1zM356 435h1v1h-1zM357 435h1v1h-1zM358 436h1v1h-1zM359 436h1v1h-1zM360 436h1v1h-1zM361 436h1v1h-1zM362 436h1v1h-1zM363 436h1v1h-1zM364 436h1v1h-1zM365 436h1v1h-1zM366 437h1v1h-1zM367 437h1v1h-1zM368 437h1v1h-1zM369 437h1v1h-1zM370 437h1v1h-1zM371 437h1v1h-1zM372 437h1v1h-1zM373 437h1v1h-1zM374 438h1v1h-1zM375 438h1v1h-1zM376 438h1v1h-1zM377 438h1v1h-1zM378 439h1v1h-1zM379 439h1v1h-1zM380 439h1v1h-1zM381 439h1v1h-1zM382 440h1v1h-1zM383 440h1v1h-1zM384 440h1v1h-1zM385 441h1v1h-1zM386 441h1v1h-1zM387 442h1v1h-1zM388 442h1v1h-1zM389 442h1v1h-1zM390 443h1v1h-1zM391 443h1v1h-1zM392 443h1v1h-1zM393 444h1v1h-1zM394 445h1v1h-1zM395 445h1v1h-1zM396 446h1v1h-1zM397 447h1v1h-1zM398 447h1v1h-1zM399 448h1v1h-1zM400 448h1v1h-1zM401 449h1v1h-1zM402 449h1v1h-1zM403 450h1v1h-1zM404 450h1v1h-1zM405 451h1v1h-1zM406 451h1v1h-1zM407 452h1v1h-1zM408 452h1v1h-1zM409 452h1v1h-1zM410 453h1v1h-1zM411 453h1v1h-1zM412 453h1v1h-1zM413 453h1v1h-1zM414 454h1v1h-1zM415 454h1v1h-1zM416 454h1v1h-1zM417 454h1v1h-1zM418 454h1v1h-1zM419 454h1v1h-1zM420 454h1v1h-1zM421 454h1v1h-1zM422 454h1v1h-1zM423 454h1v1h-1zM424 454h1v1h-1zM425 454h1v1h-1zM426 454h1v1h-1zM427 454h1v1h-1zM428 454h1v1h-1zM429 454h1v1h-1zM430 453h1v1h-1zM431 453h1v1h-1zM432 453h1v1h-1zM433 453h1v1h-1zM434 452h1v1h-1zM435 452h1v1h-1zM436 452h1v1h-1zM437 451h1v1h-1zM438 451h1v1h-1zM439 450h1v1h-1zM440 450h1v1h-1zM441 450h1v1h-1zM442 450h1v1h-1zM443 450h1v1h-1zM444 450h1v1h-1zM445 450h1v1h-1zM446 449h1v1h-1zM447 449h1v1h-1zM448 449h1v1h-1zM449 449h1v1h-1zM450 448h1v1h-1zM451 448h1v1h-1zM452 448h1v1h-1zM453 448h1v1h-1zM454 448h1v1h-1zM455 448h1v1h-1zM456 448h1v1h-1zM457 448h1v1h-1zM458 448h1v1h-1zM459 448h1v1h-1zM460 448h1v1h-1zM461 448h1v1h-1zM462 448h1v1h-1zM463 448h1v1h-1zM464 448h1v1h-1zM465 448h1v1h-1zM466 448h1v1h-1zM467 448h1v1h-1zM468 448h1v1h-1zM469 448h1v1h-1zM470 448h1v1h-1zM471 448h1v1h-1zM472 448h1v1h-1zM473 448h1v1h-1zM474 447h1v1h-1zM475 447h1v1h-1zM476 447h1v1h-1zM477 447h1v1h-1zM478 447h1v1h-1zM479 447h1v1h-1zM480 447h1v1h-1zM481 447h1v1h-1zM482 447h1v1h-1zM483 447h1v1h-1zM484 447h1v1h-1zM485 447h1v1h-1zM486 446h1v1h-1zM487 446h1v1h-1zM488 446h1v1h-1zM489 446h1v1h-1zM490 445h1v1h-1zM491 445h1v1h-1zM492 445h1v1h-1zM493 445h1v1h-1zM494 445h1v1h-1zM495 445h1v1h-1zM496 445h1v1h-1zM497 445h1v1h-1zM498 444h1v1h-1zM499 444h1v1h-1zM500 444h1v1h-1zM501 444h1v1h-1zM502 444h1v1h-1zM503 444h1v1h-1zM504 444h1v1h-1zM505 444h1v1h-1zM506 444h1v1h-1zM507 444h1v1h-1zM508 444h1v1h-1zM509 444h1v1h-1zM510 445h1v1h-1zM511 445h1v1h-1zM512 445h1v1h-1zM513 445h1v1h-1zM514 446h1v1h-1zM515 446h1v1h-1zM516 446h1v1h-1zM517 446h1v1h-1zM518 447h1v1h-1zM519 447h1v1h-1zM520 447h1v1h-1zM521 448h1v1h-1zM522 448h1v1h-1zM523 449h1v1h-1zM524 449h1v1h-1zM525 450h1v1h-1zM526 450h1v1h-1zM527 451h1v1h-1zM528 451h1v1h-1zM529 452h1v1h-1zM530 453h1v1h-1zM531 453h1v1h-1zM532 454h1v1h-1zM533 455h1v1h-1zM534 455h1v1h-1zM535 456h1v1h-1zM536 456h1v1h-1zM537 457h1v1h-1zM538 457h1v1h-1zM539 458h1v1h-1zM540 458h1v1h-1zM541 459h1v1h-1zM542 460h1v1h-1zM543 460h1v1h-1zM544 461h1v1h-1zM545 462h1v1h-1zM546 462h1v1h-1zM547 463h1v1h-1zM548 463h1v1h-1zM549 464h1v1h-1zM550 464h1v1h-1zM551 465h1v1h-1zM552 465h1v1h-1zM553 465h1v1h-1zM554 466h1v1h-1zM555 466h1v1h-1zM556 466h1v1h-1zM557 467h1v1h-1zM558 467h1v1h-1zM559 468h1v1h-1zM560 468h1v1h-1zM561 468h1v1h-1zM562 469h1v1h-1zM563 469h1v1h-1zM564 469h1v1h-1zM565 469h1v1h-1zM566 470h1v1h-1zM567 470h1v1h-1zM568 470h1v1h-1zM569 470h1v1h-1zM570 470h1v1h-1zM571 470h1v1h-1zM572 470h1v1h-1zM573 470h1v1h-1zM574 469h1v1h-1zM575 469h1v1h-1zM576 469h1v1h-1zM577 469h1v1h-1zM578 468h1v1h-1zM579 468h1v1h-1zM580 468h1v1h-1zM581 468h1v1h-1zM582 467h1v1h-1zM583 467h1v1h-1zM584 467h1v1h-1zM585 467h1v1h-1zM586 466h1v1h-1zM587 466h1v1h-1zM588 466h1v1h-1zM589 465h1v1h-1zM590 465h1v1h-1zM591 464h1v1h-1zM592 464h1v1h-1zM593 463h1v1h-1zM594 463h1v1h-1zM595 462h1v1h-1zM596 462h1v1h-1zM597 461h1v1h-1zM598 461h1v1h-1zM599 460h1v1h-1zM600 460h1v1h-1zM601 459h1v1h-1zM602 459h1v1h-1zM603 458h1v1h-1zM604 458h1v1h-1zM605 457h1v1h-1zM606 457h1v1h-1zM607 456h1v1h-1zM608 456h1v1h-1zM609 455h1v1h-1zM610 455h1v1h-1zM611 454h1v1h-1zM612 454h1v1h-1zM613 453h1v1h-1zM614 453h1v1h-1zM615 452h1v1h-1zM616 452h1v1h-1zM617 451h1v1h-1zM618 451h1v1h-1zM619 450h1v1h-1zM620 450h1v1h-1zM621 450h1v1h-1zM622 449h1v1h-1zM623 449h1v1h-1zM624 449h1v1h-1zM625 448h1v1h-1zM626 448h1v1h-1zM627 447h1v1h-1zM628 447h1v1h-1zM629 447h1v1h-1zM630 446h1v1h-1zM631 446h1v1h-1zM632 446h1v1h-1zM633 446h1v1h-1zM634 445h1v1h-1zM635 445h1v1h-1zM636 445h1v1h-1zM637 444h1v1h-1zM638 444h1v1h-1zM639 443h1v1h-1zM640 443h1v1h-1zM641 443h1v1h-1zM642 442h1v1h-1zM643 442h1v1h-1zM644 442h1v1h-1zM645 442h1v1h-1zM646 442h1v1h-1zM647 442h1v1h-1zM648 442h1v1h-1zM649 442h1v1h-1zM650 441h1v1h-1zM651 441h1v1h-1zM652 441h1v1h-1zM653 441h1v1h-1zM654 440h1v1h-1zM655 440h1v1h-1zM656 440h1v1h-1zM657 440h1v1h-1zM658 439h1v1h-1zM659 439h1v1h-1zM660 439h1v1h-1zM661 439h1v1h-1zM662 439h1v1h-1zM663 439h1v1h-1zM664 439h1v1h-1zM665 439h1v1h-1zM666 438h1v1h-1zM667 438h1v1h-1zM668 438h1v1h-1zM669 438h1v1h-1zM670 437h1v1h-1zM671 437h1v1h-1zM672 437h1v1h-1zM673 437h1v1h-1zM674 437h1v1h-1zM675 437h1v1h-1zM676 437h1v1h-1zM677 437h1v1h-1zM678 437h1v1h-1zM679 437h1v1h-1zM680 437h1v1h-1zM681 437h1v1h-1zM682 437h1v1h-1zM683 437h1v1h-1zM684 437h1v1h-1zM685 437h1v1h-1zM686 437h1v1h-1zM687 437h1v1h-1zM688 437h1v1h-1zM689 437h1v1h-1zM690 438h1v1h-1zM691 438h1v1h-1zM692 438h1v1h-1zM693 438h1v1h-1zM694 439h1v1h-1zM695 439h1v1h-1zM696 439h1v1h-1zM697 439h1v1h-1zM698 440h1v1h-1zM699 440h1v1h-1zM700 440h1v1h-1zM701 440h1v1h-1zM702 441h1v1h-1zM703 441h1v1h-1zM704 441h1v1h-1zM705 441h1v1h-1zM706 442h1v1h-1zM707 442h1v1h-1zM708 442h1v1h-1zM709 442h1v1h-1zM710 443h1v1h-1zM711 443h1v1h-1zM712 443h1v1h-1zM713 444h1v1h-1zM714 444h1v1h-1zM715 445h1v1h-1zM716 445h1v1h-1zM717 445h1v1h-1zM718 446h1v1h-1zM719 446h1v1h-1zM720 446h1v1h-1zM721 447h1v1h-1zM722 447h1v1h-1zM723 448h1v1h-1zM724 448h1v1h-1zM725 448h1v1h-1zM726 449h1v1h-1zM727 449h1v1h-1zM728 449h1v1h-1zM729 450h1v1h-1zM730 450h1v1h-1zM731 451h1v1h-1zM732 451h1v1h-1zM733 451h1v1h-1zM734 452h1v1h-1zM735 452h1v1h-1zM736 452h1v1h-1zM737 453h1v1h-1zM738 453h1v1h-1zM739 454h1v1h-1zM740 454h1v1h-1zM741 454h1v1h-1zM742 455h1v1h-1zM743 455h1v1h-1zM744 455h1v1h-1zM745 456h1v1h-1zM746 456h1v1h-1zM747 457h1v1h-1zM748 457h1v1h-1zM749 457h1v1h-1zM750 458h1v1h-1zM751 458h1v1h-1zM752 458h1v1h-1zM753 458h1v1h-1zM754 458h1v1h-1zM755 458h1v1h-1zM756 458h1v1h-1zM757 458h1v1h-1zM758 459h1v1h-1zM759 459h1v1h-1zM760 459h1v1h-1zM761 459h1v1h-1zM762 460h1v1h-1zM763 460h1v1h-1zM764 460h1v1h-1zM765 460h1v1h-1zM766 460h1v1h-1zM767 460h1v1h-1zM768 460h1v1h-1zM769 460h1v1h-1zM770 461h1v1h-1zM771 461h1v1h-1zM772 461h1v1h-1zM773 461h1v1h-1zM774 461h1v1h-1zM775 461h1v1h-1zM776 461h1v1h-1zM777 461h1v1h-1zM778 462h1v1h-1zM779 462h1v1h-1zM780 462h1v1h-1zM781 462h1v1h-1zM782 463h1v1h-1zM783 463h1v1h-1zM784 463h1v1h-1zM785 464h1v1h-1zM786 464h1v1h-1zM787 465h1v1h-1zM788 465h1v1h-1zM789 466h1v1h-1zM790 466h1v1h-1zM791 467h1v1h-1zM792 467h1v1h-1zM793 468h1v1h-1zM794 468h1v1h-1zM795 469h1v1h-1zM796 469h1v1h-1zM797 470h1v1h-1zM798 470h1v1h-1zM799 471h1v1h-1zM800 471h1v1h-1zM801 471h1v1h-1zM802 472h1v1h-1zM803 472h1v1h-1zM804 472h1v1h-1zM805 472h1v1h-1zM806 473h1v1h-1zM807 473h1v1h-1zM808 473h1v1h-1zM809 473h1v1h-1zM810 473h1v1h-1zM811 473h1v1h-1zM812 473h1v1h-1zM813 473h1v1h-1zM814 473h1v1h-1zM815 473h1v1h-1zM816 473h1v1h-1zM817 473h1v1h-1zM818 472h1v1h-1zM819 472h1v1h-1zM820 472h1v1h-1zM821 472h1v1h-1zM822 471h1v1h-1zM823 471h1v1h-1zM824 471h1v1h-1zM825 471h1v1h-1zM826 470h1v1h-1zM827 470h1v1h-1zM828 470h1v1h-1zM829 469h1v1h-1zM830 469h1v1h-1zM831 468h1v1h-1zM832 468h1v1h-1zM833 467h1v1h-1zM834 467h1v1h-1zM835 466h1v1h-1zM836 466h1v1h-1zM837 466h1v1h-1zM838 465h1v1h-1zM839 465h1v1h-1zM840 465h1v1h-1zM841 464h1v1h-1zM842 464h1v1h-1zM843 463h1v1h-1zM844 463h1v1h-1zM845 463h1v1h-1zM846 462h1v1h-1zM847 462h1v1h-1zM848 462h1v1h-1zM849 462h1v1h-1zM850 461h1v1h-1zM851 461h1v1h-1zM852 461h1v1h-1zM853 460h1v1h-1zM854 460h1v1h-1zM855 459h1v1h-1zM856 459h1v1h-1zM857 459h1v1h-1zM858 458h1v1h-1zM859 458h1v1h-1zM860 458h1v1h-1zM861 457h1v1h-1zM862 457h1v1h-1zM863 456h1v1h-1zM864 456h1v1h-1zM865 456h1v1h-1zM866 455h1v1h-1zM867 455h1v1h-1zM868 455h1v1h-1zM869 454h1v1h-1zM870 454h1v1h-1zM871 453h1v1h-1zM872 453h1v1h-1zM873 452h1v1h-1zM874 452h1v1h-1zM875 451h1v1h-1zM876 451h1v1h-1zM877 450h1v1h-1zM878 450h1v1h-1zM879 449h1v1h-1zM880 449h1v1h-1zM881 448h1v1h-1zM882 448h1v1h-1zM883 447h1v1h-1zM884 447h1v1h-1zM885 446h1v1h-1zM886 445h1v1h-1zM887 445h1v1h-1zM888 444h1v1h-1zM889 443h1v1h-1zM890 443h1v1h-1zM891 442h1v1h-1zM892 442h1v1h-1zM893 441h1v1h-1zM894 441h1v1h-1zM895 440h1v1h-1zM896 440h1v1h-1zM897 439h1v1h-1zM898 439h1v1h-1zM899 438h1v1h-1zM900 438h1v1h-1zM901 437h1v1h-1zM902 437h1v1h-1zM903 436h1v1h-1zM904 436h1v1h-1zM905 435h1v1h-1zM906 435h1v1h-1zM907 434h1v1h-1zM908 434h1v1h-1zM909 433h1v1h-1zM910 433h1v1h-1zM911 432h1v1h-1zM912 432h1v1h-1zM913 432h1v1h-1zM914 431h1v1h-1zM915 431h1v1h-1zM916 431h1v1h-1zM917 430h1v1h-1zM918 430h1v1h-1zM919 429h1v1h-1zM920 429h1v1h-1zM921 429h1v1h-1zM922 428h1v1h-1zM923 428h1v1h-1zM924 428h1v1h-1z" fill="#ff0000"/>
</g>
<line x1="5" y1="517.5" x2="1166" y2="517.5" stroke="#c0c0c0" stroke-width="1" stroke-dasharray="3,3"/>
<line x1="5" y1="550.5" x2="1166" y2="550.5" stroke="#c0c0c0" stroke-width="1" stroke-dasharray="3,3"/>
<g clip-path="url(#crsi)">
<path d="M0 526h1v1h-1zM1 527h1v2h-1zM2 529h1v1h-1zM3 530h1v2h-1zM4 532h1v1h-1zM5 533h1v1h-1zM6 533h1v1h-1zM7 534h1v1h-1zM8 534h1v1h-1zM9 534h1v1h-1zM10 535h1v1h-1zM11 535h1v1h-1zM12 535h1v1h-1zM13 535h1v1h-1zM14 536h1v1h-1zM15 536h1v1h-1zM16 536h1v1h-1zM17 534h1v2h-1zM18 532h1v2h-1zM19 530h1v2h-1zM20 528h1v2h-1zM21 529h1v1h-1zM22 530h1v1h-1zM23 530h1v1h-1zM24 531h1v1h-1zM25 532h1v1h-1zM26 532h1v1h-1zM27 533h1v1h-1zM28 533h1v1h-1zM29 533h1v1h-1zM30 533h1v1h-1zM31 533h1v1h-1zM32 533h1v1h-1zM33 532h1v1h-1zM34 531h1v1h-1zM35 530h1v1h-1zM36 529h1v1h-1zM37 527h1v2h-1zM38 525h1v2h-1zM39 523h1v2h-1zM40 522h1v1h-1zM41 523h1v1h-1zM42 524h1v1h-1zM43 525h1v1h-1zM44 526h1v1h-1zM45 526h1v1h-1zM46 525h1v1h-1zM47 525h1v1h-1zM48 525h1v1h-1zM49 525h1v1h-1zM50 525h1v1h-1zM51 525h1v1h-1zM52 525h1v1h-1zM53 526h1v2h-1zM54 528h1v1h-1zM55 529h1v2h-1zM56 531h1v1h-1zM57 532h1v2h-1zM58 534h1v2h-1zM59 536h1v2h-1zM60 538h1v1h-1zM61 538h1v1h-1zM62 539h1v1h-1zM63 539h1v1h-1zM64 539h1v1h-1zM65 540h1v1h-1zM66 541h1v1h-1zM67 541h1v1h-1zM68 542h1v1h-1zM69 543h1v2h-1zM70 545h1v2h-1zM71 547h1v2h-1zM72 549h1v1h-1zM73 549h1v1h-1zM74 550h1v1h-1zM75 550h1v1h-1zM76 550h1v1h-1zM77 550h1v1h-1zM78 550h1v1h-1zM79 550h1v1h-1zM80 550h1v1h-1zM81 549h1v1h-1zM82 547h1v2h-1zM83 546h1v1h-1zM84 545h1v1h-1zM85 545h1v1h-1zM86 545h1v1h-1zM87 545h1v1h-1zM88 545h1v1h-1zM89 544h1v1h-1zM90 542h1v2h-1zM91 541h1v1h-1zM92 540h1v1h-1zM93 539h1v1h-1zM94 537h1v2h-1zM95 536h1v1h-1zM96 535h1v1h-1zM97 534h1v1h-1zM98 533h1v1h-1zM99 532h1v1h-1zM100 531h1v1h-1zM101 532h1v1h-1zM102 532h1v1h-1zM103 533h1v1h-1zM104 533h1v1h-1zM105 533h1v1h-1zM106 533h1v1h-1zM107 533h1v1h-1zM108 533h1v1h-1zM109 534h1v1h-1zM110 535h1v1h-1zM111 536h1v1h-1zM112 537h1v2h-1zM113 539h1v3h-1zM114 542h1v2h-1zM115 544h1v3h-1zM116 547h1v2h-1zM117 548h1v1h-1zM118 547h1v1h-1zM119 547h1v1h-1zM120 547h1v1h-1zM121 547h1v1h-1zM122 547h1v1h-1zM123 547h1v1h-1zM124 547h1v1h-1zM125 547h1v1h-1zM126 548h1v1h-1zM127 548h1v1h-1zM128 548h1v1h-1zM129 549h1v1h-1zM130 549h1v1h-1zM131 550h1v1h-1zM132 550h1v1h-1zM133 551h1v1h-1zM134 552h1v1h-1zM135 552h1v1h-1zM136 553h1v1h-1zM137 553h1v1h-1zM138 552h1v1h-1zM139 552h1v1h-1zM140 552h1v1h-1zM141 552h1v1h-1zM142 553h1v1h-1zM143 553h1v1h-1zM144 553h1v1h-1zM145 553h1v1h-1zM146 554h1v1h-1zM147 554h1v1h-1zM148 554h1v1h-1zM149 552h1v2h-1zM150 550h1v2h-1zM151 548h1v2h-1zM152 547h1v1h-1zM153 547h1v1h-1zM154 548h1v1h-1zM155 548h1v1h-1zM156 548h1v1h-1zM157 549h1v1h-1zM158 550h1v1h-1zM159 550h1v1h-1zM160 551h1v1h-1zM161 551h1v1h-1zM162 552h1v1h-1zM163 552h1v1h-1zM164 552h1v1h-1zM165 550h1v2h-1zM166 548h1v2h-1zM167 546h1v2h-1zM168 544h1v2h-1zM169 545h1v1h-1zM170 545h1v1h-1zM171 546h1v1h-1zM172 546h1v1h-1zM173 546h1v1h-1zM174 545h1v1h-1zM175 545h1v1h-1zM176 545h1v1h-1zM177 544h1v1h-1zM178 543h1v1h-1zM179 542h1v1h-1zM180 541h1v1h-1zM181 542h1v1h-1zM182 542h1v1h-1zM183 543h1v1h-1zM184 543h1v1h-1zM185 544h1v1h-1zM186 544h1v1h-1zM187 545h1v1h-1zM188 545h1v1h-1zM189 546h1v1h-1zM190 546h1v1h-1zM191 547h1v1h-1zM192 547h1v1h-1zM193 547h1v1h-1zM194 548h1v1h-1zM195 548h1v1h-1zM196 548h1v1h-1zM197 548h1v1h-1zM198 547h1v1h-1zM199 547h1v1h-1zM200 547h1v1h-1zM201 547h1v1h-1zM202 546h1v1h-1zM203 546h1v1h-1zM204 546h1v1h-1zM205 546h1v1h-1zM206 546h1v1h-1zM207 546h1v1h-1zM208 546h1v1h-1zM209 544h1v2h-1zM210 542h1v2h-1zM211 540h1v2h-1zM212 539h1v1h-1zM213 539h1v1h-1zM214 540h1v1h-1zM215 540h1v1h-1zM216 540h1v1h-1zM217 541h1v1h-1zM218 541h1v1h-1zM219 542h1v1h-1zM220 542h1v1h-1zM221 540h1v2h-1zM222 538h1v2h-1zM223 536h1v2h-1zM224 534h1v2h-1zM225 533h1v1h-1zM226 533h1v1h-1zM227 532h1v1h-1zM228 532h1v1h-1zM229 532h1v1h-1zM230 532h1v1h-1zM231 532h1v1h-1zM232 532h1v1h-1zM233 532h1v1h-1zM234 531h1v1h-1zM235 531h1v1h-1zM236 531h1v1h-1zM237 530h1v1h-1zM238 528h1v2h-1zM239 527h1v1h-1zM240 526h1v1h-1zM241 527h1v1h-1zM242 528h1v1h-1zM243 528h1v1h-1zM244 529h1v1h-1zM245 530h1v1h-1zM246 531h1v1h-1zM247 531h1v1h-1zM248 532h1v1h-1zM249 531h1v1h-1zM250 530h1v1h-1zM251 530h1v1h-1zM252 529h1v1h-1zM253 530h1v1h-1zM254 531h1v1h-1zM255 532h1v1h-1zM256 533h1v1h-1zM257 531h1v2h-1zM258 529h1v2h-1zM259 527h1v2h-1zM260 526h1v1h-1zM261 526h1v1h-1zM262 525h1v1h-1zM263 525h1v1h-1zM264 525h1v1h-1zM265 525h1v1h-1zM266 526h1v1h-1zM267 526h1v1h-1zM268 526h1v1h-1zM269 527h1v1h-1zM270 527h1v1h-1zM271 528h1v1h-1zM272 528h1v1h-1zM273 527h1v1h-1zM274 525h1v2h-1zM275 524h1v1h-1zM276 523h1v1h-1zM277 521h1v2h-1zM278 520h1v1h-1zM279 518h1v2h-1zM280 517h1v2h-1zM281 519h1v3h-1zM282 522h1v2h-1zM283 524h1v3h-1zM284 527h1v2h-1zM285 528h1v1h-1zM286 529h1v1h-1zM287 529h1v1h-1zM288 529h1v1h-1zM289 530h1v1h-1zM290 530h1v1h-1zM291 531h1v1h-1zM292 531h1v1h-1zM293 530h1v1h-1zM294 530h1v1h-1zM295 529h1v1h-1zM296 529h1v1h-1zM297 529h1v1h-1zM298 530h1v1h-1zM299 530h1v1h-1zM300 530h1v1h-1zM301 528h1v2h-1zM302 526h1v2h-1zM303 524h1v2h-1zM304 523h1v1h-1zM305 523h1v1h-1zM306 523h1v1h-1zM307 523h1v1h-1zM308 523h1v1h-1zM309 524h1v1h-1zM310 525h1v1h-1zM311 526h1v1h-1zM312 527h1v1h-1zM313 527h1v1h-1zM314 528h1v1h-1zM315 528h1v1h-1zM316 528h1v1h-1zM317 527h1v1h-1zM318 527h1v1h-1zM319 526h1v1h-1zM320 526h1v1h-1zM321 525h1v1h-1zM322 525h1v1h-1zM323 524h1v1h-1zM324 524h1v1h-1zM325 525h1v1h-1zM326 526h1v2h-1zM327 528h1v1h-1zM328 529h1v1h-1zM329 529h1v1h-1zM330 528h1v1h-1zM331 528h1v1h-1zM332 528h1v1h-1zM333 527h1v1h-1zM334 527h1v1h-1zM335 526h1v1h-1zM336 526h1v1h-1zM337 527h1v1h-1zM338 528h1v1h-1zM339 528h1v1h-1zM340 529h1v1h-1zM341 529h1v1h-1zM342 530h1v1h-1zM343 530h1v1h-1zM344 530h1v1h-1zM345 530h1v1h-1zM346 531h1v1h-1zM347 531h1v1h-1zM348 531h1v1h-1zM349 530h1v1h-1zM350 530h1v1h-1zM351 529h1v1h-1zM352 529h1v1h-1zM353 529h1v1h-1zM354 529h1v1h-1zM355 529h1v1h-1zM356 529h1v1h-1zM357 529h1v1h-1zM358 530h1v1h-1zM359 530h1v1h-1zM360 530h1v1h-1zM361 529h1v1h-1zM362 528h1v1h-1zM363 528h1v1h-1zM364 527h1v1h-1zM365 527h1v1h-1zM366 527h1v1h-1zM367 527h1v1h-1zM368 527h1v1h-1zM369 526h1v1h-1zM370 526h1v1h-1zM371 525h1v1h-1zM372 525h1v2h-1zM373 527h1v3h-1zM374 530h1v2h-1zM375 532h1v3h-1zM376 535h1v2h-1zM377 536h1v1h-1zM378 537h1v1h-1zM379 537h1v1h-1zM380 537h1v1h-1zM381 538h1v2h-1zM382 540h1v1h-1zM383 541h1v2h-1zM384 543h1v1h-1zM385 543h1v1h-1zM386 543h1v1h-1zM387 543h1v1h-1zM388 543h1v1h-1zM389 544h1v1h-1zM390 545h1v1h-1zM391 545h1v1h-1zM392 546h1v1h-1zM393 546h1v1h-1zM394 545h1v1h-1zM395 545h1v1h-1zM396 545h1v1h-1zM397 543h1v2h-1zM398 541h1v2h-1zM399 539h1v2h-1zM400 538h1v1h-1zM401 538h1v1h-1zM402 537h1v1h-1zM403 537h1v1h-1zM404 537h1v1h-1zM405 535h1v2h-1zM406 533h1v2h-1zM407 531h1v2h-1zM408 530h1v1h-1zM409 530h1v1h-1zM410 529h1v1h-1zM411 529h1v1h-1zM412 529h1v1h-1zM413 530h1v1h-1zM414 531h1v1h-1zM415 532h1v1h-1zM416 533h1v1h-1zM417 533h1v1h-1zM418 533h1v1h-1zM419 533h1v1h-1zM420 533h1v1h-1zM421 532h1v1h-1zM422 531h1v1h-1zM423 530h1v1h-1zM424 529h1v1h-1zM425 530h1v1h-1zM426 531h1v1h-1zM427 531h1v1h-1zM428 532h1v1h-1zM429 532h1v1h-1zM430 531h1v1h-1zM431 531h1v1h-1zM432 531h1v1h-1zM433 531h1v1h-1zM434 530h1v1h-1zM435 530h1v1h-1zM436 530h1v1h-1zM437 530h1v1h-1zM438 531h1v1h-1zM439 531h1v1h-1zM440 531h1v1h-1zM441 532h1v1h-1zM442 532h1v1h-1zM443 533h1v1h-1zM444 533h1v1h-1zM445 532h1v1h-1zM446 531h1v1h-1zM447 531h1v1h-1zM448 530h1v1h-1zM449 530h1v1h-1zM450 531h1v1h-1zM451 531h1v1h-1zM452 531h1v1h-1zM453 532h1v1h-1zM454 533h1v1h-1zM455 533h1v1h-1zM456 534h1v1h-1zM457 534h1v1h-1zM458 535h1v1h-1zM459 535h1v1h-1zM460 535h1v1h-1zM461 535h1v1h-1zM462 535h1v1h-1zM463 535h1v1h-1zM464 535h1v1h-1zM465 536h1v1h-1zM466 536h1v1h-1zM467 537h1v1h-1zM468 536h1v2h-1zM469 533h1v3h-1zM470 531h1v2h-1zM471 528h1v3h-1zM472 526h1v2h-1zM473 526h1v1h-1zM474 525h1v1h-1zM475 525h1v1h-1zM476 525h1v1h-1zM477 525h1v1h-1zM478 524h1v1h-1zM479 524h1v1h-1zM480 524h1v1h-1zM481 525h1v1h-1zM482 525h1v1h-1zM483 526h1v1h-1zM484 526h1v1h-1zM485 527h1v1h-1zM486 527h1v1h-1zM487 528h1v1h-1zM488 528h1v1h-1zM489 527h1v1h-1zM490 526h1v1h-1zM491 526h1v1h-1zM492 525h1v1h-1zM493 525h1v1h-1zM494 526h1v1h-1zM495 526h1v1h-1zM496 526h1v1h-1zM497 527h1v2h-1zM498 529h1v2h-1zM499 531h1v2h-1zM500 533h1v3h-1zM501 536h1v2h-1zM502 538h1v3h-1zM503 541h1v2h-1zM504 543h1v2h-1zM505 544h1v1h-1zM506 544h1v1h-1zM507 544h1v1h-1zM508 544h1v1h-1zM509 542h1v2h-1zM510 541h1v1h-1zM511 539h1v2h-1zM512 538h1v1h-1zM513 539h1v1h-1zM514 539h1v1h-1zM515 540h1v1h-1zM516 540h1v1h-1zM517 540h1v1h-1zM518 541h1v1h-1zM519 541h1v1h-1zM520 541h1v1h-1zM521 542h1v1h-1zM522 543h1v2h-1zM523 545h1v1h-1zM524 546h1v1h-1zM525 546h1v1h-1zM526 546h1v1h-1zM527 546h1v1h-1zM528 546h1v1h-1zM529 546h1v1h-1zM530 547h1v1h-1zM531 547h1v1h-1zM532 547h1v1h-1zM533 548h1v1h-1zM534 548h1v1h-1zM535 549h1v1h-1zM536 549h1v1h-1zM537 549h1v1h-1zM538 550h1v1h-1zM539 550h1v1h-1zM540 550h1v1h-1zM541 550h1v1h-1zM542 549h1v1h-1zM543 549h1v1h-1zM544 549h1v1h-1zM545 549h1v1h-1zM546 550h1v1h-1zM547 550h1v1h-1zM548 550h1v1h-1zM549 550h1v1h-1zM550 551h1v1h-1zM551 551h1v1h-1zM552 551h1v1h-1zM553 551h1v1h-1zM554 551h1v1h-1zM555 551h1v1h-1zM556 551h1v1h-1zM557 551h1v1h-1zM558 551h1v1h-1zM559 551h1v1h-1zM560 551h1v1h-1zM561 550h1v1h-1zM562 549h1v1h-1zM563 549h1v1h-1zM564 546h1v3h-1zM565 542h1v4h-1zM566 538h1v4h-1zM567 534h1v4h-1zM568 531h1v3h-1zM569 532h1v1h-1zM570 533h1v2h-1zM571 535h1v1h-1zM572 536h1v1h-1zM573 536h1v1h-1zM574 535h1v1h-1zM575 535h1v1h-1zM576 535h1v1h-1zM577 535h1v1h-1zM578 535h1v1h-1zM579 535h1v1h-1zM580 535h1v1h-1zM581 535h1v1h-1zM582 536h1v1h-1zM583 536h1v1h-1zM584 536h1v1h-1zM585 535h1v1h-1zM586 534h1v1h-1zM587 534h1v1h-1zM588 533h1v1h-1zM589 532h1v1h-1zM590 532h1v1h-1zM591 531h1v1h-1zM592 531h1v1h-1zM593 531h1v1h-1zM594 531h1v1h-1zM595 531h1v1h-1zM596 531h1v1h-1zM597 530h1v1h-1zM598 528h1v2h-1zM599 527h1v1h-1zM600 526h1v1h-1zM601 526h1v1h-1zM602 525h1v1h-1zM603 525h1v1h-1zM604 525h1v1h-1zM605 526h1v1h-1zM606 526h1v1h-1zM607 527h1v1h-1zM608 527h1v1h-1zM609 526h1v1h-1zM610 526h1v1h-1zM611 525h1v1h-1zM612 525h1v1h-1zM613 525h1v1h-1zM614 524h1v1h-1zM615 524h1v1h-1zM616 524h1v1h-1zM617 523h1v1h-1zM618 523h1v1h-1zM619 522h1v1h-1zM620 522h1v1h-1zM621 523h1v2h-1zM622 525h1v2h-1zM623 527h1v2h-1zM624 529h1v1h-1zM625 528h1v1h-1zM626 528h1v1h-1zM627 527h1v1h-1zM628 527h1v1h-1zM629 528h1v1h-1zM630 529h1v1h-1zM631 529h1v1h-1zM632 530h1v1h-1zM633 529h1v1h-1zM634 529h1v1h-1zM635 528h1v1h-1zM636 528h1v1h-1zM637 526h1v2h-1zM638 524h1v2h-1zM639 522h1v2h-1zM640 521h1v1h-1zM641 522h1v1h-1zM642 523h1v1h-1zM643 523h1v1h-1zM644 524h1v1h-1zM645 524h1v1h-1zM646 523h1v1h-1zM647 523h1v1h-1zM648 523h1v1h-1zM649 523h1v1h-1zM650 522h1v1h-1zM651 522h1v1h-1zM652 522h1v1h-1zM653 521h1v1h-1zM654 521h1v1h-1zM655 520h1v1h-1zM656 520h1v1h-1zM657 521h1v1h-1zM658 522h1v1h-1zM659 523h1v1h-1zM660 524h1v1h-1zM661 525h1v1h-1zM662 525h1v1h-1zM663 526h1v1h-1zM664 526h1v1h-1zM665 526h1v1h-1zM666 525h1v1h-1zM667 525h1v1h-1zM668 525h1v1h-1zM669 525h1v1h-1zM670 526h1v1h-1zM671 526h1v1h-1zM672 526h1v1h-1zM673 526h1v1h-1zM674 527h1v1h-1zM675 527h1v1h-1zM676 527h1v1h-1zM677 526h1v1h-1zM678 525h1v1h-1zM679 524h1v1h-1zM680 523h1v1h-1zM681 524h1v1h-1zM682 524h1v1h-1zM683 525h1v1h-1zM684 525h1v2h-1zM685 527h1v3h-1zM686 530h1v2h-1zM687 532h1v3h-1zM688 535h1v2h-1zM689 537h1v2h-1zM690 539h1v1h-1zM691 540h1v2h-1zM692 541h1v2h-1zM693 538h1v3h-1zM694 536h1v2h-1zM695 533h1v3h-1zM696 531h1v2h-1zM697 531h1v1h-1zM698 532h1v1h-1zM699 532h1v1h-1zM700 532h1v1h-1zM701 533h1v1h-1zM702 534h1v1h-1zM703 535h1v1h-1zM704 536h1v1h-1zM705 536h1v1h-1zM706 535h1v1h-1zM707 535h1v1h-1zM708 535h1v1h-1zM709 536h1v1h-1zM710 536h1v1h-1zM711 537h1v1h-1zM712 537h1v1h-1zM713 538h1v1h-1zM714 539h1v1h-1zM715 539h1v1h-1zM716 540h1v1h-1zM717 540h1v1h-1zM718 539h1v1h-1zM719 539h1v1h-1zM720 539h1v1h-1zM721 540h1v1h-1zM722 540h1v1h-1zM723 541h1v1h-1zM724 541h1v1h-1zM725 542h1v1h-1zM726 543h1v1h-1zM727 543h1v1h-1zM728 544h1v1h-1zM729 544h1v1h-1zM730 543h1v1h-1zM731 543h1v1h-1zM732 543h1v1h-1zM733 544h1v1h-1zM734 545h1v1h-1zM735 546h1v1h-1zM736 547h1v1h-1zM737 546h1v1h-1zM738 546h1v1h-1zM739 545h1v1h-1zM740 545h1v1h-1zM741 543h1v2h-1zM742 542h1v1h-1zM743 540h1v2h-1zM744 539h1v1h-1zM745 539h1v1h-1zM746 538h1v1h-1zM747 538h1v1h-1zM748 538h1v1h-1zM749 538h1v1h-1zM750 538h1v1h-1zM751 538h1v1h-1zM752 538h1v1h-1zM753 539h1v1h-1zM754 539h1v1h-1zM755 540h1v1h-1zM756 540h1v1h-1zM757 539h1v1h-1zM758 539h1v1h-1zM759 538h1v1h-1zM760 538h1v1h-1zM761 539h1v2h-1zM762 541h1v1h-1zM763 542h1v2h-1zM764 544h1v1h-1zM765 545h1v1h-1zM766 546h1v1h-1zM767 546h1v1h-1zM768 547h1v1h-1zM769 548h1v1h-1zM770 548h1v1h-1zM771 549h1v1h-1zM772 549h1v1h-1zM773 549h1v1h-1zM774 550h1v1h-1zM775 550h1v1h-1zM776 550h1v1h-1zM777 551h1v2h-1zM778 553h1v1h-1zM779 554h1v2h-1zM780 556h1v1h-1zM781 555h1v1h-1zM782 554h1v1h-1zM783 554h1v1h-1zM784 553h1v1h-1zM785 553h1v1h-1zM786 554h1v1h-1zM787 554h1v1h-1zM788 554h1v1h-1zM789 554h1v1h-1zM790 553h1v1h-1zM791 553h1v1h-1zM792 553h1v1h-1zM793 553h1v1h-1zM794 552h1v1h-1zM795 552h1v1h-1zM796 552h1v1h-1zM797 552h1v1h-1zM798 553h1v1h-1zM799 553h1v1h-1zM800 553h1v1h-1zM801 551h1v2h-1zM802 549h1v2h-1zM803 547h1v2h-1zM804 545h1v2h-1zM805 544h1v1h-1zM806 543h1v1h-1zM807 542h1v1h-1zM808 541h1v1h-1zM809 539h1v2h-1zM810 537h1v2h-1zM811 535h1v2h-1zM812 533h1v2h-1zM813 534h1v1h-1zM814 535h1v2h-1zM815 537h1v1h-1zM816 538h1v1h-1zM817 538h1v1h-1zM818 537h1v1h-1zM819 537h1v1h-1zM820 537h1v1h-1zM821 537h1v1h-1zM822 537h1v1h-1zM823 537h1v1h-1zM824 537h1v1h-1zM825 536h1v1h-1zM826 536h1v1h-1zM827 535h1v1h-1zM828 535h1v1h-1zM829 536h1v1h-1zM830 537h1v1h-1zM831 537h1v1h-1zM832 538h1v1h-1zM833 538h1v1h-1zM834 538h1v1h-1zM835 538h1v1h-1zM836 538h1v1h-1zM837 537h1v1h-1zM838 537h1v1h-1zM839 536h1v1h-1zM840 536h1v1h-1zM841 536h1v1h-1zM842 535h1v1h-1zM843 535h1v1h-1zM844 535h1v1h-1zM845 535h1v1h-1zM846 536h1v1h-1zM847 536h1v1h-1zM848 536h1v1h-1zM849 536h1v1h-1zM850 535h1v1h-1zM851 535h1v1h-1zM852 535h1v1h-1zM853 533h1v2h-1zM854 531h1v2h-1zM855 529h1v2h-1zM856 527h1v2h-1zM857 526h1v1h-1zM858 525h1v1h-1zM859 525h1v1h-1zM860 524h1v1h-1zM861 524h1v1h-1zM862 525h1v1h-1zM863 525h1v1h-1zM864 525h1v1h-1zM865 525h1v1h-1zM866 525h1v1h-1zM867 525h1v1h-1zM868 525h1v1h-1zM869 524h1v1h-1zM870 523h1v1h-1zM871 522h1v1h-1zM872 521h1v1h-1zM873 521h1v1h-1zM874 520h1v1h-1zM875 520h1v1h-1zM876 520h1v1h-1zM877 519h1v1h-1zM878 519h1v1h-1zM879 518h1v1h-1zM880 518h1v1h-1zM881 517h1v1h-1zM882 517h1v1h-1zM883 516h1v1h-1zM884 516h1v1h-1zM885 516h1v1h-1zM886 516h1v1h-1zM887 516h1v1h-1zM888 516h1v1h-1zM889 516h1v1h-1zM890 516h1v1h-1zM891 516h1v1h-1zM892 516h1v1h-1zM893 515h1v1h-1zM894 514h1v1h-1zM895 514h1v1h-1zM896 513h1v1h-1zM897 513h1v1h-1zM898 512h1v1h-1zM899 512h1v1h-1zM900 512h1v1h-1zM901 512h1v1h-1zM902 511h1v1h-1zM903 511h1v1h-1zM904 511h1v1h-1zM905 511h1v1h-1zM906 510h1v1h-1zM907 510h1v1h-1zM908 510h1v1h-1zM909 510h1v1h-1zM910 510h1v1h-1zM911 510h1v1h-1zM912 510h1v1h-1zM913 511h1v1h-1zM914 511h1v1h-1zM915 512h1v1h-1zM916 512h1v1h-1zM917 511h1v1h-1zM918 511h1v1h-1zM919 510h1v1h-1zM920 510h1v1h-1zM921 511h1v1h-1zM922 512h1v1h-1zM923 512h1v1h-1zM924 513h1v1h-1z" fill="#1e90ff"/>
</g>
<rect x="1167" y="53" width="2" height="1" fill="#000"/>
<text x="1172" y="57" font-size="9.5" fill="#000" stroke="#000" stroke-width="0.2" textLength="33" lengthAdjust="spacingAndGlyphs" >1.35455</text>
<rect x="1167" y="86" width="2" height="1" fill="#000"/>
<text x="1172" y="90" font-size="9.5" fill="#000" stroke="#000" stroke-width="0.2" textLength="33" lengthAdjust="spacingAndGlyphs" >1.34900</text>
<rect x="1167" y="119" width="2" height="1" fill="#000"/>
<text x="1172" y="123" font-size="9.5" fill="#000" stroke="#000" stroke-width="0.2" textLength="33" lengthAdjust="spacingAndGlyphs" >1.34360</text>
<rect x="1167" y="152" width="2" height="1" fill="#000"/>
<text x="1172" y="156" font-size="9.5" fill="#000" stroke="#000" stroke-width="0.2" textLength="33" lengthAdjust="spacingAndGlyphs" >1.33805</text>
<rect x="1167" y="185" width="2" height="1" fill="#000"/>
<text x="1172" y="189" font-size="9.5" fill="#000" stroke="#000" stroke-width="0.2" textLength="33" lengthAdjust="spacingAndGlyphs" >1.33250</text>
<rect x="1167" y="251" width="2" height="1" fill="#000"/>
<text x="1172" y="255" font-size="9.5" fill="#000" stroke="#000" stroke-width="0.2" textLength="33" lengthAdjust="spacingAndGlyphs" >1.32155</text>
<rect x="1167" y="284" width="2" height="1" fill="#000"/>
<text x="1172" y="288" font-size="9.5" fill="#000" stroke="#000" stroke-width="0.2" textLength="33" lengthAdjust="spacingAndGlyphs" >1.31600</text>
<rect x="1167" y="317" width="2" height="1" fill="#000"/>
<text x="1172" y="321" font-size="9.5" fill="#000" stroke="#000" stroke-width="0.2" textLength="33" lengthAdjust="spacingAndGlyphs" >1.31045</text>
<rect x="1167" y="350" width="2" height="1" fill="#000"/>
<text x="1172" y="354" font-size="9.5" fill="#000" stroke="#000" stroke-width="0.2" textLength="33" lengthAdjust="spacingAndGlyphs" >1.30490</text>
<rect x="1167" y="383" width="2" height="1" fill="#000"/>
<text x="1172" y="387" font-size="9.5" fill="#000" stroke="#000" stroke-width="0.2" textLength="33" lengthAdjust="spacingAndGlyphs" >1.29935</text>
<rect x="1167" y="416" width="2" height="1" fill="#000"/>
<text x="1172" y="420" font-size="9.5" fill="#000" stroke="#000" stroke-width="0.2" textLength="33" lengthAdjust="spacingAndGlyphs" >1.29395</text>
<rect x="1168" y="121" width="41" height="11" fill="#ff0000"/>
<text x="1172" y="129.5" font-size="9.5" fill="#fff" stroke="#fff" stroke-width="0.2" textLength="33" lengthAdjust="spacingAndGlyphs" >1.34217</text>
<rect x="1168" y="190" width="41" height="11" fill="#000000"/>
<text x="1172" y="198.5" font-size="9.5" fill="#fff" stroke="#fff" stroke-width="0.2" textLength="33" lengthAdjust="spacingAndGlyphs" >1.33082</text>
<rect x="1168" y="212" width="41" height="11" fill="#ff0000"/>
<text x="1172" y="220.5" font-size="9.5" fill="#fff" stroke="#fff" stroke-width="0.2" textLength="33" lengthAdjust="spacingAndGlyphs" >1.32700</text>
<rect x="1168" y="290" width="41" height="11" fill="#00ff00"/>
<text x="1172" y="298.5" font-size="9.5" fill="#fff" stroke="#fff" stroke-width="0.2" textLength="33" lengthAdjust="spacingAndGlyphs" >1.31400</text>
<rect x="1168" y="365" width="41" height="11" fill="#0000ff"/>
<text x="1172" y="373.5" font-size="9.5" fill="#fff" stroke="#fff" stroke-width="0.2" textLength="33" lengthAdjust="spacingAndGlyphs" >1.30150</text>
<rect x="1167" y="423" width="2" height="1" fill="#000"/>
<text x="1171" y="431.5" font-size="9.5" fill="#000" stroke="#000" stroke-width="0.2" textLength="37" lengthAdjust="spacingAndGlyphs" >0.006448</text>
<rect x="1167" y="450" width="2" height="1" fill="#000"/>
<text x="1171" y="454" font-size="9.5" fill="#000" stroke="#000" stroke-width="0.2" textLength="17.5" lengthAdjust="spacingAndGlyphs" >0.00</text>
<rect x="1167" y="488" width="2" height="1" fill="#000"/>
<text x="1170.5" y="486" font-size="9.5" fill="#000" stroke="#000" stroke-width="0.2" textLength="42" lengthAdjust="spacingAndGlyphs" >-0.008982</text>
<rect x="1167" y="493" width="2" height="1" fill="#000"/>
<text x="1171" y="501.5" font-size="9.5" fill="#000" stroke="#000" stroke-width="0.2" textLength="14.5" lengthAdjust="spacingAndGlyphs" >100</text>
<text x="1170" y="521" font-size="9.5" fill="#000" stroke="#000" stroke-width="0.2" textLength="9.5" lengthAdjust="spacingAndGlyphs" >70</text>
<text x="1170" y="554" font-size="9.5" fill="#000" stroke="#000" stroke-width="0.2" textLength="9.5" lengthAdjust="spacingAndGlyphs" >30</text>
<rect x="1167" y="574" width="2" height="1" fill="#000"/>
<text x="1171" y="572" font-size="9.5" fill="#000" stroke="#000" stroke-width="0.2" textLength="4.5" lengthAdjust="spacingAndGlyphs" >0</text>
<text x="8.5" y="434" font-size="9.5" fill="#000" stroke="#000" stroke-width="0.2" textLength="146.5" lengthAdjust="spacingAndGlyphs" >MACD(12,26,9) 0.005723 0.005027</text>
<text x="8.5" y="504" font-size="9.5" fill="#000" stroke="#000" stroke-width="0.2" textLength="66.5" lengthAdjust="spacingAndGlyphs" >RSI(14) 75.8213</text>
<rect x="4" y="576" width="1" height="3" fill="#000"/>
<text x="3.5" y="588" font-size="9.5" fill="#000" stroke="#000" stroke-width="0.2" textLength="53.2" lengthAdjust="spacingAndGlyphs" >18 May 2019</text>
<rect x="68" y="576" width="1" height="3" fill="#000"/>
<text x="67.5" y="588" font-size="9.5" fill="#000" stroke="#000" stroke-width="0.2" textLength="45.54" lengthAdjust="spacingAndGlyphs" >6 Jun 2019</text>
<rect x="132" y="576" width="1" height="3" fill="#000"/>
<text x="131.5" y="588" font-size="9.5" fill="#000" stroke="#000" stroke-width="0.2" textLength="50.66" lengthAdjust="spacingAndGlyphs" >25 Jun 2019</text>
<rect x="196" y="576" width="1" height="3" fill="#000"/>
<text x="195.5" y="588" font-size="9.5" fill="#000" stroke="#000" stroke-width="0.2" textLength="47.58" lengthAdjust="spacingAndGlyphs" >13 Jul 2019</text>
<rect x="260" y="576" width="1" height="3" fill="#000"/>
<text x="259.5" y="588" font-size="9.5" fill="#000" stroke="#000" stroke-width="0.2" textLength="46.58" lengthAdjust="spacingAndGlyphs" >1 Aug 2019</text>
<rect x="324" y="576" width="1" height="3" fill="#000"/>
<text x="323.5" y="588" font-size="9.5" fill="#000" stroke="#000" stroke-width="0.2" textLength="51.69" lengthAdjust="spacingAndGlyphs" >20 Aug 2019</text>
<rect x="388" y="576" width="1" height="3" fill="#000"/>
<text x="387.5" y="588" font-size="9.5" fill="#000" stroke="#000" stroke-width="0.2" textLength="47.08" lengthAdjust="spacingAndGlyphs" >7 Sep 2019</text>
<rect x="452" y="576" width="1" height="3" fill="#000"/>
<text x="451.5" y="588" font-size="9.5" fill="#000" stroke="#000" stroke-width="0.2" textLength="52.2" lengthAdjust="spacingAndGlyphs" >26 Sep 2019</text>
<rect x="516" y="576" width="1" height="3" fill="#000"/>
<text x="515.5" y="588" font-size="9.5" fill="#000" stroke="#000" stroke-width="0.2" textLength="50.14" lengthAdjust="spacingAndGlyphs" >15 Oct 2019</text>
<rect x="580" y="576" width="1" height="3" fill="#000"/>
<text x="579.5" y="588" font-size="9.5" fill="#000" stroke="#000" stroke-width="0.2" textLength="47.06" lengthAdjust="spacingAndGlyphs" >2 Nov 2019</text>
<rect x="644" y="576" width="1" height="3" fill="#000"/>
<text x="643.5" y="588" font-size="9.5" fill="#000" stroke="#000" stroke-width="0.2" textLength="52.18" lengthAdjust="spacingAndGlyphs" >21 Nov 2019</text>
<rect x="708" y="576" width="1" height="3" fill="#000"/>
<text x="707.5" y="588" font-size="9.5" fill="#000" stroke="#000" stroke-width="0.2" textLength="52.18" lengthAdjust="spacingAndGlyphs" >10 Dec 2019</text>
<rect x="772" y="576" width="1" height="3" fill="#000"/>
<text x="771.5" y="588" font-size="9.5" fill="#000" stroke="#000" stroke-width="0.2" textLength="52.18" lengthAdjust="spacingAndGlyphs" >28 Dec 2019</text>
<rect x="836" y="576" width="1" height="3" fill="#000"/>
<text x="835.5" y="588" font-size="9.5" fill="#000" stroke="#000" stroke-width="0.2" textLength="50.66" lengthAdjust="spacingAndGlyphs" >16 Jan 2020</text>
<rect x="900" y="576" width="1" height="3" fill="#000"/>
<text x="899.5" y="588" font-size="9.5" fill="#000" stroke="#000" stroke-width="0.2" textLength="46.56" lengthAdjust="spacingAndGlyphs" >4 Feb 2020</text>
<path d="M7,33 L10.5,28.5 L14,33 Z" fill="#000"/>
<text x="19.5" y="33.5" font-size="10" fill="#000" textLength="65" lengthAdjust="spacingAndGlyphs" >USDCAD,Daily</text>
<text x="91.2" y="33.5" font-size="10" fill="#000" textLength="140.5" lengthAdjust="spacingAndGlyphs" >1.33186 1.33259 1.33072 1.33082</text>
<rect x="1" y="596" width="1209" height="1" fill="#f0f0f0"/>
<rect x="0" y="598" width="1210" height="1" fill="#000"/>
<rect x="0" y="599" width="1210" height="18" fill="#f0f0f0"/>
<rect x="1" y="599" width="1209" height="1" fill="#ffffff"/>
<rect x="1" y="599" width="1" height="18" fill="#ffffff"/>
<rect x="0" y="596" width="1" height="21" fill="#555"/>
<rect x="0" y="617" width="1210" height="1" fill="#f0f0f0"/>
<rect x="0" y="618" width="1210" height="1" fill="#ffffff"/>
<rect x="0" y="619" width="1210" height="2" fill="#f0f0f0"/>
<rect x="313" y="597" width="104" height="20" fill="#ffffff"/>
<rect x="313" y="598" width="1" height="19" fill="#000"/>
<rect x="416" y="598" width="1" height="19" fill="#000"/>
<rect x="313" y="616" width="104" height="1" fill="#000"/>
<text x="17.5" y="612.5" font-size="12" fill="#707070" textLength="79.5" lengthAdjust="spacingAndGlyphs" >EURUSD,Daily</text>
<text x="120" y="612.5" font-size="12" fill="#707070" textLength="82" lengthAdjust="spacingAndGlyphs" >AUDUSD,Daily</text>
<text x="223" y="612.5" font-size="12" fill="#707070" textLength="79" lengthAdjust="spacingAndGlyphs" >USDCHF,Daily</text>
<text x="324.5" y="612.5" font-size="12" fill="#000" textLength="80.5" lengthAdjust="spacingAndGlyphs" >USDCAD,Daily</text>
<text x="427.6" y="612.5" font-size="12" fill="#707070" textLength="82" lengthAdjust="spacingAndGlyphs" >USDCNH,Daily</text>
<text x="532" y="612.5" font-size="12" fill="#707070" textLength="81" lengthAdjust="spacingAndGlyphs" >XAUUSD,Daily</text>
<text x="635.6" y="612.5" font-size="12" fill="#707070" textLength="46.4" lengthAdjust="spacingAndGlyphs" >DJ30,H4</text>
<text x="705.6" y="612.5" font-size="12" fill="#707070" textLength="71.4" lengthAdjust="spacingAndGlyphs" >USDOil,Daily</text>
<text x="799.6" y="612.5" font-size="12" fill="#707070" textLength="78.4" lengthAdjust="spacingAndGlyphs" >USDCHF,Daily</text>
<text x="901" y="612.5" font-size="12" fill="#707070" textLength="80" lengthAdjust="spacingAndGlyphs" >GBPUSD,Daily</text>
<text x="1005" y="612.5" font-size="12" fill="#707070" textLength="67" lengthAdjust="spacingAndGlyphs" >EURUSD,H1</text>
<text x="1096" y="612.5" font-size="12" fill="#707070" textLength="69" lengthAdjust="spacingAndGlyphs" >GBPAUD,H1</text>
<rect x="109" y="601" width="1" height="14" fill="#808080"/>
<rect x="213" y="601" width="1" height="14" fill="#808080"/>
<rect x="521" y="601" width="1" height="14" fill="#808080"/>
<rect x="625" y="601" width="1" height="14" fill="#808080"/>
<rect x="693" y="601" width="1" height="14" fill="#808080"/>
<rect x="789" y="601" width="1" height="14" fill="#808080"/>
<rect x="889" y="601" width="1" height="14" fill="#808080"/>
<rect x="993" y="601" width="1" height="14" fill="#808080"/>
<rect x="1085" y="601" width="1" height="14" fill="#808080"/>
<path d="M1185.5,603.5 L1182,606.5 L1185.5,609.5 Z" fill="#a0a0a0"/>
<path d="M1200.5,603 L1204.5,606.5 L1200.5,610 Z" fill="#000"/>
</svg>

<svg width="1210" height="621" style="pointer-events:none">

<defs>
<linearGradient id="pg" gradientUnits="userSpaceOnUse" x1="0" y1="42" x2="0" y2="106">
<stop offset="0" stop-color="#6464ff"/><stop offset="0.375" stop-color="#3636ec"/><stop offset="1" stop-color="#0000b0"/></linearGradient>
<linearGradient id="sg" x1="0" y1="0" x2="0" y2="1">
<stop offset="0" stop-color="#f6f6f6"/><stop offset="0.4" stop-color="#ececec"/><stop offset="0.42" stop-color="#dcdcdc"/><stop offset="1" stop-color="#d0d0d0"/></linearGradient>
</defs>
<rect x="5" y="40" width="223" height="68" fill="#fff"/>
<path d="M7.5,42.5 H58.5 V66.5 H115.5 V105.5 H7.5 Z" fill="url(#pg)" stroke="#0000b8" shape-rendering="crispEdges"/>
<path d="M174.5,42.5 H225.5 V105.5 H118.5 V66.5 H174.5 Z" fill="url(#pg)" stroke="#0000b8" shape-rendering="crispEdges"/>
<rect x="11" y="65" width="44" height="1" fill="#2424cc" shape-rendering="crispEdges"/>
<rect x="11" y="66" width="44" height="1" fill="#8c8cff" shape-rendering="crispEdges"/>
<rect x="178" y="65" width="44" height="1" fill="#2424cc" shape-rendering="crispEdges"/>
<rect x="178" y="66" width="44" height="1" fill="#8c8cff" shape-rendering="crispEdges"/>
<rect x="61.5" y="42.5" width="110" height="21" fill="#fff" stroke="#a8a8a8" shape-rendering="crispEdges"/>
<rect x="63.5" y="44.5" width="18" height="17" fill="url(#sg)" stroke="#c4c4c4" shape-rendering="crispEdges"/>
<rect x="151.5" y="44.5" width="18" height="17" fill="url(#sg)" stroke="#c4c4c4" shape-rendering="crispEdges"/>
<text x="19.5" y="58" font-size="12" fill="#e8e8ff" textLength="25.5" lengthAdjust="spacingAndGlyphs">SELL</text>
<text x="187.5" y="58" font-size="12" fill="#e8e8ff" textLength="22.5" lengthAdjust="spacingAndGlyphs">BUY</text>
<text x="123.5" y="57" font-size="12" fill="#000" textLength="22.5" lengthAdjust="spacingAndGlyphs">5.00</text>
<path d="M69,51 L74,51 L71.5,54 Z" fill="#5068b0"/>
<path d="M158,54 L163,54 L160.5,51 Z" fill="#5068b0"/>
<text x="27.5" y="97" font-size="12" font-weight="bold" fill="#fff" textLength="22.5" lengthAdjust="spacingAndGlyphs">1.33</text>
<text x="55" y="97" font-size="34" fill="#fff" textLength="34" lengthAdjust="spacingAndGlyphs">08</text>
<text x="94.5" y="80.8" font-size="10" font-weight="bold" fill="#fff" textLength="6" lengthAdjust="spacingAndGlyphs">2</text>
<text x="137.5" y="97" font-size="12" font-weight="bold" fill="#fff" textLength="22.5" lengthAdjust="spacingAndGlyphs">1.33</text>
<text x="167" y="97" font-size="34" fill="#fff" textLength="31" lengthAdjust="spacingAndGlyphs">10</text>
<text x="205" y="80.8" font-size="10" font-weight="bold" fill="#fff" textLength="7" lengthAdjust="spacingAndGlyphs">2</text>

</svg>
</body></html>
